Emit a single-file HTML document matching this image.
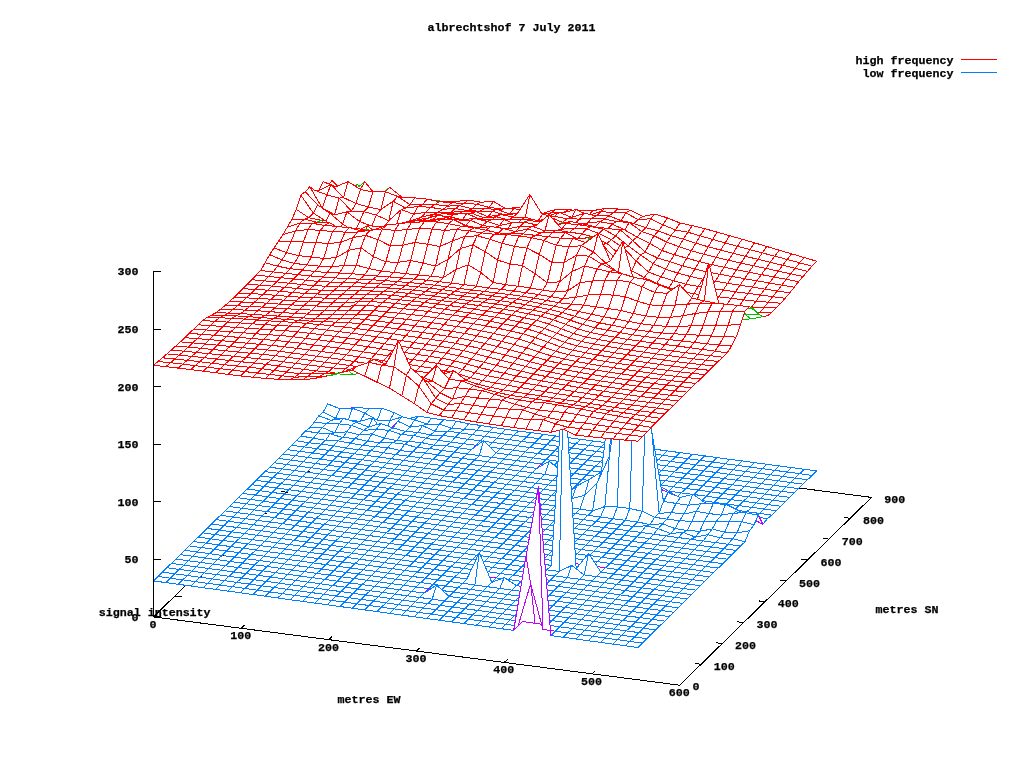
<!DOCTYPE html>
<html><head><meta charset="utf-8"><title>albrechtshof 7 July 2011</title>
<style>
html,body{margin:0;padding:0;background:#fff;}
body{width:1024px;height:768px;overflow:hidden;position:relative;font-family:"Liberation Mono",monospace;}
svg{position:absolute;left:0;top:0;}
.tx{pointer-events:none;}
.r{fill:#fff;stroke:#ff0000;}
.g{fill:#fff;stroke:#00c000;}
.b{fill:#fff;stroke:#0080ff;}
.m{fill:#fff;stroke:#c000ff;}
path{stroke-width:1;stroke-linejoin:bevel;}
.ax{stroke:#000;stroke-width:1;fill:none;}
text{font-family:"Liberation Mono",monospace;font-weight:bold;font-size:11.67px;fill:#000;stroke:#000;stroke-width:0.25px;}
</style></head><body>
<svg width="1024" height="768" viewBox="0 0 1024 768" shape-rendering="crispEdges" text-rendering="geometricPrecision">
<rect width="1024" height="768" fill="#fff"/>
<path class="ax" d="M153.5,616.9 L345.3,429.1"/>
<path class="ax" d="M871.5,497.4 L345.3,429.1"/>
<path class="ax" d="M174.8,596 L181.8,596.9"/>
<path class="ax" d="M196.1,575.2 L203.1,576.1"/>
<path class="ax" d="M217.4,554.3 L224.4,555.2"/>
<path class="ax" d="M238.7,533.4 L245.7,534.3"/>
<path class="ax" d="M260.1,512.6 L267.1,513.5"/>
<path class="ax" d="M281.4,491.7 L288.4,492.6"/>
<path class="ax" d="M302.7,470.8 L309.7,471.7"/>
<path class="ax" d="M324,450 L331,450.9"/>
<path class="ax" d="M345.3,429.1 L352.3,430"/>
<g>
<path class="m" d="M327.6,403.8 340.1,408.9 344.5,409.1 332.1,408.3z"/>
<path class="r" d="M327.6,185.6 340.1,192.3 344.5,193.4 332.1,180.6z"/>
<path class="m" d="M340.1,408.9 352.5,408.2 356.9,407.1 344.5,409.1z"/>
<path class="r" d="M340.1,192.3 352.5,191.6 356.9,184.5 344.5,193.4z"/>
<path class="b" d="M352.5,408.2 364.9,413 369.4,408.9 356.9,407.1z"/>
<path class="g" d="M352.5,191.6 364.9,181.7 369.4,192.3 356.9,184.5z"/>
<path class="b" d="M364.9,413 377.3,420.3 381.8,408.1 369.4,408.9z"/>
<path class="g" d="M364.9,181.7 377.3,197.2 381.8,195.1 369.4,192.3z"/>
<path class="b" d="M377.3,420.3 389.7,420.6 394.2,412.7 381.8,408.1z"/>
<path class="g" d="M377.3,197.2 389.7,187.4 394.2,201.3 381.8,195.1z"/>
<path class="b" d="M389.7,420.6 402.2,416.9 406.6,419 394.2,412.7z"/>
<path class="g" d="M389.7,187.4 402.2,197.4 406.6,200.7 394.2,201.3z"/>
<path class="b" d="M402.2,416.9 414.6,419.7 419,416.1 406.6,419z"/>
<path class="g" d="M402.2,197.4 414.6,197.9 419,200.6 406.6,200.7z"/>
<path class="b" d="M414.6,419.7 427,424 431.5,418.3 419,416.1z"/>
<path class="g" d="M414.6,197.9 427,199.1 431.5,200.8 419,200.6z"/>
<path class="b" d="M427,424 439.4,424 443.9,419.8 431.5,418.3z"/>
<path class="g" d="M427,199.1 439.4,201.6 443.9,201.1 431.5,200.8z"/>
<path class="b" d="M439.4,424 451.8,428.2 456.3,421.1 443.9,419.8z"/>
<path class="r" d="M439.4,201.6 451.8,202.9 456.3,201.4 443.9,201.1z"/>
<path class="b" d="M451.8,428.2 464.3,429.3 468.7,423.8 456.3,421.1z"/>
<path class="r" d="M451.8,202.9 464.3,203.2 468.7,200 456.3,201.4z"/>
<path class="b" d="M464.3,429.3 476.7,430.1 481.1,425.5 468.7,423.8z"/>
<path class="r" d="M464.3,203.2 476.7,204.2 481.1,202.2 468.7,200z"/>
<path class="b" d="M476.7,430.1 489.1,431.9 493.6,427.5 481.1,425.5z"/>
<path class="r" d="M476.7,204.2 489.1,207.2 493.6,201.5 481.1,202.2z"/>
<path class="b" d="M489.1,431.9 501.5,433.7 506,429.3 493.6,427.5z"/>
<path class="r" d="M489.1,207.2 501.5,209.1 506,208.7 493.6,201.5z"/>
<path class="b" d="M501.5,433.7 513.9,435.3 518.4,431 506,429.3z"/>
<path class="r" d="M501.5,209.1 513.9,208.3 518.4,207.3 506,208.7z"/>
<path class="b" d="M513.9,435.3 526.4,437 530.8,432.6 518.4,431z"/>
<path class="r" d="M513.9,208.3 526.4,212.1 530.8,212.1 518.4,207.3z"/>
<path class="b" d="M526.4,437 538.8,438.7 543.2,434.3 530.8,432.6z"/>
<path class="r" d="M526.4,212.1 538.8,214.4 543.2,213.2 530.8,212.1z"/>
<path class="b" d="M538.8,438.7 551.2,440.3 555.7,436 543.2,434.3z"/>
<path class="r" d="M538.8,214.4 551.2,212.9 555.7,209.4 543.2,213.2z"/>
<path class="b" d="M551.2,440.3 563.6,442 568.1,437.6 555.7,436z"/>
<path class="r" d="M551.2,212.9 563.6,212.7 568.1,209.6 555.7,209.4z"/>
<path class="b" d="M563.6,442 576,443.7 580.5,439.3 568.1,437.6z"/>
<path class="r" d="M563.6,212.7 576,209.6 580.5,210.8 568.1,209.6z"/>
<path class="b" d="M576,443.7 588.5,445.3 592.9,441 580.5,439.3z"/>
<path class="r" d="M576,209.6 588.5,215.3 592.9,210.7 580.5,210.8z"/>
<path class="b" d="M588.5,445.3 600.9,447 605.3,442.6 592.9,441z"/>
<path class="r" d="M588.5,215.3 600.9,211.5 605.3,208.3 592.9,210.7z"/>
<path class="b" d="M600.9,447 613.3,448.7 617.8,444.3 605.3,442.6z"/>
<path class="r" d="M600.9,211.5 613.3,212.7 617.8,209 605.3,208.3z"/>
<path class="b" d="M613.3,448.7 625.7,450.3 630.2,445.9 617.8,444.3z"/>
<path class="r" d="M613.3,212.7 625.7,212.9 630.2,210.1 617.8,209z"/>
<path class="b" d="M625.7,450.3 638.1,452 642.6,447.6 630.2,445.9z"/>
<path class="r" d="M625.7,212.9 638.1,219.5 642.6,216.4 630.2,210.1z"/>
<path class="b" d="M638.1,452 650.6,453.7 655,449.3 642.6,447.6z"/>
<path class="r" d="M638.1,219.5 650.6,218.8 655,214 642.6,216.4z"/>
<path class="b" d="M650.6,453.7 663,455.3 667.4,450.9 655,449.3z"/>
<path class="r" d="M650.6,218.8 663,224.8 667.4,217.9 655,214z"/>
<path class="b" d="M663,455.3 675.4,457 679.9,452.6 667.4,450.9z"/>
<path class="r" d="M663,224.8 675.4,230 679.9,223 667.4,217.9z"/>
<path class="b" d="M675.4,457 687.8,458.7 692.3,454.3 679.9,452.6z"/>
<path class="r" d="M675.4,230 687.8,232.2 692.3,225.6 679.9,223z"/>
<path class="b" d="M687.8,458.7 700.2,460.3 704.7,455.9 692.3,454.3z"/>
<path class="r" d="M687.8,232.2 700.2,235.9 704.7,228.7 692.3,225.6z"/>
<path class="b" d="M700.2,460.3 712.7,462 717.1,457.6 704.7,455.9z"/>
<path class="r" d="M700.2,235.9 712.7,239.4 717.1,232.1 704.7,228.7z"/>
<path class="b" d="M712.7,462 725.1,463.7 729.5,459.3 717.1,457.6z"/>
<path class="r" d="M712.7,239.4 725.1,242.9 729.5,235.6 717.1,232.1z"/>
<path class="b" d="M725.1,463.7 737.5,465.4 742,460.9 729.5,459.3z"/>
<path class="r" d="M725.1,242.9 737.5,246.3 742,239.2 729.5,235.6z"/>
<path class="b" d="M737.5,465.4 749.9,467 754.4,462.6 742,460.9z"/>
<path class="r" d="M737.5,246.3 749.9,249.6 754.4,242.8 742,239.2z"/>
<path class="b" d="M749.9,467 762.3,468.7 766.8,464.3 754.4,462.6z"/>
<path class="r" d="M749.9,249.6 762.3,252.9 766.8,246.5 754.4,242.8z"/>
<path class="b" d="M762.3,468.7 774.8,470.4 779.2,465.9 766.8,464.3z"/>
<path class="r" d="M762.3,252.9 774.8,256.2 779.2,250.2 766.8,246.5z"/>
<path class="b" d="M774.8,470.4 787.2,472 791.6,467.6 779.2,465.9z"/>
<path class="r" d="M774.8,256.2 787.2,259.5 791.6,253.8 779.2,250.2z"/>
<path class="b" d="M787.2,472 799.6,473.7 804.1,469.3 791.6,467.6z"/>
<path class="r" d="M787.2,259.5 799.6,262.8 804.1,257.5 791.6,253.8z"/>
<path class="b" d="M799.6,473.7 812,475.4 816.5,470.9 804.1,469.3z"/>
<path class="r" d="M799.6,262.8 812,266.2 816.5,261.2 804.1,257.5z"/>
<path class="b" d="M323.2,412.1 335.6,418.3 340.1,408.9 327.6,403.8z"/>
<path class="g" d="M323.2,181.6 335.6,186.9 340.1,192.3 327.6,185.6z"/>
<path class="b" d="M335.6,418.3 348,420.5 352.5,408.2 340.1,408.9z"/>
<path class="g" d="M335.6,186.9 348,181.6 352.5,191.6 340.1,192.3z"/>
<path class="b" d="M348,420.5 360.4,421.2 364.9,413 352.5,408.2z"/>
<path class="g" d="M348,181.6 360.4,189.4 364.9,181.7 352.5,191.6z"/>
<path class="b" d="M360.4,421.2 372.9,417.7 377.3,420.3 364.9,413z"/>
<path class="r" d="M360.4,189.4 372.9,191.9 377.3,197.2 364.9,181.7z"/>
<path class="b" d="M372.9,417.7 385.3,435.8 389.7,420.6 377.3,420.3z"/>
<path class="g" d="M372.9,191.9 385.3,191.6 389.7,187.4 377.3,197.2z"/>
<path class="b" d="M385.3,435.8 397.7,421.1 402.2,416.9 389.7,420.6z"/>
<path class="r" d="M385.3,191.6 397.7,196.5 402.2,197.4 389.7,187.4z"/>
<path class="b" d="M397.7,421.1 410.1,427.1 414.6,419.7 402.2,416.9z"/>
<path class="r" d="M397.7,196.5 410.1,204.6 414.6,197.9 402.2,197.4z"/>
<path class="b" d="M410.1,427.1 422.5,425.6 427,424 414.6,419.7z"/>
<path class="r" d="M410.1,204.6 422.5,204.9 427,199.1 414.6,197.9z"/>
<path class="b" d="M422.5,425.6 434.9,431.2 439.4,424 427,424z"/>
<path class="r" d="M422.5,204.9 434.9,204.5 439.4,201.6 427,199.1z"/>
<path class="b" d="M434.9,431.2 447.4,431.2 451.8,428.2 439.4,424z"/>
<path class="r" d="M434.9,204.5 447.4,206.1 451.8,202.9 439.4,201.6z"/>
<path class="b" d="M447.4,431.2 459.8,432.8 464.3,429.3 451.8,428.2z"/>
<path class="r" d="M447.4,206.1 459.8,205.6 464.3,203.2 451.8,202.9z"/>
<path class="b" d="M459.8,432.8 472.2,434.7 476.7,430.1 464.3,429.3z"/>
<path class="r" d="M459.8,205.6 472.2,208.9 476.7,204.2 464.3,203.2z"/>
<path class="b" d="M472.2,434.7 484.6,436.3 489.1,431.9 476.7,430.1z"/>
<path class="r" d="M472.2,208.9 484.6,208.7 489.1,207.2 476.7,204.2z"/>
<path class="b" d="M484.6,436.3 497,438.1 501.5,433.7 489.1,431.9z"/>
<path class="r" d="M484.6,208.7 497,209.3 501.5,209.1 489.1,207.2z"/>
<path class="b" d="M497,438.1 509.5,439.7 513.9,435.3 501.5,433.7z"/>
<path class="r" d="M497,209.3 509.5,214.1 513.9,208.3 501.5,209.1z"/>
<path class="b" d="M509.5,439.7 521.9,441.4 526.4,437 513.9,435.3z"/>
<path class="r" d="M509.5,214.1 521.9,212.5 526.4,212.1 513.9,208.3z"/>
<path class="b" d="M521.9,441.4 534.3,443.1 538.8,438.7 526.4,437z"/>
<path class="r" d="M521.9,212.5 534.3,216.8 538.8,214.4 526.4,212.1z"/>
<path class="b" d="M534.3,443.1 546.7,444.7 551.2,440.3 538.8,438.7z"/>
<path class="r" d="M534.3,216.8 546.7,216.5 551.2,212.9 538.8,214.4z"/>
<path class="b" d="M546.7,444.7 559.1,446.4 563.6,442 551.2,440.3z"/>
<path class="r" d="M546.7,216.5 559.1,212.3 563.6,212.7 551.2,212.9z"/>
<path class="b" d="M559.1,446.4 571.6,448.1 576,443.7 563.6,442z"/>
<path class="r" d="M559.1,212.3 571.6,217.4 576,209.6 563.6,212.7z"/>
<path class="b" d="M571.6,448.1 584,449.7 588.5,445.3 576,443.7z"/>
<path class="r" d="M571.6,217.4 584,213.2 588.5,215.3 576,209.6z"/>
<path class="b" d="M584,449.7 596.4,451.4 600.9,447 588.5,445.3z"/>
<path class="r" d="M584,213.2 596.4,215.9 600.9,211.5 588.5,215.3z"/>
<path class="b" d="M596.4,451.4 608.8,453.1 613.3,448.7 600.9,447z"/>
<path class="r" d="M596.4,215.9 608.8,215.9 613.3,212.7 600.9,211.5z"/>
<path class="b" d="M608.8,453.1 621.2,454.7 625.7,450.3 613.3,448.7z"/>
<path class="r" d="M608.8,215.9 621.2,220.5 625.7,212.9 613.3,212.7z"/>
<path class="b" d="M621.2,454.7 633.7,456.4 638.1,452 625.7,450.3z"/>
<path class="r" d="M621.2,220.5 633.7,223.5 638.1,219.5 625.7,212.9z"/>
<path class="b" d="M633.7,456.4 646.1,458.1 650.6,453.7 638.1,452z"/>
<path class="r" d="M633.7,223.5 646.1,227.8 650.6,218.8 638.1,219.5z"/>
<path class="b" d="M646.1,458.1 658.5,459.8 663,455.3 650.6,453.7z"/>
<path class="r" d="M646.1,227.8 658.5,231 663,224.8 650.6,218.8z"/>
<path class="b" d="M658.5,459.8 670.9,461.4 675.4,457 663,455.3z"/>
<path class="r" d="M658.5,231 670.9,235.7 675.4,230 663,224.8z"/>
<path class="b" d="M670.9,461.4 683.4,463.1 687.8,458.7 675.4,457z"/>
<path class="r" d="M670.9,235.7 683.4,239.1 687.8,232.2 675.4,230z"/>
<path class="b" d="M683.4,463.1 695.8,464.8 700.2,460.3 687.8,458.7z"/>
<path class="r" d="M683.4,239.1 695.8,243.2 700.2,235.9 687.8,232.2z"/>
<path class="b" d="M695.8,464.8 708.2,466.4 712.7,462 700.2,460.3z"/>
<path class="r" d="M695.8,243.2 708.2,246.8 712.7,239.4 700.2,235.9z"/>
<path class="b" d="M708.2,466.4 720.6,468.1 725.1,463.7 712.7,462z"/>
<path class="r" d="M708.2,246.8 720.6,250.1 725.1,242.9 712.7,239.4z"/>
<path class="b" d="M720.6,468.1 733,469.8 737.5,465.4 725.1,463.7z"/>
<path class="r" d="M720.6,250.1 733,253.3 737.5,246.3 725.1,242.9z"/>
<path class="b" d="M733,469.8 745.4,471.4 749.9,467 737.5,465.4z"/>
<path class="r" d="M733,253.3 745.4,256.3 749.9,249.6 737.5,246.3z"/>
<path class="b" d="M745.4,471.4 757.9,473.1 762.3,468.7 749.9,467z"/>
<path class="r" d="M745.4,256.3 757.9,259.3 762.3,252.9 749.9,249.6z"/>
<path class="b" d="M757.9,473.1 770.3,474.8 774.8,470.4 762.3,468.7z"/>
<path class="r" d="M757.9,259.3 770.3,262.3 774.8,256.2 762.3,252.9z"/>
<path class="b" d="M770.3,474.8 782.7,476.4 787.2,472 774.8,470.4z"/>
<path class="r" d="M770.3,262.3 782.7,265.3 787.2,259.5 774.8,256.2z"/>
<path class="b" d="M782.7,476.4 795.1,478.1 799.6,473.7 787.2,472z"/>
<path class="r" d="M782.7,265.3 795.1,268.3 799.6,262.8 787.2,259.5z"/>
<path class="b" d="M795.1,478.1 807.5,479.8 812,475.4 799.6,473.7z"/>
<path class="r" d="M795.1,268.3 807.5,271.3 812,266.2 799.6,262.8z"/>
<path class="b" d="M318.7,415.9 331.1,420.3 335.6,418.3 323.2,412.1z"/>
<path class="r" d="M318.7,190.7 331.1,184.6 335.6,186.9 323.2,181.6z"/>
<path class="b" d="M331.1,420.3 343.5,418.4 348,420.5 335.6,418.3z"/>
<path class="r" d="M331.1,184.6 343.5,197.6 348,181.6 335.6,186.9z"/>
<path class="b" d="M343.5,418.4 356,422.1 360.4,421.2 348,420.5z"/>
<path class="r" d="M343.5,197.6 356,203.5 360.4,189.4 348,181.6z"/>
<path class="b" d="M356,422.1 368.4,427.1 372.9,417.7 360.4,421.2z"/>
<path class="r" d="M356,203.5 368.4,207 372.9,191.9 360.4,189.4z"/>
<path class="b" d="M368.4,427.1 380.8,423.4 385.3,435.8 372.9,417.7z"/>
<path class="r" d="M368.4,207 380.8,209.5 385.3,191.6 372.9,191.9z"/>
<path class="m" d="M380.8,423.4 393.2,428.1 397.7,421.1 385.3,435.8z"/>
<path class="r" d="M380.8,209.5 393.2,201.3 397.7,196.5 385.3,191.6z"/>
<path class="b" d="M393.2,428.1 405.6,431.4 410.1,427.1 397.7,421.1z"/>
<path class="r" d="M393.2,201.3 405.6,208.1 410.1,204.6 397.7,196.5z"/>
<path class="b" d="M405.6,431.4 418.1,432.4 422.5,425.6 410.1,427.1z"/>
<path class="r" d="M405.6,208.1 418.1,206.4 422.5,204.9 410.1,204.6z"/>
<path class="b" d="M418.1,432.4 430.5,435 434.9,431.2 422.5,425.6z"/>
<path class="r" d="M418.1,206.4 430.5,207.4 434.9,204.5 422.5,204.9z"/>
<path class="b" d="M430.5,435 442.9,435.4 447.4,431.2 434.9,431.2z"/>
<path class="r" d="M430.5,207.4 442.9,209.3 447.4,206.1 434.9,204.5z"/>
<path class="b" d="M442.9,435.4 455.3,437.2 459.8,432.8 447.4,431.2z"/>
<path class="r" d="M442.9,209.3 455.3,208.5 459.8,205.6 447.4,206.1z"/>
<path class="b" d="M455.3,437.2 467.7,439.3 472.2,434.7 459.8,432.8z"/>
<path class="r" d="M455.3,208.5 467.7,210.7 472.2,208.9 459.8,205.6z"/>
<path class="b" d="M467.7,439.3 480.2,440.8 484.6,436.3 472.2,434.7z"/>
<path class="r" d="M467.7,210.7 480.2,211.2 484.6,208.7 472.2,208.9z"/>
<path class="b" d="M480.2,440.8 492.6,442.5 497,438.1 484.6,436.3z"/>
<path class="r" d="M480.2,211.2 492.6,211.2 497,209.3 484.6,208.7z"/>
<path class="b" d="M492.6,442.5 505,444.1 509.5,439.7 497,438.1z"/>
<path class="r" d="M492.6,211.2 505,215.1 509.5,214.1 497,209.3z"/>
<path class="b" d="M505,444.1 517.4,445.8 521.9,441.4 509.5,439.7z"/>
<path class="r" d="M505,215.1 517.4,213.4 521.9,212.5 509.5,214.1z"/>
<path class="b" d="M517.4,445.8 529.8,447.5 534.3,443.1 521.9,441.4z"/>
<path class="g" d="M517.4,213.4 529.8,194.6 534.3,216.8 521.9,212.5z"/>
<path class="b" d="M529.8,447.5 542.3,449.1 546.7,444.7 534.3,443.1z"/>
<path class="g" d="M529.8,194.6 542.3,214.5 546.7,216.5 534.3,216.8z"/>
<path class="b" d="M542.3,449.1 554.7,450.8 559.1,446.4 546.7,444.7z"/>
<path class="r" d="M542.3,214.5 554.7,216.4 559.1,212.3 546.7,216.5z"/>
<path class="b" d="M554.7,450.8 567.1,452.5 571.6,448.1 559.1,446.4z"/>
<path class="r" d="M554.7,216.4 567.1,218.7 571.6,217.4 559.1,212.3z"/>
<path class="b" d="M567.1,452.5 579.5,454.1 584,449.7 571.6,448.1z"/>
<path class="r" d="M567.1,218.7 579.5,219.1 584,213.2 571.6,217.4z"/>
<path class="b" d="M579.5,454.1 591.9,455.8 596.4,451.4 584,449.7z"/>
<path class="r" d="M579.5,219.1 591.9,218.2 596.4,215.9 584,213.2z"/>
<path class="b" d="M591.9,455.8 604.4,457.5 608.8,453.1 596.4,451.4z"/>
<path class="r" d="M591.9,218.2 604.4,219 608.8,215.9 596.4,215.9z"/>
<path class="b" d="M604.4,457.5 616.8,459.1 621.2,454.7 608.8,453.1z"/>
<path class="r" d="M604.4,219 616.8,221.5 621.2,220.5 608.8,215.9z"/>
<path class="b" d="M616.8,459.1 629.2,460.8 633.7,456.4 621.2,454.7z"/>
<path class="r" d="M616.8,221.5 629.2,222.5 633.7,223.5 621.2,220.5z"/>
<path class="b" d="M629.2,460.8 641.6,462.5 646.1,458.1 633.7,456.4z"/>
<path class="r" d="M629.2,222.5 641.6,231.5 646.1,227.8 633.7,223.5z"/>
<path class="b" d="M641.6,462.5 654,464.2 658.5,459.8 646.1,458.1z"/>
<path class="r" d="M641.6,231.5 654,235.8 658.5,231 646.1,227.8z"/>
<path class="b" d="M654,464.2 666.5,465.8 670.9,461.4 658.5,459.8z"/>
<path class="r" d="M654,235.8 666.5,242 670.9,235.7 658.5,231z"/>
<path class="b" d="M666.5,465.8 678.9,467.5 683.4,463.1 670.9,461.4z"/>
<path class="r" d="M666.5,242 678.9,246.6 683.4,239.1 670.9,235.7z"/>
<path class="b" d="M678.9,467.5 691.3,469.2 695.8,464.8 683.4,463.1z"/>
<path class="r" d="M678.9,246.6 691.3,250.7 695.8,243.2 683.4,239.1z"/>
<path class="b" d="M691.3,469.2 703.7,470.8 708.2,466.4 695.8,464.8z"/>
<path class="r" d="M691.3,250.7 703.7,254.2 708.2,246.8 695.8,243.2z"/>
<path class="b" d="M703.7,470.8 716.1,472.5 720.6,468.1 708.2,466.4z"/>
<path class="r" d="M703.7,254.2 716.1,257.4 720.6,250.1 708.2,246.8z"/>
<path class="b" d="M716.1,472.5 728.6,474.2 733,469.8 720.6,468.1z"/>
<path class="r" d="M716.1,257.4 728.6,260.3 733,253.3 720.6,250.1z"/>
<path class="b" d="M728.6,474.2 741,475.8 745.4,471.4 733,469.8z"/>
<path class="r" d="M728.6,260.3 741,263.1 745.4,256.3 733,253.3z"/>
<path class="b" d="M741,475.8 753.4,477.5 757.9,473.1 745.4,471.4z"/>
<path class="r" d="M741,263.1 753.4,265.7 757.9,259.3 745.4,256.3z"/>
<path class="b" d="M753.4,477.5 765.8,479.2 770.3,474.8 757.9,473.1z"/>
<path class="r" d="M753.4,265.7 765.8,268.4 770.3,262.3 757.9,259.3z"/>
<path class="b" d="M765.8,479.2 778.2,480.8 782.7,476.4 770.3,474.8z"/>
<path class="r" d="M765.8,268.4 778.2,271.1 782.7,265.3 770.3,262.3z"/>
<path class="b" d="M778.2,480.8 790.7,482.5 795.1,478.1 782.7,476.4z"/>
<path class="r" d="M778.2,271.1 790.7,273.8 795.1,268.3 782.7,265.3z"/>
<path class="b" d="M790.7,482.5 803.1,484.2 807.5,479.8 795.1,478.1z"/>
<path class="r" d="M790.7,273.8 803.1,276.4 807.5,271.3 795.1,268.3z"/>
<path class="b" d="M314.2,422.3 326.7,423.5 331.1,420.3 318.7,415.9z"/>
<path class="r" d="M314.2,190 326.7,194.8 331.1,184.6 318.7,190.7z"/>
<path class="b" d="M326.7,423.5 339.1,423.9 343.5,418.4 331.1,420.3z"/>
<path class="r" d="M326.7,194.8 339.1,198.1 343.5,197.6 331.1,184.6z"/>
<path class="b" d="M339.1,423.9 351.5,425.3 356,422.1 343.5,418.4z"/>
<path class="r" d="M339.1,198.1 351.5,211 356,203.5 343.5,197.6z"/>
<path class="b" d="M351.5,425.3 363.9,430.2 368.4,427.1 356,422.1z"/>
<path class="r" d="M351.5,211 363.9,211.6 368.4,207 356,203.5z"/>
<path class="b" d="M363.9,430.2 376.3,429.6 380.8,423.4 368.4,427.1z"/>
<path class="r" d="M363.9,211.6 376.3,215.1 380.8,209.5 368.4,207z"/>
<path class="b" d="M376.3,429.6 388.8,430.2 393.2,428.1 380.8,423.4z"/>
<path class="r" d="M376.3,215.1 388.8,220.7 393.2,201.3 380.8,209.5z"/>
<path class="b" d="M388.8,430.2 401.2,434.6 405.6,431.4 393.2,428.1z"/>
<path class="r" d="M388.8,220.7 401.2,209.6 405.6,208.1 393.2,201.3z"/>
<path class="b" d="M401.2,434.6 413.6,435.5 418.1,432.4 405.6,431.4z"/>
<path class="r" d="M401.2,209.6 413.6,214.2 418.1,206.4 405.6,208.1z"/>
<path class="b" d="M413.6,435.5 426,438.3 430.5,435 418.1,432.4z"/>
<path class="r" d="M413.6,214.2 426,212.2 430.5,207.4 418.1,206.4z"/>
<path class="b" d="M426,438.3 438.4,440.3 442.9,435.4 430.5,435z"/>
<path class="r" d="M426,212.2 438.4,212.1 442.9,209.3 430.5,207.4z"/>
<path class="b" d="M438.4,440.3 450.9,442.2 455.3,437.2 442.9,435.4z"/>
<path class="r" d="M438.4,212.1 450.9,212.3 455.3,208.5 442.9,209.3z"/>
<path class="b" d="M450.9,442.2 463.3,443.7 467.7,439.3 455.3,437.2z"/>
<path class="r" d="M450.9,212.3 463.3,211.2 467.7,210.7 455.3,208.5z"/>
<path class="b" d="M463.3,443.7 475.7,445.2 480.2,440.8 467.7,439.3z"/>
<path class="r" d="M463.3,211.2 475.7,211.6 480.2,211.2 467.7,210.7z"/>
<path class="b" d="M475.7,445.2 488.1,446.8 492.6,442.5 480.2,440.8z"/>
<path class="r" d="M475.7,211.6 488.1,216.8 492.6,211.2 480.2,211.2z"/>
<path class="b" d="M488.1,446.8 500.5,448.5 505,444.1 492.6,442.5z"/>
<path class="r" d="M488.1,216.8 500.5,214.5 505,215.1 492.6,211.2z"/>
<path class="b" d="M500.5,448.5 513,450.2 517.4,445.8 505,444.1z"/>
<path class="r" d="M500.5,214.5 513,217 517.4,213.4 505,215.1z"/>
<path class="b" d="M513,450.2 525.4,451.9 529.8,447.5 517.4,445.8z"/>
<path class="r" d="M513,217 525.4,217 529.8,194.6 517.4,213.4z"/>
<path class="b" d="M525.4,451.9 537.8,453.5 542.3,449.1 529.8,447.5z"/>
<path class="r" d="M525.4,217 537.8,221.2 542.3,214.5 529.8,194.6z"/>
<path class="b" d="M537.8,453.5 550.2,455.2 554.7,450.8 542.3,449.1z"/>
<path class="r" d="M537.8,221.2 550.2,217.2 554.7,216.4 542.3,214.5z"/>
<path class="b" d="M550.2,455.2 562.6,456.9 567.1,452.5 554.7,450.8z"/>
<path class="r" d="M550.2,217.2 562.6,222.4 567.1,218.7 554.7,216.4z"/>
<path class="b" d="M562.6,456.9 575.1,458.5 579.5,454.1 567.1,452.5z"/>
<path class="r" d="M562.6,222.4 575.1,223.1 579.5,219.1 567.1,218.7z"/>
<path class="b" d="M575.1,458.5 587.5,460.2 591.9,455.8 579.5,454.1z"/>
<path class="r" d="M575.1,223.1 587.5,223.1 591.9,218.2 579.5,219.1z"/>
<path class="b" d="M587.5,460.2 599.9,461.9 604.4,457.5 591.9,455.8z"/>
<path class="r" d="M587.5,223.1 599.9,221.7 604.4,219 591.9,218.2z"/>
<path class="b" d="M599.9,461.9 612.3,463.5 616.8,459.1 604.4,457.5z"/>
<path class="r" d="M599.9,221.7 612.3,224.1 616.8,221.5 604.4,219z"/>
<path class="b" d="M612.3,463.5 624.7,465.2 629.2,460.8 616.8,459.1z"/>
<path class="r" d="M612.3,224.1 624.7,229.9 629.2,222.5 616.8,221.5z"/>
<path class="b" d="M624.7,465.2 637.2,466.9 641.6,462.5 629.2,460.8z"/>
<path class="r" d="M624.7,229.9 637.2,237.1 641.6,231.5 629.2,222.5z"/>
<path class="b" d="M637.2,466.9 649.6,468.6 654,464.2 641.6,462.5z"/>
<path class="r" d="M637.2,237.1 649.6,243.4 654,235.8 641.6,231.5z"/>
<path class="b" d="M649.6,468.6 662,470.2 666.5,465.8 654,464.2z"/>
<path class="r" d="M649.6,243.4 662,250.5 666.5,242 654,235.8z"/>
<path class="b" d="M662,470.2 674.4,471.9 678.9,467.5 666.5,465.8z"/>
<path class="r" d="M662,250.5 674.4,254.7 678.9,246.6 666.5,242z"/>
<path class="b" d="M674.4,471.9 686.8,473.6 691.3,469.2 678.9,467.5z"/>
<path class="r" d="M674.4,254.7 686.8,258.2 691.3,250.7 678.9,246.6z"/>
<path class="b" d="M686.8,473.6 699.3,475.2 703.7,470.8 691.3,469.2z"/>
<path class="r" d="M686.8,258.2 699.3,261.6 703.7,254.2 691.3,250.7z"/>
<path class="b" d="M699.3,475.2 711.7,476.9 716.1,472.5 703.7,470.8z"/>
<path class="r" d="M699.3,261.6 711.7,264.6 716.1,257.4 703.7,254.2z"/>
<path class="b" d="M711.7,476.9 724.1,478.6 728.6,474.2 716.1,472.5z"/>
<path class="r" d="M711.7,264.6 724.1,267.3 728.6,260.3 716.1,257.4z"/>
<path class="b" d="M724.1,478.6 736.5,480.2 741,475.8 728.6,474.2z"/>
<path class="r" d="M724.1,267.3 736.5,269.8 741,263.1 728.6,260.3z"/>
<path class="b" d="M736.5,480.2 748.9,481.9 753.4,477.5 741,475.8z"/>
<path class="r" d="M736.5,269.8 748.9,272.2 753.4,265.7 741,263.1z"/>
<path class="b" d="M748.9,481.9 761.4,483.6 765.8,479.2 753.4,477.5z"/>
<path class="r" d="M748.9,272.2 761.4,274.6 765.8,268.4 753.4,265.7z"/>
<path class="b" d="M761.4,483.6 773.8,485.3 778.2,480.8 765.8,479.2z"/>
<path class="r" d="M761.4,274.6 773.8,277 778.2,271.1 765.8,268.4z"/>
<path class="b" d="M773.8,485.3 786.2,486.9 790.7,482.5 778.2,480.8z"/>
<path class="r" d="M773.8,277 786.2,279.3 790.7,273.8 778.2,271.1z"/>
<path class="b" d="M786.2,486.9 798.6,488.6 803.1,484.2 790.7,482.5z"/>
<path class="r" d="M786.2,279.3 798.6,281.7 803.1,276.4 790.7,273.8z"/>
<path class="b" d="M309.8,427.7 322.2,427.5 326.7,423.5 314.2,422.3z"/>
<path class="r" d="M309.8,186.7 322.2,208.1 326.7,194.8 314.2,190z"/>
<path class="b" d="M322.2,427.5 334.6,432.9 339.1,423.9 326.7,423.5z"/>
<path class="r" d="M322.2,208.1 334.6,214.7 339.1,198.1 326.7,194.8z"/>
<path class="b" d="M334.6,432.9 347,431.8 351.5,425.3 339.1,423.9z"/>
<path class="r" d="M334.6,214.7 347,211.9 351.5,211 339.1,198.1z"/>
<path class="b" d="M347,431.8 359.5,434.8 363.9,430.2 351.5,425.3z"/>
<path class="r" d="M347,211.9 359.5,221.6 363.9,211.6 351.5,211z"/>
<path class="b" d="M359.5,434.8 371.9,433.9 376.3,429.6 363.9,430.2z"/>
<path class="r" d="M359.5,221.6 371.9,226 376.3,215.1 363.9,211.6z"/>
<path class="b" d="M371.9,433.9 384.3,438 388.8,430.2 376.3,429.6z"/>
<path class="r" d="M371.9,226 384.3,226.9 388.8,220.7 376.3,215.1z"/>
<path class="b" d="M384.3,438 396.7,440.6 401.2,434.6 388.8,430.2z"/>
<path class="r" d="M384.3,226.9 396.7,224.5 401.2,209.6 388.8,220.7z"/>
<path class="b" d="M396.7,440.6 409.1,441.5 413.6,435.5 401.2,434.6z"/>
<path class="r" d="M396.7,224.5 409.1,221.2 413.6,214.2 401.2,209.6z"/>
<path class="b" d="M409.1,441.5 421.6,442.6 426,438.3 413.6,435.5z"/>
<path class="r" d="M409.1,221.2 421.6,217 426,212.2 413.6,214.2z"/>
<path class="b" d="M421.6,442.6 434,445.2 438.4,440.3 426,438.3z"/>
<path class="r" d="M421.6,217 434,214.2 438.4,212.1 426,212.2z"/>
<path class="b" d="M434,445.2 446.4,445.7 450.9,442.2 438.4,440.3z"/>
<path class="r" d="M434,214.2 446.4,213.9 450.9,212.3 438.4,212.1z"/>
<path class="b" d="M446.4,445.7 458.8,447.8 463.3,443.7 450.9,442.2z"/>
<path class="r" d="M446.4,213.9 458.8,213.8 463.3,211.2 450.9,212.3z"/>
<path class="b" d="M458.8,447.8 471.2,449.6 475.7,445.2 463.3,443.7z"/>
<path class="r" d="M458.8,213.8 471.2,213.1 475.7,211.6 463.3,211.2z"/>
<path class="m" d="M471.2,449.6 483.7,440.4 488.1,446.8 475.7,445.2z"/>
<path class="r" d="M471.2,213.1 483.7,217.7 488.1,216.8 475.7,211.6z"/>
<path class="b" d="M483.7,440.4 496.1,452.9 500.5,448.5 488.1,446.8z"/>
<path class="r" d="M483.7,217.7 496.1,216.9 500.5,214.5 488.1,216.8z"/>
<path class="b" d="M496.1,452.9 508.5,454.6 513,450.2 500.5,448.5z"/>
<path class="r" d="M496.1,216.9 508.5,219.8 513,217 500.5,214.5z"/>
<path class="b" d="M508.5,454.6 520.9,456.2 525.4,451.9 513,450.2z"/>
<path class="r" d="M508.5,219.8 520.9,219.8 525.4,217 513,217z"/>
<path class="b" d="M520.9,456.2 533.3,457.9 537.8,453.5 525.4,451.9z"/>
<path class="r" d="M520.9,219.8 533.3,219.6 537.8,221.2 525.4,217z"/>
<path class="b" d="M533.3,457.9 545.8,459.6 550.2,455.2 537.8,453.5z"/>
<path class="r" d="M533.3,219.6 545.8,223.5 550.2,217.2 537.8,221.2z"/>
<path class="b" d="M545.8,459.6 558.2,461.3 562.6,456.9 550.2,455.2z"/>
<path class="r" d="M545.8,223.5 558.2,224.3 562.6,222.4 550.2,217.2z"/>
<path class="b" d="M558.2,461.3 570.6,462.9 575.1,458.5 562.6,456.9z"/>
<path class="g" d="M558.2,224.3 570.6,221.5 575.1,223.1 562.6,222.4z"/>
<path class="b" d="M570.6,462.9 583,464.6 587.5,460.2 575.1,458.5z"/>
<path class="r" d="M570.6,221.5 583,223.9 587.5,223.1 575.1,223.1z"/>
<path class="b" d="M583,464.6 595.4,466.3 599.9,461.9 587.5,460.2z"/>
<path class="r" d="M583,223.9 595.4,226.9 599.9,221.7 587.5,223.1z"/>
<path class="b" d="M595.4,466.3 607.9,467.9 612.3,463.5 599.9,461.9z"/>
<path class="r" d="M595.4,226.9 607.9,228.5 612.3,224.1 599.9,221.7z"/>
<path class="b" d="M607.9,467.9 620.3,469.6 624.7,465.2 612.3,463.5z"/>
<path class="r" d="M607.9,228.5 620.3,229.9 624.7,229.9 612.3,224.1z"/>
<path class="b" d="M620.3,469.6 632.7,471.3 637.2,466.9 624.7,465.2z"/>
<path class="r" d="M620.3,229.9 632.7,240.5 637.2,237.1 624.7,229.9z"/>
<path class="b" d="M632.7,471.3 645.1,473 649.6,468.6 637.2,466.9z"/>
<path class="r" d="M632.7,240.5 645.1,252.1 649.6,243.4 637.2,237.1z"/>
<path class="b" d="M645.1,473 657.5,474.6 662,470.2 649.6,468.6z"/>
<path class="r" d="M645.1,252.1 657.5,257.9 662,250.5 649.6,243.4z"/>
<path class="b" d="M657.5,474.6 670,476.3 674.4,471.9 662,470.2z"/>
<path class="r" d="M657.5,257.9 670,261.7 674.4,254.7 662,250.5z"/>
<path class="b" d="M670,476.3 682.4,478 686.8,473.6 674.4,471.9z"/>
<path class="r" d="M670,261.7 682.4,265.7 686.8,258.2 674.4,254.7z"/>
<path class="b" d="M682.4,478 694.8,479.6 699.3,475.2 686.8,473.6z"/>
<path class="r" d="M682.4,265.7 694.8,269.1 699.3,261.6 686.8,258.2z"/>
<path class="b" d="M694.8,479.6 707.2,481.3 711.7,476.9 699.3,475.2z"/>
<path class="r" d="M694.8,269.1 707.2,271.9 711.7,264.6 699.3,261.6z"/>
<path class="b" d="M707.2,481.3 719.6,483 724.1,478.6 711.7,476.9z"/>
<path class="r" d="M707.2,271.9 719.6,274.3 724.1,267.3 711.7,264.6z"/>
<path class="b" d="M719.6,483 732.1,484.7 736.5,480.2 724.1,478.6z"/>
<path class="r" d="M719.6,274.3 732.1,276.5 736.5,269.8 724.1,267.3z"/>
<path class="b" d="M732.1,484.7 744.5,486.3 748.9,481.9 736.5,480.2z"/>
<path class="r" d="M732.1,276.5 744.5,278.7 748.9,272.2 736.5,269.8z"/>
<path class="b" d="M744.5,486.3 756.9,488 761.4,483.6 748.9,481.9z"/>
<path class="r" d="M744.5,278.7 756.9,280.8 761.4,274.6 748.9,272.2z"/>
<path class="b" d="M756.9,488 769.3,489.7 773.8,485.3 761.4,483.6z"/>
<path class="r" d="M756.9,280.8 769.3,283 773.8,277 761.4,274.6z"/>
<path class="b" d="M769.3,489.7 781.7,491.3 786.2,486.9 773.8,485.3z"/>
<path class="r" d="M769.3,283 781.7,285.1 786.2,279.3 773.8,277z"/>
<path class="b" d="M781.7,491.3 794.2,493 798.6,488.6 786.2,486.9z"/>
<path class="r" d="M781.7,285.1 794.2,287.2 798.6,281.7 786.2,279.3z"/>
<path class="b" d="M305.3,431.1 317.7,432.9 322.2,427.5 309.8,427.7z"/>
<path class="r" d="M305.3,191.8 317.7,204.9 322.2,208.1 309.8,186.7z"/>
<path class="b" d="M317.7,432.9 330.1,433.7 334.6,432.9 322.2,427.5z"/>
<path class="r" d="M317.7,204.9 330.1,213.5 334.6,214.7 322.2,208.1z"/>
<path class="b" d="M330.1,433.7 342.6,437.6 347,431.8 334.6,432.9z"/>
<path class="r" d="M330.1,213.5 342.6,224 347,211.9 334.6,214.7z"/>
<path class="b" d="M342.6,437.6 355,438.4 359.5,434.8 347,431.8z"/>
<path class="r" d="M342.6,224 355,232.1 359.5,221.6 347,211.9z"/>
<path class="b" d="M355,438.4 367.4,441.4 371.9,433.9 359.5,434.8z"/>
<path class="r" d="M355,232.1 367.4,225.6 371.9,226 359.5,221.6z"/>
<path class="b" d="M367.4,441.4 379.8,442.6 384.3,438 371.9,433.9z"/>
<path class="r" d="M367.4,225.6 379.8,236.1 384.3,226.9 371.9,226z"/>
<path class="b" d="M379.8,442.6 392.2,442.7 396.7,440.6 384.3,438z"/>
<path class="r" d="M379.8,236.1 392.2,230.9 396.7,224.5 384.3,226.9z"/>
<path class="b" d="M392.2,442.7 404.7,444.2 409.1,441.5 396.7,440.6z"/>
<path class="r" d="M392.2,230.9 404.7,222.5 409.1,221.2 396.7,224.5z"/>
<path class="b" d="M404.7,444.2 417.1,447.5 421.6,442.6 409.1,441.5z"/>
<path class="r" d="M404.7,222.5 417.1,220 421.6,217 409.1,221.2z"/>
<path class="b" d="M417.1,447.5 429.5,448.5 434,445.2 421.6,442.6z"/>
<path class="r" d="M417.1,220 429.5,217.7 434,214.2 421.6,217z"/>
<path class="b" d="M429.5,448.5 441.9,450.5 446.4,445.7 434,445.2z"/>
<path class="r" d="M429.5,217.7 441.9,213.8 446.4,213.9 434,214.2z"/>
<path class="b" d="M441.9,450.5 454.3,452.2 458.8,447.8 446.4,445.7z"/>
<path class="r" d="M441.9,213.8 454.3,214.3 458.8,213.8 446.4,213.9z"/>
<path class="b" d="M454.3,452.2 466.8,454 471.2,449.6 458.8,447.8z"/>
<path class="r" d="M454.3,214.3 466.8,213.4 471.2,213.1 458.8,213.8z"/>
<path class="b" d="M466.8,454 479.2,455.6 483.7,440.4 471.2,449.6z"/>
<path class="r" d="M466.8,213.4 479.2,219.1 483.7,217.7 471.2,213.1z"/>
<path class="b" d="M479.2,455.6 491.6,457.3 496.1,452.9 483.7,440.4z"/>
<path class="r" d="M479.2,219.1 491.6,219.7 496.1,216.9 483.7,217.7z"/>
<path class="b" d="M491.6,457.3 504,459 508.5,454.6 496.1,452.9z"/>
<path class="r" d="M491.6,219.7 504,219.5 508.5,219.8 496.1,216.9z"/>
<path class="b" d="M504,459 516.5,460.6 520.9,456.2 508.5,454.6z"/>
<path class="r" d="M504,219.5 516.5,224.5 520.9,219.8 508.5,219.8z"/>
<path class="b" d="M516.5,460.6 528.9,462.3 533.3,457.9 520.9,456.2z"/>
<path class="r" d="M516.5,224.5 528.9,220.3 533.3,219.6 520.9,219.8z"/>
<path class="b" d="M528.9,462.3 541.3,464 545.8,459.6 533.3,457.9z"/>
<path class="r" d="M528.9,220.3 541.3,222.3 545.8,223.5 533.3,219.6z"/>
<path class="b" d="M541.3,464 553.7,465.7 558.2,461.3 545.8,459.6z"/>
<path class="r" d="M541.3,222.3 553.7,224.8 558.2,224.3 545.8,223.5z"/>
<path class="b" d="M553.7,465.7 566.1,467.3 570.6,462.9 558.2,461.3z"/>
<path class="r" d="M553.7,224.8 566.1,223.5 570.6,221.5 558.2,224.3z"/>
<path class="b" d="M566.1,467.3 578.5,469 583,464.6 570.6,462.9z"/>
<path class="r" d="M566.1,223.5 578.5,224.7 583,223.9 570.6,221.5z"/>
<path class="b" d="M578.5,469 591,470.7 595.4,466.3 583,464.6z"/>
<path class="r" d="M578.5,224.7 591,226.7 595.4,226.9 583,223.9z"/>
<path class="b" d="M591,470.7 603.4,472.3 607.9,467.9 595.4,466.3z"/>
<path class="r" d="M591,226.7 603.4,229.1 607.9,228.5 595.4,226.9z"/>
<path class="b" d="M603.4,472.3 615.8,474 620.3,469.6 607.9,467.9z"/>
<path class="r" d="M603.4,229.1 615.8,236 620.3,229.9 607.9,228.5z"/>
<path class="b" d="M615.8,474 628.2,475.7 632.7,471.3 620.3,469.6z"/>
<path class="r" d="M615.8,236 628.2,245.8 632.7,240.5 620.3,229.9z"/>
<path class="b" d="M628.2,475.7 640.6,477.4 645.1,473 632.7,471.3z"/>
<path class="r" d="M628.2,245.8 640.6,255 645.1,252.1 632.7,240.5z"/>
<path class="b" d="M640.6,477.4 653.1,479 657.5,474.6 645.1,473z"/>
<path class="r" d="M640.6,255 653.1,263.6 657.5,257.9 645.1,252.1z"/>
<path class="b" d="M653.1,479 665.5,480.7 670,476.3 657.5,474.6z"/>
<path class="r" d="M653.1,263.6 665.5,269.2 670,261.7 657.5,257.9z"/>
<path class="b" d="M665.5,480.7 677.9,482.4 682.4,478 670,476.3z"/>
<path class="r" d="M665.5,269.2 677.9,273.1 682.4,265.7 670,261.7z"/>
<path class="b" d="M677.9,482.4 690.3,484 694.8,479.6 682.4,478z"/>
<path class="r" d="M677.9,273.1 690.3,276.5 694.8,269.1 682.4,265.7z"/>
<path class="b" d="M690.3,484 702.8,485.7 707.2,481.3 694.8,479.6z"/>
<path class="r" d="M690.3,276.5 702.8,279.2 707.2,271.9 694.8,269.1z"/>
<path class="b" d="M702.8,485.7 715.2,487.4 719.6,483 707.2,481.3z"/>
<path class="r" d="M702.8,279.2 715.2,281.3 719.6,274.3 707.2,271.9z"/>
<path class="b" d="M715.2,487.4 727.6,489.1 732.1,484.7 719.6,483z"/>
<path class="r" d="M715.2,281.3 727.6,283.3 732.1,276.5 719.6,274.3z"/>
<path class="b" d="M727.6,489.1 740,490.7 744.5,486.3 732.1,484.7z"/>
<path class="r" d="M727.6,283.3 740,285.2 744.5,278.7 732.1,276.5z"/>
<path class="b" d="M740,490.7 752.4,492.4 756.9,488 744.5,486.3z"/>
<path class="r" d="M740,285.2 752.4,287.1 756.9,280.8 744.5,278.7z"/>
<path class="b" d="M752.4,492.4 764.8,494.1 769.3,489.7 756.9,488z"/>
<path class="r" d="M752.4,287.1 764.8,289.1 769.3,283 756.9,280.8z"/>
<path class="b" d="M764.8,494.1 777.3,495.8 781.7,491.3 769.3,489.7z"/>
<path class="r" d="M764.8,289.1 777.3,291 781.7,285.1 769.3,283z"/>
<path class="b" d="M777.3,495.8 789.7,497.4 794.2,493 781.7,491.3z"/>
<path class="r" d="M777.3,291 789.7,292.9 794.2,287.2 781.7,285.1z"/>
<path class="b" d="M300.8,436 313.3,438.2 317.7,432.9 305.3,431.1z"/>
<path class="r" d="M300.8,195.1 313.3,213.1 317.7,204.9 305.3,191.8z"/>
<path class="b" d="M313.3,438.2 325.7,440.3 330.1,433.7 317.7,432.9z"/>
<path class="r" d="M313.3,213.1 325.7,221 330.1,213.5 317.7,204.9z"/>
<path class="b" d="M325.7,440.3 338.1,440.8 342.6,437.6 330.1,433.7z"/>
<path class="r" d="M325.7,221 338.1,231.6 342.6,224 330.1,213.5z"/>
<path class="b" d="M338.1,440.8 350.5,443.2 355,438.4 342.6,437.6z"/>
<path class="r" d="M338.1,231.6 350.5,227.7 355,232.1 342.6,224z"/>
<path class="b" d="M350.5,443.2 362.9,445.4 367.4,441.4 355,438.4z"/>
<path class="r" d="M350.5,227.7 362.9,237.3 367.4,225.6 355,232.1z"/>
<path class="b" d="M362.9,445.4 375.4,446.7 379.8,442.6 367.4,441.4z"/>
<path class="r" d="M362.9,237.3 375.4,237 379.8,236.1 367.4,225.6z"/>
<path class="b" d="M375.4,446.7 387.8,447.6 392.2,442.7 379.8,442.6z"/>
<path class="g" d="M375.4,237 387.8,232.7 392.2,230.9 379.8,236.1z"/>
<path class="b" d="M387.8,447.6 400.2,450.6 404.7,444.2 392.2,442.7z"/>
<path class="g" d="M387.8,232.7 400.2,224.4 404.7,222.5 392.2,230.9z"/>
<path class="b" d="M400.2,450.6 412.6,451.8 417.1,447.5 404.7,444.2z"/>
<path class="r" d="M400.2,224.4 412.6,224.5 417.1,220 404.7,222.5z"/>
<path class="b" d="M412.6,451.8 425,453 429.5,448.5 417.1,447.5z"/>
<path class="r" d="M412.6,224.5 425,219.2 429.5,217.7 417.1,220z"/>
<path class="b" d="M425,453 437.5,454.9 441.9,450.5 429.5,448.5z"/>
<path class="r" d="M425,219.2 437.5,215.4 441.9,213.8 429.5,217.7z"/>
<path class="b" d="M437.5,454.9 449.9,456.7 454.3,452.2 441.9,450.5z"/>
<path class="r" d="M437.5,215.4 449.9,216.9 454.3,214.3 441.9,213.8z"/>
<path class="b" d="M449.9,456.7 462.3,458.4 466.8,454 454.3,452.2z"/>
<path class="r" d="M449.9,216.9 462.3,219.9 466.8,213.4 454.3,214.3z"/>
<path class="b" d="M462.3,458.4 474.7,460 479.2,455.6 466.8,454z"/>
<path class="r" d="M462.3,219.9 474.7,218.3 479.2,219.1 466.8,213.4z"/>
<path class="b" d="M474.7,460 487.1,461.7 491.6,457.3 479.2,455.6z"/>
<path class="r" d="M474.7,218.3 487.1,221.4 491.6,219.7 479.2,219.1z"/>
<path class="b" d="M487.1,461.7 499.6,463.4 504,459 491.6,457.3z"/>
<path class="r" d="M487.1,221.4 499.6,225.6 504,219.5 491.6,219.7z"/>
<path class="b" d="M499.6,463.4 512,465 516.5,460.6 504,459z"/>
<path class="r" d="M499.6,225.6 512,222.8 516.5,224.5 504,219.5z"/>
<path class="b" d="M512,465 524.4,466.7 528.9,462.3 516.5,460.6z"/>
<path class="g" d="M512,222.8 524.4,222.3 528.9,220.3 516.5,224.5z"/>
<path class="b" d="M524.4,466.7 536.8,468.4 541.3,464 528.9,462.3z"/>
<path class="r" d="M524.4,222.3 536.8,224.9 541.3,222.3 528.9,220.3z"/>
<path class="m" d="M536.8,468.4 549.2,461.1 553.7,465.7 541.3,464z"/>
<path class="g" d="M536.8,224.9 549.2,214.6 553.7,224.8 541.3,222.3z"/>
<path class="b" d="M549.2,461.1 561.7,471.7 566.1,467.3 553.7,465.7z"/>
<path class="r" d="M549.2,214.6 561.7,229.1 566.1,223.5 553.7,224.8z"/>
<path class="b" d="M561.7,471.7 574.1,473.4 578.5,469 566.1,467.3z"/>
<path class="r" d="M561.7,229.1 574.1,228.6 578.5,224.7 566.1,223.5z"/>
<path class="b" d="M574.1,473.4 586.5,475.1 591,470.7 578.5,469z"/>
<path class="r" d="M574.1,228.6 586.5,228.8 591,226.7 578.5,224.7z"/>
<path class="b" d="M586.5,475.1 598.9,476.7 603.4,472.3 591,470.7z"/>
<path class="r" d="M586.5,228.8 598.9,233.5 603.4,229.1 591,226.7z"/>
<path class="b" d="M598.9,476.7 611.3,478.4 615.8,474 603.4,472.3z"/>
<path class="r" d="M598.9,233.5 611.3,239.7 615.8,236 603.4,229.1z"/>
<path class="b" d="M611.3,478.4 623.8,480.1 628.2,475.7 615.8,474z"/>
<path class="r" d="M611.3,239.7 623.8,248.3 628.2,245.8 615.8,236z"/>
<path class="b" d="M623.8,480.1 636.2,481.8 640.6,477.4 628.2,475.7z"/>
<path class="r" d="M623.8,248.3 636.2,261 640.6,255 628.2,245.8z"/>
<path class="b" d="M636.2,481.8 648.6,483.4 653.1,479 640.6,477.4z"/>
<path class="r" d="M636.2,261 648.6,272.1 653.1,263.6 640.6,255z"/>
<path class="b" d="M648.6,483.4 661,485.1 665.5,480.7 653.1,479z"/>
<path class="r" d="M648.6,272.1 661,276.9 665.5,269.2 653.1,263.6z"/>
<path class="b" d="M661,485.1 673.4,486.8 677.9,482.4 665.5,480.7z"/>
<path class="r" d="M661,276.9 673.4,280.7 677.9,273.1 665.5,269.2z"/>
<path class="b" d="M673.4,486.8 685.9,488.5 690.3,484 677.9,482.4z"/>
<path class="r" d="M673.4,280.7 685.9,284.2 690.3,276.5 677.9,273.1z"/>
<path class="b" d="M685.9,488.5 698.3,490.1 702.8,485.7 690.3,484z"/>
<path class="r" d="M685.9,284.2 698.3,286.5 702.8,279.2 690.3,276.5z"/>
<path class="b" d="M698.3,490.1 710.7,491.8 715.2,487.4 702.8,485.7z"/>
<path class="r" d="M698.3,286.5 710.7,288.3 715.2,281.3 702.8,279.2z"/>
<path class="b" d="M710.7,491.8 723.1,493.5 727.6,489.1 715.2,487.4z"/>
<path class="r" d="M710.7,288.3 723.1,290.1 727.6,283.3 715.2,281.3z"/>
<path class="b" d="M723.1,493.5 735.5,495.1 740,490.7 727.6,489.1z"/>
<path class="r" d="M723.1,290.1 735.5,291.8 740,285.2 727.6,283.3z"/>
<path class="b" d="M735.5,495.1 748,496.8 752.4,492.4 740,490.7z"/>
<path class="r" d="M735.5,291.8 748,293.4 752.4,287.1 740,285.2z"/>
<path class="b" d="M748,496.8 760.4,498.5 764.8,494.1 752.4,492.4z"/>
<path class="r" d="M748,293.4 760.4,295 764.8,289.1 752.4,287.1z"/>
<path class="b" d="M760.4,498.5 772.8,500.2 777.3,495.8 764.8,494.1z"/>
<path class="r" d="M760.4,295 772.8,296.7 777.3,291 764.8,289.1z"/>
<path class="b" d="M772.8,500.2 785.2,501.8 789.7,497.4 777.3,495.8z"/>
<path class="r" d="M772.8,296.7 785.2,298.3 789.7,292.9 777.3,291z"/>
<path class="b" d="M296.4,440.8 308.8,442.7 313.3,438.2 300.8,436z"/>
<path class="r" d="M296.4,209.4 308.8,217.8 313.3,213.1 300.8,195.1z"/>
<path class="b" d="M308.8,442.7 321.2,444.1 325.7,440.3 313.3,438.2z"/>
<path class="r" d="M308.8,217.8 321.2,220.2 325.7,221 313.3,213.1z"/>
<path class="b" d="M321.2,444.1 333.6,445.8 338.1,440.8 325.7,440.3z"/>
<path class="r" d="M321.2,220.2 333.6,234.7 338.1,231.6 325.7,221z"/>
<path class="b" d="M333.6,445.8 346.1,448 350.5,443.2 338.1,440.8z"/>
<path class="r" d="M333.6,234.7 346.1,236.7 350.5,227.7 338.1,231.6z"/>
<path class="b" d="M346.1,448 358.5,449.7 362.9,445.4 350.5,443.2z"/>
<path class="r" d="M346.1,236.7 358.5,238.9 362.9,237.3 350.5,227.7z"/>
<path class="b" d="M358.5,449.7 370.9,450.6 375.4,446.7 362.9,445.4z"/>
<path class="g" d="M358.5,238.9 370.9,234.7 375.4,237 362.9,237.3z"/>
<path class="b" d="M370.9,450.6 383.3,452.7 387.8,447.6 375.4,446.7z"/>
<path class="g" d="M370.9,234.7 383.3,232.9 387.8,232.7 375.4,237z"/>
<path class="b" d="M383.3,452.7 395.7,454.6 400.2,450.6 387.8,447.6z"/>
<path class="g" d="M383.3,232.9 395.7,226.6 400.2,224.4 387.8,232.7z"/>
<path class="b" d="M395.7,454.6 408.2,456.2 412.6,451.8 400.2,450.6z"/>
<path class="r" d="M395.7,226.6 408.2,224.1 412.6,224.5 400.2,224.4z"/>
<path class="b" d="M408.2,456.2 420.6,457.7 425,453 412.6,451.8z"/>
<path class="g" d="M408.2,224.1 420.6,220.9 425,219.2 412.6,224.5z"/>
<path class="b" d="M420.6,457.7 433,459.3 437.5,454.9 425,453z"/>
<path class="r" d="M420.6,220.9 433,219.7 437.5,215.4 425,219.2z"/>
<path class="b" d="M433,459.3 445.4,461.1 449.9,456.7 437.5,454.9z"/>
<path class="r" d="M433,219.7 445.4,217.8 449.9,216.9 437.5,215.4z"/>
<path class="b" d="M445.4,461.1 457.8,462.7 462.3,458.4 449.9,456.7z"/>
<path class="r" d="M445.4,217.8 457.8,220 462.3,219.9 449.9,216.9z"/>
<path class="b" d="M457.8,462.7 470.3,464.4 474.7,460 462.3,458.4z"/>
<path class="r" d="M457.8,220 470.3,220.2 474.7,218.3 462.3,219.9z"/>
<path class="b" d="M470.3,464.4 482.7,466.1 487.1,461.7 474.7,460z"/>
<path class="r" d="M470.3,220.2 482.7,225.5 487.1,221.4 474.7,218.3z"/>
<path class="b" d="M482.7,466.1 495.1,467.7 499.6,463.4 487.1,461.7z"/>
<path class="r" d="M482.7,225.5 495.1,227.4 499.6,225.6 487.1,221.4z"/>
<path class="b" d="M495.1,467.7 507.5,469.4 512,465 499.6,463.4z"/>
<path class="r" d="M495.1,227.4 507.5,228.7 512,222.8 499.6,225.6z"/>
<path class="b" d="M507.5,469.4 519.9,471.1 524.4,466.7 512,465z"/>
<path class="r" d="M507.5,228.7 519.9,226.6 524.4,222.3 512,222.8z"/>
<path class="b" d="M519.9,471.1 532.4,472.8 536.8,468.4 524.4,466.7z"/>
<path class="r" d="M519.9,226.6 532.4,226.2 536.8,224.9 524.4,222.3z"/>
<path class="b" d="M532.4,472.8 544.8,474.4 549.2,461.1 536.8,468.4z"/>
<path class="r" d="M532.4,226.2 544.8,231 549.2,214.6 536.8,224.9z"/>
<path class="b" d="M544.8,474.4 557.2,476.1 561.7,471.7 549.2,461.1z"/>
<path class="r" d="M544.8,231 557.2,230.2 561.7,229.1 549.2,214.6z"/>
<path class="b" d="M557.2,476.1 569.6,477.8 574.1,473.4 561.7,471.7z"/>
<path class="r" d="M557.2,230.2 569.6,232.2 574.1,228.6 561.7,229.1z"/>
<path class="b" d="M569.6,477.8 582,479.5 586.5,475.1 574.1,473.4z"/>
<path class="r" d="M569.6,232.2 582,233.9 586.5,228.8 574.1,228.6z"/>
<path class="b" d="M582,479.5 594.5,481.1 598.9,476.7 586.5,475.1z"/>
<path class="r" d="M582,233.9 594.5,237.4 598.9,233.5 586.5,228.8z"/>
<path class="b" d="M594.5,481.1 606.9,482.8 611.3,478.4 598.9,476.7z"/>
<path class="r" d="M594.5,237.4 606.9,243.3 611.3,239.7 598.9,233.5z"/>
<path class="b" d="M606.9,482.8 619.3,484.5 623.8,480.1 611.3,478.4z"/>
<path class="r" d="M606.9,243.3 619.3,254.3 623.8,248.3 611.3,239.7z"/>
<path class="b" d="M619.3,484.5 631.7,486.2 636.2,481.8 623.8,480.1z"/>
<path class="r" d="M619.3,254.3 631.7,270.7 636.2,261 623.8,248.3z"/>
<path class="b" d="M631.7,486.2 644.1,487.8 648.6,483.4 636.2,481.8z"/>
<path class="r" d="M631.7,270.7 644.1,277.5 648.6,272.1 636.2,261z"/>
<path class="b" d="M644.1,487.8 656.6,489.5 661,485.1 648.6,483.4z"/>
<path class="r" d="M644.1,277.5 656.6,283.3 661,276.9 648.6,272.1z"/>
<path class="b" d="M656.6,489.5 669,491.2 673.4,486.8 661,485.1z"/>
<path class="r" d="M656.6,283.3 669,287.7 673.4,280.7 661,276.9z"/>
<path class="b" d="M669,491.2 681.4,492.9 685.9,488.5 673.4,486.8z"/>
<path class="r" d="M669,287.7 681.4,291.5 685.9,284.2 673.4,280.7z"/>
<path class="b" d="M681.4,492.9 693.8,494.5 698.3,490.1 685.9,488.5z"/>
<path class="r" d="M681.4,291.5 693.8,293.7 698.3,286.5 685.9,284.2z"/>
<path class="b" d="M693.8,494.5 706.2,496.2 710.7,491.8 698.3,490.1z"/>
<path class="r" d="M693.8,293.7 706.2,295.2 710.7,288.3 698.3,286.5z"/>
<path class="b" d="M706.2,496.2 718.7,497.9 723.1,493.5 710.7,491.8z"/>
<path class="r" d="M706.2,295.2 718.7,296.8 723.1,290.1 710.7,288.3z"/>
<path class="b" d="M718.7,497.9 731.1,499.6 735.5,495.1 723.1,493.5z"/>
<path class="r" d="M718.7,296.8 731.1,298.3 735.5,291.8 723.1,290.1z"/>
<path class="b" d="M731.1,499.6 743.5,501.2 748,496.8 735.5,495.1z"/>
<path class="r" d="M731.1,298.3 743.5,299.8 748,293.4 735.5,291.8z"/>
<path class="b" d="M743.5,501.2 755.9,502.9 760.4,498.5 748,496.8z"/>
<path class="r" d="M743.5,299.8 755.9,301.2 760.4,295 748,293.4z"/>
<path class="b" d="M755.9,502.9 768.3,504.6 772.8,500.2 760.4,498.5z"/>
<path class="r" d="M755.9,301.2 768.3,302.2 772.8,296.7 760.4,295z"/>
<path class="b" d="M768.3,504.6 780.8,506.3 785.2,501.8 772.8,500.2z"/>
<path class="r" d="M768.3,302.2 780.8,303.2 785.2,298.3 772.8,296.7z"/>
<path class="b" d="M291.9,445.4 304.3,446.9 308.8,442.7 296.4,440.8z"/>
<path class="r" d="M291.9,219.1 304.3,219.1 308.8,217.8 296.4,209.4z"/>
<path class="b" d="M304.3,446.9 316.8,448.7 321.2,444.1 308.8,442.7z"/>
<path class="r" d="M304.3,219.1 316.8,222.3 321.2,220.2 308.8,217.8z"/>
<path class="b" d="M316.8,448.7 329.2,450.4 333.6,445.8 321.2,444.1z"/>
<path class="g" d="M316.8,222.3 329.2,222.6 333.6,234.7 321.2,220.2z"/>
<path class="b" d="M329.2,450.4 341.6,452 346.1,448 333.6,445.8z"/>
<path class="g" d="M329.2,222.6 341.6,229.6 346.1,236.7 333.6,234.7z"/>
<path class="b" d="M341.6,452 354,453.8 358.5,449.7 346.1,448z"/>
<path class="g" d="M341.6,229.6 354,228.4 358.5,238.9 346.1,236.7z"/>
<path class="b" d="M354,453.8 366.4,455.4 370.9,450.6 358.5,449.7z"/>
<path class="g" d="M354,228.4 366.4,229.6 370.9,234.7 358.5,238.9z"/>
<path class="b" d="M366.4,455.4 378.9,457 383.3,452.7 370.9,450.6z"/>
<path class="g" d="M366.4,229.6 378.9,231.8 383.3,232.9 370.9,234.7z"/>
<path class="b" d="M378.9,457 391.3,458.7 395.7,454.6 383.3,452.7z"/>
<path class="g" d="M378.9,231.8 391.3,225.5 395.7,226.6 383.3,232.9z"/>
<path class="b" d="M391.3,458.7 403.7,460.4 408.2,456.2 395.7,454.6z"/>
<path class="g" d="M391.3,225.5 403.7,223.3 408.2,224.1 395.7,226.6z"/>
<path class="b" d="M403.7,460.4 416.1,462.1 420.6,457.7 408.2,456.2z"/>
<path class="g" d="M403.7,223.3 416.1,220.3 420.6,220.9 408.2,224.1z"/>
<path class="b" d="M416.1,462.1 428.5,463.8 433,459.3 420.6,457.7z"/>
<path class="r" d="M416.1,220.3 428.5,221 433,219.7 420.6,220.9z"/>
<path class="b" d="M428.5,463.8 441,465.4 445.4,461.1 433,459.3z"/>
<path class="r" d="M428.5,221 441,219.3 445.4,217.8 433,219.7z"/>
<path class="b" d="M441,465.4 453.4,467.1 457.8,462.7 445.4,461.1z"/>
<path class="r" d="M441,219.3 453.4,219.5 457.8,220 445.4,217.8z"/>
<path class="b" d="M453.4,467.1 465.8,468.8 470.3,464.4 457.8,462.7z"/>
<path class="r" d="M453.4,219.5 465.8,225.6 470.3,220.2 457.8,220z"/>
<path class="b" d="M465.8,468.8 478.2,470.5 482.7,466.1 470.3,464.4z"/>
<path class="r" d="M465.8,225.6 478.2,228.1 482.7,225.5 470.3,220.2z"/>
<path class="b" d="M478.2,470.5 490.6,472.1 495.1,467.7 482.7,466.1z"/>
<path class="r" d="M478.2,228.1 490.6,226.5 495.1,227.4 482.7,225.5z"/>
<path class="b" d="M490.6,472.1 503.1,473.8 507.5,469.4 495.1,467.7z"/>
<path class="r" d="M490.6,226.5 503.1,228.4 507.5,228.7 495.1,227.4z"/>
<path class="b" d="M503.1,473.8 515.5,475.5 519.9,471.1 507.5,469.4z"/>
<path class="r" d="M503.1,228.4 515.5,231.7 519.9,226.6 507.5,228.7z"/>
<path class="b" d="M515.5,475.5 527.9,477.2 532.4,472.8 519.9,471.1z"/>
<path class="r" d="M515.5,231.7 527.9,228.8 532.4,226.2 519.9,226.6z"/>
<path class="b" d="M527.9,477.2 540.3,478.8 544.8,474.4 532.4,472.8z"/>
<path class="r" d="M527.9,228.8 540.3,233.1 544.8,231 532.4,226.2z"/>
<path class="b" d="M540.3,478.8 552.7,480.5 557.2,476.1 544.8,474.4z"/>
<path class="r" d="M540.3,233.1 552.7,232 557.2,230.2 544.8,231z"/>
<path class="b" d="M552.7,480.5 565.2,482.2 569.6,477.8 557.2,476.1z"/>
<path class="r" d="M552.7,232 565.2,232.6 569.6,232.2 557.2,230.2z"/>
<path class="b" d="M565.2,482.2 577.6,483.9 582,479.5 569.6,477.8z"/>
<path class="r" d="M565.2,232.6 577.6,239.1 582,233.9 569.6,232.2z"/>
<path class="b" d="M577.6,483.9 590,485.5 594.5,481.1 582,479.5z"/>
<path class="r" d="M577.6,239.1 590,237.4 594.5,237.4 582,233.9z"/>
<path class="b" d="M590,485.5 602.4,487.2 606.9,482.8 594.5,481.1z"/>
<path class="r" d="M590,237.4 602.4,244.6 606.9,243.3 594.5,237.4z"/>
<path class="b" d="M602.4,487.2 614.8,488.9 619.3,484.5 606.9,482.8z"/>
<path class="r" d="M602.4,244.6 614.8,258.4 619.3,254.3 606.9,243.3z"/>
<path class="b" d="M614.8,488.9 627.3,490.6 631.7,486.2 619.3,484.5z"/>
<path class="r" d="M614.8,258.4 627.3,271.6 631.7,270.7 619.3,254.3z"/>
<path class="b" d="M627.3,490.6 639.7,492.2 644.1,487.8 631.7,486.2z"/>
<path class="r" d="M627.3,271.6 639.7,281.3 644.1,277.5 631.7,270.7z"/>
<path class="b" d="M639.7,492.2 652.1,493.9 656.6,489.5 644.1,487.8z"/>
<path class="r" d="M639.7,281.3 652.1,287.8 656.6,283.3 644.1,277.5z"/>
<path class="b" d="M652.1,493.9 664.5,495.6 669,491.2 656.6,489.5z"/>
<path class="r" d="M652.1,287.8 664.5,293.7 669,287.7 656.6,283.3z"/>
<path class="b" d="M664.5,495.6 676.9,497.3 681.4,492.9 669,491.2z"/>
<path class="r" d="M664.5,293.7 676.9,298.4 681.4,291.5 669,287.7z"/>
<path class="b" d="M676.9,497.3 689.4,498.9 693.8,494.5 681.4,492.9z"/>
<path class="r" d="M676.9,298.4 689.4,301.1 693.8,293.7 681.4,291.5z"/>
<path class="b" d="M689.4,498.9 701.8,500.6 706.2,496.2 693.8,494.5z"/>
<path class="r" d="M689.4,301.1 701.8,302.5 706.2,295.2 693.8,293.7z"/>
<path class="b" d="M701.8,500.6 714.2,502.3 718.7,497.9 706.2,496.2z"/>
<path class="r" d="M701.8,302.5 714.2,303.8 718.7,296.8 706.2,295.2z"/>
<path class="b" d="M714.2,502.3 726.6,504 731.1,499.6 718.7,497.9z"/>
<path class="r" d="M714.2,303.8 726.6,305.1 731.1,298.3 718.7,296.8z"/>
<path class="b" d="M726.6,504 739,505.6 743.5,501.2 731.1,499.6z"/>
<path class="r" d="M726.6,305.1 739,306.2 743.5,299.8 731.1,298.3z"/>
<path class="b" d="M739,505.6 751.5,507.3 755.9,502.9 743.5,501.2z"/>
<path class="r" d="M739,306.2 751.5,307.2 755.9,301.2 743.5,299.8z"/>
<path class="b" d="M751.5,507.3 763.9,509 768.3,504.6 755.9,502.9z"/>
<path class="r" d="M751.5,307.2 763.9,307.7 768.3,302.2 755.9,301.2z"/>
<path class="b" d="M763.9,509 776.3,510.7 780.8,506.3 768.3,504.6z"/>
<path class="r" d="M763.9,307.7 776.3,308 780.8,303.2 768.3,302.2z"/>
<path class="b" d="M287.4,449.7 299.9,451.4 304.3,446.9 291.9,445.4z"/>
<path class="r" d="M287.4,227 299.9,223.2 304.3,219.1 291.9,219.1z"/>
<path class="b" d="M299.9,451.4 312.3,453 316.8,448.7 304.3,446.9z"/>
<path class="r" d="M299.9,223.2 312.3,223.3 316.8,222.3 304.3,219.1z"/>
<path class="b" d="M312.3,453 324.7,454.7 329.2,450.4 316.8,448.7z"/>
<path class="r" d="M312.3,223.3 324.7,225.4 329.2,222.6 316.8,222.3z"/>
<path class="b" d="M324.7,454.7 337.1,456.4 341.6,452 329.2,450.4z"/>
<path class="r" d="M324.7,225.4 337.1,226.5 341.6,229.6 329.2,222.6z"/>
<path class="b" d="M337.1,456.4 349.5,458.1 354,453.8 341.6,452z"/>
<path class="g" d="M337.1,226.5 349.5,227.7 354,228.4 341.6,229.6z"/>
<path class="b" d="M349.5,458.1 362,459.8 366.4,455.4 354,453.8z"/>
<path class="r" d="M349.5,227.7 362,231 366.4,229.6 354,228.4z"/>
<path class="b" d="M362,459.8 374.4,461.4 378.9,457 366.4,455.4z"/>
<path class="g" d="M362,231 374.4,229.9 378.9,231.8 366.4,229.6z"/>
<path class="b" d="M374.4,461.4 386.8,463.1 391.3,458.7 378.9,457z"/>
<path class="g" d="M374.4,229.9 386.8,224.9 391.3,225.5 378.9,231.8z"/>
<path class="b" d="M386.8,463.1 399.2,464.8 403.7,460.4 391.3,458.7z"/>
<path class="g" d="M386.8,224.9 399.2,223.7 403.7,223.3 391.3,225.5z"/>
<path class="b" d="M399.2,464.8 411.6,466.5 416.1,462.1 403.7,460.4z"/>
<path class="r" d="M399.2,223.7 411.6,222.2 416.1,220.3 403.7,223.3z"/>
<path class="b" d="M411.6,466.5 424.1,468.1 428.5,463.8 416.1,462.1z"/>
<path class="r" d="M411.6,222.2 424.1,221.9 428.5,221 416.1,220.3z"/>
<path class="b" d="M424.1,468.1 436.5,469.8 441,465.4 428.5,463.8z"/>
<path class="r" d="M424.1,221.9 436.5,221.9 441,219.3 428.5,221z"/>
<path class="b" d="M436.5,469.8 448.9,471.5 453.4,467.1 441,465.4z"/>
<path class="r" d="M436.5,221.9 448.9,223.7 453.4,219.5 441,219.3z"/>
<path class="b" d="M448.9,471.5 461.3,473.2 465.8,468.8 453.4,467.1z"/>
<path class="r" d="M448.9,223.7 461.3,226.2 465.8,225.6 453.4,219.5z"/>
<path class="b" d="M461.3,473.2 473.8,474.8 478.2,470.5 465.8,468.8z"/>
<path class="r" d="M461.3,226.2 473.8,227.7 478.2,228.1 465.8,225.6z"/>
<path class="b" d="M473.8,474.8 486.2,476.5 490.6,472.1 478.2,470.5z"/>
<path class="r" d="M473.8,227.7 486.2,230.3 490.6,226.5 478.2,228.1z"/>
<path class="b" d="M486.2,476.5 498.6,478.2 503.1,473.8 490.6,472.1z"/>
<path class="r" d="M486.2,230.3 498.6,233 503.1,228.4 490.6,226.5z"/>
<path class="b" d="M498.6,478.2 511,479.9 515.5,475.5 503.1,473.8z"/>
<path class="r" d="M498.6,233 511,233.2 515.5,231.7 503.1,228.4z"/>
<path class="b" d="M511,479.9 523.4,481.6 527.9,477.2 515.5,475.5z"/>
<path class="r" d="M511,233.2 523.4,233.9 527.9,228.8 515.5,231.7z"/>
<path class="b" d="M523.4,481.6 535.8,483.2 540.3,478.8 527.9,477.2z"/>
<path class="r" d="M523.4,233.9 535.8,235.4 540.3,233.1 527.9,228.8z"/>
<path class="b" d="M535.8,483.2 548.3,484.9 552.7,480.5 540.3,478.8z"/>
<path class="r" d="M535.8,235.4 548.3,236.6 552.7,232 540.3,233.1z"/>
<path class="b" d="M548.3,484.9 560.7,486.6 565.2,482.2 552.7,480.5z"/>
<path class="r" d="M548.3,236.6 560.7,238.3 565.2,232.6 552.7,232z"/>
<path class="b" d="M560.7,486.6 573.1,488.3 577.6,483.9 565.2,482.2z"/>
<path class="r" d="M560.7,238.3 573.1,238.2 577.6,239.1 565.2,232.6z"/>
<path class="b" d="M573.1,488.3 585.5,489.9 590,485.5 577.6,483.9z"/>
<path class="r" d="M573.1,238.2 585.5,242.7 590,237.4 577.6,239.1z"/>
<path class="b" d="M585.5,489.9 598,491.6 602.4,487.2 590,485.5z"/>
<path class="g" d="M585.5,242.7 598,233.5 602.4,244.6 590,237.4z"/>
<path class="b" d="M598,491.6 610.4,493.3 614.8,488.9 602.4,487.2z"/>
<path class="r" d="M598,233.5 610.4,260.8 614.8,258.4 602.4,244.6z"/>
<path class="b" d="M610.4,493.3 622.8,495 627.3,490.6 614.8,488.9z"/>
<path class="g" d="M610.4,260.8 622.8,241.4 627.3,271.6 614.8,258.4z"/>
<path class="b" d="M622.8,495 635.2,496.6 639.7,492.2 627.3,490.6z"/>
<path class="g" d="M622.8,241.4 635.2,285.3 639.7,281.3 627.3,271.6z"/>
<path class="b" d="M635.2,496.6 647.6,498.3 652.1,493.9 639.7,492.2z"/>
<path class="r" d="M635.2,285.3 647.6,291.7 652.1,287.8 639.7,281.3z"/>
<path class="m" d="M647.6,498.3 660,486.2 664.5,495.6 652.1,493.9z"/>
<path class="r" d="M647.6,291.7 660,298.1 664.5,293.7 652.1,287.8z"/>
<path class="m" d="M660,486.2 672.5,493.6 676.9,497.3 664.5,495.6z"/>
<path class="r" d="M660,298.1 672.5,302.4 676.9,298.4 664.5,293.7z"/>
<path class="b" d="M672.5,493.6 684.9,501 689.4,498.9 676.9,497.3z"/>
<path class="r" d="M672.5,302.4 684.9,306.6 689.4,301.1 676.9,298.4z"/>
<path class="b" d="M684.9,501 697.3,505 701.8,500.6 689.4,498.9z"/>
<path class="r" d="M684.9,306.6 697.3,308.5 701.8,302.5 689.4,301.1z"/>
<path class="b" d="M697.3,505 709.7,506.7 714.2,502.3 701.8,500.6z"/>
<path class="r" d="M697.3,308.5 709.7,309.9 714.2,303.8 701.8,302.5z"/>
<path class="b" d="M709.7,506.7 722.2,508.4 726.6,504 714.2,502.3z"/>
<path class="r" d="M709.7,309.9 722.2,311.2 726.6,305.1 714.2,303.8z"/>
<path class="b" d="M722.2,508.4 734.6,510.1 739,505.6 726.6,504z"/>
<path class="r" d="M722.2,311.2 734.6,312.3 739,306.2 726.6,305.1z"/>
<path class="b" d="M734.6,510.1 747,511.7 751.5,507.3 739,505.6z"/>
<path class="r" d="M734.6,312.3 747,313 751.5,307.2 739,306.2z"/>
<path class="b" d="M747,511.7 759.4,513.4 763.9,509 751.5,507.3z"/>
<path class="r" d="M747,313 759.4,312.9 763.9,307.7 751.5,307.2z"/>
<path class="b" d="M759.4,513.4 771.8,515.1 776.3,510.7 763.9,509z"/>
<path class="r" d="M759.4,312.9 771.8,312.5 776.3,308 763.9,307.7z"/>
<path class="b" d="M283,454.1 295.4,455.7 299.9,451.4 287.4,449.7z"/>
<path class="r" d="M283,234.5 295.4,231.1 299.9,223.2 287.4,227z"/>
<path class="b" d="M295.4,455.7 307.8,457.4 312.3,453 299.9,451.4z"/>
<path class="r" d="M295.4,231.1 307.8,229.6 312.3,223.3 299.9,223.2z"/>
<path class="b" d="M307.8,457.4 320.2,459.1 324.7,454.7 312.3,453z"/>
<path class="r" d="M307.8,229.6 320.2,230.3 324.7,225.4 312.3,223.3z"/>
<path class="b" d="M320.2,459.1 332.7,460.8 337.1,456.4 324.7,454.7z"/>
<path class="r" d="M320.2,230.3 332.7,231.6 337.1,226.5 324.7,225.4z"/>
<path class="b" d="M332.7,460.8 345.1,462.5 349.5,458.1 337.1,456.4z"/>
<path class="r" d="M332.7,231.6 345.1,232.1 349.5,227.7 337.1,226.5z"/>
<path class="b" d="M345.1,462.5 357.5,464.1 362,459.8 349.5,458.1z"/>
<path class="r" d="M345.1,232.1 357.5,232 362,231 349.5,227.7z"/>
<path class="b" d="M357.5,464.1 369.9,465.8 374.4,461.4 362,459.8z"/>
<path class="r" d="M357.5,232 369.9,230.4 374.4,229.9 362,231z"/>
<path class="b" d="M369.9,465.8 382.3,467.5 386.8,463.1 374.4,461.4z"/>
<path class="r" d="M369.9,230.4 382.3,228.9 386.8,224.9 374.4,229.9z"/>
<path class="b" d="M382.3,467.5 394.8,469.2 399.2,464.8 386.8,463.1z"/>
<path class="r" d="M382.3,228.9 394.8,230.5 399.2,223.7 386.8,224.9z"/>
<path class="b" d="M394.8,469.2 407.2,470.8 411.6,466.5 399.2,464.8z"/>
<path class="r" d="M394.8,230.5 407.2,229.6 411.6,222.2 399.2,223.7z"/>
<path class="b" d="M407.2,470.8 419.6,472.5 424.1,468.1 411.6,466.5z"/>
<path class="r" d="M407.2,229.6 419.6,228 424.1,221.9 411.6,222.2z"/>
<path class="b" d="M419.6,472.5 432,474.2 436.5,469.8 424.1,468.1z"/>
<path class="r" d="M419.6,228 432,229.1 436.5,221.9 424.1,221.9z"/>
<path class="b" d="M432,474.2 444.4,475.9 448.9,471.5 436.5,469.8z"/>
<path class="r" d="M432,229.1 444.4,230.3 448.9,223.7 436.5,221.9z"/>
<path class="b" d="M444.4,475.9 456.9,477.6 461.3,473.2 448.9,471.5z"/>
<path class="r" d="M444.4,230.3 456.9,229.6 461.3,226.2 448.9,223.7z"/>
<path class="b" d="M456.9,477.6 469.3,479.2 473.8,474.8 461.3,473.2z"/>
<path class="r" d="M456.9,229.6 469.3,230.9 473.8,227.7 461.3,226.2z"/>
<path class="b" d="M469.3,479.2 481.7,480.9 486.2,476.5 473.8,474.8z"/>
<path class="r" d="M469.3,230.9 481.7,232.9 486.2,230.3 473.8,227.7z"/>
<path class="b" d="M481.7,480.9 494.1,482.6 498.6,478.2 486.2,476.5z"/>
<path class="r" d="M481.7,232.9 494.1,234.3 498.6,233 486.2,230.3z"/>
<path class="b" d="M494.1,482.6 506.5,484.3 511,479.9 498.6,478.2z"/>
<path class="r" d="M494.1,234.3 506.5,234.4 511,233.2 498.6,233z"/>
<path class="b" d="M506.5,484.3 519,485.9 523.4,481.6 511,479.9z"/>
<path class="r" d="M506.5,234.4 519,236 523.4,233.9 511,233.2z"/>
<path class="b" d="M519,485.9 531.4,487.6 535.8,483.2 523.4,481.6z"/>
<path class="r" d="M519,236 531.4,237.6 535.8,235.4 523.4,233.9z"/>
<path class="b" d="M531.4,487.6 543.8,489.3 548.3,484.9 535.8,483.2z"/>
<path class="r" d="M531.4,237.6 543.8,240.5 548.3,236.6 535.8,235.4z"/>
<path class="b" d="M543.8,489.3 556.2,491 560.7,486.6 548.3,484.9z"/>
<path class="r" d="M543.8,240.5 556.2,245.2 560.7,238.3 548.3,236.6z"/>
<path class="b" d="M556.2,491 568.6,492.7 573.1,488.3 560.7,486.6z"/>
<path class="r" d="M556.2,245.2 568.6,246.8 573.1,238.2 560.7,238.3z"/>
<path class="b" d="M568.6,492.7 581.1,487.4 585.5,489.9 573.1,488.3z"/>
<path class="r" d="M568.6,246.8 581.1,245.7 585.5,242.7 573.1,238.2z"/>
<path class="m" d="M581.1,487.4 593.5,484.4 598,491.6 585.5,489.9z"/>
<path class="r" d="M581.1,245.7 593.5,252 598,233.5 585.5,242.7z"/>
<path class="m" d="M593.5,484.4 605.9,481.4 610.4,493.3 598,491.6z"/>
<path class="r" d="M593.5,252 605.9,263.2 610.4,260.8 598,233.5z"/>
<path class="m" d="M605.9,481.4 618.3,478.4 622.8,495 610.4,493.3z"/>
<path class="r" d="M605.9,263.2 618.3,272.8 622.8,241.4 610.4,260.8z"/>
<path class="m" d="M618.3,478.4 630.7,483.4 635.2,496.6 622.8,495z"/>
<path class="r" d="M618.3,272.8 630.7,281.9 635.2,285.3 622.8,241.4z"/>
<path class="m" d="M630.7,483.4 643.2,485.1 647.6,498.3 635.2,496.6z"/>
<path class="g" d="M630.7,281.9 643.2,289.7 647.6,291.7 635.2,285.3z"/>
<path class="m" d="M643.2,485.1 655.6,486.7 660,486.2 647.6,498.3z"/>
<path class="g" d="M643.2,289.7 655.6,294.3 660,298.1 647.6,291.7z"/>
<path class="b" d="M655.6,486.7 668,492.6 672.5,493.6 660,486.2z"/>
<path class="g" d="M655.6,294.3 668,297.5 672.5,302.4 660,298.1z"/>
<path class="m" d="M668,492.6 680.4,497.5 684.9,501 672.5,493.6z"/>
<path class="g" d="M668,297.5 680.4,305.2 684.9,306.6 672.5,302.4z"/>
<path class="m" d="M680.4,497.5 692.8,494.2 697.3,505 684.9,501z"/>
<path class="r" d="M680.4,305.2 692.8,310.2 697.3,308.5 684.9,306.6z"/>
<path class="m" d="M692.8,494.2 705.3,502.9 709.7,506.7 697.3,505z"/>
<path class="r" d="M692.8,310.2 705.3,313.2 709.7,309.9 697.3,308.5z"/>
<path class="b" d="M705.3,502.9 717.7,512.6 722.2,508.4 709.7,506.7z"/>
<path class="r" d="M705.3,313.2 717.7,315.8 722.2,311.2 709.7,309.9z"/>
<path class="b" d="M717.7,512.6 730.1,513.7 734.6,510.1 722.2,508.4z"/>
<path class="r" d="M717.7,315.8 730.1,317.8 734.6,312.3 722.2,311.2z"/>
<path class="b" d="M730.1,513.7 742.5,515.2 747,511.7 734.6,510.1z"/>
<path class="r" d="M730.1,317.8 742.5,318.5 747,313 734.6,312.3z"/>
<path class="b" d="M742.5,515.2 754.9,516.9 759.4,513.4 747,511.7z"/>
<path class="r" d="M742.5,318.5 754.9,317.6 759.4,312.9 747,313z"/>
<path class="b" d="M754.9,516.9 767.4,518.6 771.8,515.1 759.4,513.4z"/>
<path class="r" d="M754.9,317.6 767.4,315.8 771.8,312.5 759.4,312.9z"/>
<path class="b" d="M278.5,458.4 290.9,460.1 295.4,455.7 283,454.1z"/>
<path class="r" d="M278.5,241.4 290.9,241.7 295.4,231.1 283,234.5z"/>
<path class="b" d="M290.9,460.1 303.4,461.8 307.8,457.4 295.4,455.7z"/>
<path class="r" d="M290.9,241.7 303.4,242 307.8,229.6 295.4,231.1z"/>
<path class="b" d="M303.4,461.8 315.8,463.5 320.2,459.1 307.8,457.4z"/>
<path class="r" d="M303.4,242 315.8,242.5 320.2,230.3 307.8,229.6z"/>
<path class="b" d="M315.8,463.5 328.2,465.2 332.7,460.8 320.2,459.1z"/>
<path class="r" d="M315.8,242.5 328.2,243.5 332.7,231.6 320.2,230.3z"/>
<path class="b" d="M328.2,465.2 340.6,466.8 345.1,462.5 332.7,460.8z"/>
<path class="r" d="M328.2,243.5 340.6,242.4 345.1,232.1 332.7,231.6z"/>
<path class="b" d="M340.6,466.8 353,468.5 357.5,464.1 345.1,462.5z"/>
<path class="r" d="M340.6,242.4 353,237.6 357.5,232 345.1,232.1z"/>
<path class="b" d="M353,468.5 365.5,470.2 369.9,465.8 357.5,464.1z"/>
<path class="r" d="M353,237.6 365.5,235.3 369.9,230.4 357.5,232z"/>
<path class="b" d="M365.5,470.2 377.9,471.9 382.3,467.5 369.9,465.8z"/>
<path class="r" d="M365.5,235.3 377.9,239.6 382.3,228.9 369.9,230.4z"/>
<path class="b" d="M377.9,471.9 390.3,473.5 394.8,469.2 382.3,467.5z"/>
<path class="r" d="M377.9,239.6 390.3,245.9 394.8,230.5 382.3,228.9z"/>
<path class="b" d="M390.3,473.5 402.7,475.2 407.2,470.8 394.8,469.2z"/>
<path class="r" d="M390.3,245.9 402.7,245.3 407.2,229.6 394.8,230.5z"/>
<path class="b" d="M402.7,475.2 415.1,476.9 419.6,472.5 407.2,470.8z"/>
<path class="r" d="M402.7,245.3 415.1,242.4 419.6,228 407.2,229.6z"/>
<path class="b" d="M415.1,476.9 427.6,478.6 432,474.2 419.6,472.5z"/>
<path class="r" d="M415.1,242.4 427.6,244.3 432,229.1 419.6,228z"/>
<path class="b" d="M427.6,478.6 440,480.3 444.4,475.9 432,474.2z"/>
<path class="r" d="M427.6,244.3 440,246.5 444.4,230.3 432,229.1z"/>
<path class="b" d="M440,480.3 452.4,481.9 456.9,477.6 444.4,475.9z"/>
<path class="r" d="M440,246.5 452.4,241 456.9,229.6 444.4,230.3z"/>
<path class="b" d="M452.4,481.9 464.8,483.6 469.3,479.2 456.9,477.6z"/>
<path class="r" d="M452.4,241 464.8,236.3 469.3,230.9 456.9,229.6z"/>
<path class="b" d="M464.8,483.6 477.2,485.3 481.7,480.9 469.3,479.2z"/>
<path class="r" d="M464.8,236.3 477.2,235.9 481.7,232.9 469.3,230.9z"/>
<path class="b" d="M477.2,485.3 489.7,487 494.1,482.6 481.7,480.9z"/>
<path class="r" d="M477.2,235.9 489.7,239.1 494.1,234.3 481.7,232.9z"/>
<path class="b" d="M489.7,487 502.1,488.7 506.5,484.3 494.1,482.6z"/>
<path class="r" d="M489.7,239.1 502.1,243.4 506.5,234.4 494.1,234.3z"/>
<path class="b" d="M502.1,488.7 514.5,490.3 519,485.9 506.5,484.3z"/>
<path class="r" d="M502.1,243.4 514.5,246.4 519,236 506.5,234.4z"/>
<path class="b" d="M514.5,490.3 526.9,492 531.4,487.6 519,485.9z"/>
<path class="r" d="M514.5,246.4 526.9,248.1 531.4,237.6 519,236z"/>
<path class="b" d="M526.9,492 539.3,493.7 543.8,489.3 531.4,487.6z"/>
<path class="r" d="M526.9,248.1 539.3,254.4 543.8,240.5 531.4,237.6z"/>
<path class="b" d="M539.3,493.7 551.8,495.4 556.2,491 543.8,489.3z"/>
<path class="r" d="M539.3,254.4 551.8,262.4 556.2,245.2 543.8,240.5z"/>
<path class="b" d="M551.8,495.4 564.2,497.1 568.6,492.7 556.2,491z"/>
<path class="r" d="M551.8,262.4 564.2,262.5 568.6,246.8 556.2,245.2z"/>
<path class="m" d="M564.2,497.1 576.6,486 581.1,487.4 568.6,492.7z"/>
<path class="r" d="M564.2,262.5 576.6,255.1 581.1,245.7 568.6,246.8z"/>
<path class="m" d="M576.6,486 589,479.5 593.5,484.4 581.1,487.4z"/>
<path class="r" d="M576.6,255.1 589,256.2 593.5,252 581.1,245.7z"/>
<path class="m" d="M589,479.5 601.4,471.9 605.9,481.4 593.5,484.4z"/>
<path class="r" d="M589,256.2 601.4,263.9 605.9,263.2 593.5,252z"/>
<path class="m" d="M601.4,471.9 613.9,365.3 618.3,478.4 605.9,481.4z"/>
<path class="r" d="M601.4,263.9 613.9,269.9 618.3,272.8 605.9,263.2z"/>
<path class="m" d="M613.9,365.3 626.3,366.9 630.7,483.4 618.3,478.4z"/>
<path class="g" d="M613.9,269.9 626.3,275.6 630.7,281.9 618.3,272.8z"/>
<path class="m" d="M626.3,366.9 638.7,368.5 643.2,485.1 630.7,483.4z"/>
<path class="g" d="M626.3,275.6 638.7,282.7 643.2,289.7 630.7,281.9z"/>
<path class="m" d="M638.7,368.5 651.1,427.7 655.6,486.7 643.2,485.1z"/>
<path class="g" d="M638.7,282.7 651.1,284.9 655.6,294.3 643.2,289.7z"/>
<path class="m" d="M651.1,427.7 663.5,501.4 668,492.6 655.6,486.7z"/>
<path class="g" d="M651.1,284.9 663.5,288.2 668,297.5 655.6,294.3z"/>
<path class="b" d="M663.5,501.4 676,503.4 680.4,497.5 668,492.6z"/>
<path class="g" d="M663.5,288.2 676,297.5 680.4,305.2 668,297.5z"/>
<path class="b" d="M676,503.4 688.4,505.2 692.8,494.2 680.4,497.5z"/>
<path class="g" d="M676,297.5 688.4,305.4 692.8,310.2 680.4,305.2z"/>
<path class="b" d="M688.4,505.2 700.8,503.8 705.3,502.9 692.8,494.2z"/>
<path class="g" d="M688.4,305.4 700.8,311.1 705.3,313.2 692.8,310.2z"/>
<path class="m" d="M700.8,503.8 713.2,503.9 717.7,512.6 705.3,502.9z"/>
<path class="r" d="M700.8,311.1 713.2,315.9 717.7,315.8 705.3,313.2z"/>
<path class="m" d="M713.2,503.9 725.6,504.1 730.1,513.7 717.7,512.6z"/>
<path class="r" d="M713.2,315.9 725.6,318.7 730.1,317.8 717.7,315.8z"/>
<path class="m" d="M725.6,504.1 738.1,510.3 742.5,515.2 730.1,513.7z"/>
<path class="r" d="M725.6,318.7 738.1,319.6 742.5,318.5 730.1,317.8z"/>
<path class="m" d="M738.1,510.3 750.5,518 754.9,516.9 742.5,515.2z"/>
<path class="r" d="M738.1,319.6 750.5,318.9 754.9,317.6 742.5,318.5z"/>
<path class="b" d="M750.5,518 762.9,524.3 767.4,518.6 754.9,516.9z"/>
<path class="r" d="M750.5,318.9 762.9,316.7 767.4,315.8 754.9,317.6z"/>
<path class="b" d="M274.1,462.8 286.5,464.5 290.9,460.1 278.5,458.4z"/>
<path class="r" d="M274.1,248 286.5,252.6 290.9,241.7 278.5,241.4z"/>
<path class="b" d="M286.5,464.5 298.9,466.2 303.4,461.8 290.9,460.1z"/>
<path class="r" d="M286.5,252.6 298.9,255.6 303.4,242 290.9,241.7z"/>
<path class="b" d="M298.9,466.2 311.3,467.8 315.8,463.5 303.4,461.8z"/>
<path class="r" d="M298.9,255.6 311.3,257.1 315.8,242.5 303.4,242z"/>
<path class="b" d="M311.3,467.8 323.7,469.5 328.2,465.2 315.8,463.5z"/>
<path class="r" d="M311.3,257.1 323.7,258.4 328.2,243.5 315.8,242.5z"/>
<path class="b" d="M323.7,469.5 336.2,471.2 340.6,466.8 328.2,465.2z"/>
<path class="r" d="M323.7,258.4 336.2,257.7 340.6,242.4 328.2,243.5z"/>
<path class="b" d="M336.2,471.2 348.6,472.9 353,468.5 340.6,466.8z"/>
<path class="r" d="M336.2,257.7 348.6,250.3 353,237.6 340.6,242.4z"/>
<path class="b" d="M348.6,472.9 361,474.6 365.5,470.2 353,468.5z"/>
<path class="r" d="M348.6,250.3 361,247.8 365.5,235.3 353,237.6z"/>
<path class="b" d="M361,474.6 373.4,476.2 377.9,471.9 365.5,470.2z"/>
<path class="r" d="M361,247.8 373.4,256.6 377.9,239.6 365.5,235.3z"/>
<path class="b" d="M373.4,476.2 385.8,477.9 390.3,473.5 377.9,471.9z"/>
<path class="r" d="M373.4,256.6 385.8,261.9 390.3,245.9 377.9,239.6z"/>
<path class="b" d="M385.8,477.9 398.3,479.6 402.7,475.2 390.3,473.5z"/>
<path class="r" d="M385.8,261.9 398.3,262.2 402.7,245.3 390.3,245.9z"/>
<path class="b" d="M398.3,479.6 410.7,481.3 415.1,476.9 402.7,475.2z"/>
<path class="r" d="M398.3,262.2 410.7,260.5 415.1,242.4 402.7,245.3z"/>
<path class="b" d="M410.7,481.3 423.1,483 427.6,478.6 415.1,476.9z"/>
<path class="r" d="M410.7,260.5 423.1,263.1 427.6,244.3 415.1,242.4z"/>
<path class="b" d="M423.1,483 435.5,484.6 440,480.3 427.6,478.6z"/>
<path class="r" d="M423.1,263.1 435.5,266.2 440,246.5 427.6,244.3z"/>
<path class="b" d="M435.5,484.6 447.9,486.3 452.4,481.9 440,480.3z"/>
<path class="r" d="M435.5,266.2 447.9,259.4 452.4,241 440,246.5z"/>
<path class="b" d="M447.9,486.3 460.4,488 464.8,483.6 452.4,481.9z"/>
<path class="r" d="M447.9,259.4 460.4,248.5 464.8,236.3 452.4,241z"/>
<path class="b" d="M460.4,488 472.8,489.7 477.2,485.3 464.8,483.6z"/>
<path class="r" d="M460.4,248.5 472.8,245 477.2,235.9 464.8,236.3z"/>
<path class="b" d="M472.8,489.7 485.2,491.4 489.7,487 477.2,485.3z"/>
<path class="r" d="M472.8,245 485.2,251.6 489.7,239.1 477.2,235.9z"/>
<path class="b" d="M485.2,491.4 497.6,493.1 502.1,488.7 489.7,487z"/>
<path class="r" d="M485.2,251.6 497.6,260.1 502.1,243.4 489.7,239.1z"/>
<path class="b" d="M497.6,493.1 510,494.7 514.5,490.3 502.1,488.7z"/>
<path class="r" d="M497.6,260.1 510,264 514.5,246.4 502.1,243.4z"/>
<path class="b" d="M510,494.7 522.5,496.4 526.9,492 514.5,490.3z"/>
<path class="r" d="M510,264 522.5,265.6 526.9,248.1 514.5,246.4z"/>
<path class="b" d="M522.5,496.4 534.9,498.1 539.3,493.7 526.9,492z"/>
<path class="r" d="M522.5,265.6 534.9,273.6 539.3,254.4 526.9,248.1z"/>
<path class="b" d="M534.9,498.1 547.3,499.8 551.8,495.4 539.3,493.7z"/>
<path class="r" d="M534.9,273.6 547.3,282.8 551.8,262.4 539.3,254.4z"/>
<path class="b" d="M547.3,499.8 559.7,501.5 564.2,497.1 551.8,495.4z"/>
<path class="r" d="M547.3,282.8 559.7,281.8 564.2,262.5 551.8,262.4z"/>
<path class="b" d="M559.7,501.5 572.1,498.4 576.6,486 564.2,497.1z"/>
<path class="r" d="M559.7,281.8 572.1,271.5 576.6,255.1 564.2,262.5z"/>
<path class="b" d="M572.1,498.4 584.6,495.4 589,479.5 576.6,486z"/>
<path class="r" d="M572.1,271.5 584.6,265.9 589,256.2 576.6,255.1z"/>
<path class="b" d="M584.6,495.4 597,483.2 601.4,471.9 589,479.5z"/>
<path class="r" d="M584.6,265.9 597,268.9 601.4,263.9 589,256.2z"/>
<path class="b" d="M597,483.2 609.4,456 613.9,365.3 601.4,471.9z"/>
<path class="r" d="M597,268.9 609.4,271.7 613.9,269.9 601.4,263.9z"/>
<path class="b" d="M609.4,456 621.8,371.3 626.3,366.9 613.9,365.3z"/>
<path class="r" d="M609.4,271.7 621.8,273.5 626.3,275.6 613.9,269.9z"/>
<path class="b" d="M621.8,371.3 634.2,372.9 638.7,368.5 626.3,366.9z"/>
<path class="g" d="M621.8,273.5 634.2,277.5 638.7,282.7 626.3,275.6z"/>
<path class="m" d="M634.2,372.9 646.7,374.5 651.1,427.7 638.7,368.5z"/>
<path class="g" d="M634.2,277.5 646.7,279.7 651.1,284.9 638.7,282.7z"/>
<path class="b" d="M646.7,374.5 659.1,513.3 663.5,501.4 651.1,427.7z"/>
<path class="g" d="M646.7,279.7 659.1,284.9 663.5,288.2 651.1,284.9z"/>
<path class="b" d="M659.1,513.3 671.5,512.6 676,503.4 663.5,501.4z"/>
<path class="g" d="M659.1,284.9 671.5,289.8 676,297.5 663.5,288.2z"/>
<path class="b" d="M671.5,512.6 683.9,514 688.4,505.2 676,503.4z"/>
<path class="g" d="M671.5,289.8 683.9,296.2 688.4,305.4 676,297.5z"/>
<path class="b" d="M683.9,514 696.3,511.4 700.8,503.8 688.4,505.2z"/>
<path class="g" d="M683.9,296.2 696.3,303.1 700.8,311.1 688.4,305.4z"/>
<path class="b" d="M696.3,511.4 708.8,513.5 713.2,503.9 700.8,503.8z"/>
<path class="g" d="M696.3,303.1 708.8,262.8 713.2,315.9 700.8,311.1z"/>
<path class="b" d="M708.8,513.5 721.2,515.2 725.6,504.1 713.2,503.9z"/>
<path class="g" d="M708.8,262.8 721.2,312.7 725.6,318.7 713.2,315.9z"/>
<path class="b" d="M721.2,515.2 733.6,513.1 738.1,510.3 725.6,504.1z"/>
<path class="g" d="M721.2,312.7 733.6,314.2 738.1,319.6 725.6,318.7z"/>
<path class="b" d="M733.6,513.1 746,512.8 750.5,518 738.1,510.3z"/>
<path class="g" d="M733.6,314.2 746,314.9 750.5,318.9 738.1,319.6z"/>
<path class="m" d="M746,512.8 758.4,515.2 762.9,524.3 750.5,518z"/>
<path class="g" d="M746,314.9 758.4,314.1 762.9,316.7 750.5,318.9z"/>
<path class="b" d="M269.6,467.2 282,468.9 286.5,464.5 274.1,462.8z"/>
<path class="r" d="M269.6,254.6 282,260 286.5,252.6 274.1,248z"/>
<path class="b" d="M282,468.9 294.4,470.5 298.9,466.2 286.5,464.5z"/>
<path class="r" d="M282,260 294.4,263.4 298.9,255.6 286.5,252.6z"/>
<path class="b" d="M294.4,470.5 306.9,472.2 311.3,467.8 298.9,466.2z"/>
<path class="r" d="M294.4,263.4 306.9,264.9 311.3,257.1 298.9,255.6z"/>
<path class="b" d="M306.9,472.2 319.3,473.9 323.7,469.5 311.3,467.8z"/>
<path class="r" d="M306.9,264.9 319.3,266.1 323.7,258.4 311.3,257.1z"/>
<path class="b" d="M319.3,473.9 331.7,475.6 336.2,471.2 323.7,469.5z"/>
<path class="r" d="M319.3,266.1 331.7,266.7 336.2,257.7 323.7,258.4z"/>
<path class="b" d="M331.7,475.6 344.1,477.3 348.6,472.9 336.2,471.2z"/>
<path class="r" d="M331.7,266.7 344.1,265.5 348.6,250.3 336.2,257.7z"/>
<path class="b" d="M344.1,477.3 356.5,478.9 361,474.6 348.6,472.9z"/>
<path class="r" d="M344.1,265.5 356.5,265.2 361,247.8 348.6,250.3z"/>
<path class="b" d="M356.5,478.9 369,480.6 373.4,476.2 361,474.6z"/>
<path class="r" d="M356.5,265.2 369,268.6 373.4,256.6 361,247.8z"/>
<path class="b" d="M369,480.6 381.4,482.3 385.8,477.9 373.4,476.2z"/>
<path class="r" d="M369,268.6 381.4,271.2 385.8,261.9 373.4,256.6z"/>
<path class="b" d="M381.4,482.3 393.8,484 398.3,479.6 385.8,477.9z"/>
<path class="r" d="M381.4,271.2 393.8,272.4 398.3,262.2 385.8,261.9z"/>
<path class="b" d="M393.8,484 406.2,485.7 410.7,481.3 398.3,479.6z"/>
<path class="r" d="M393.8,272.4 406.2,273.7 410.7,260.5 398.3,262.2z"/>
<path class="b" d="M406.2,485.7 418.6,487.4 423.1,483 410.7,481.3z"/>
<path class="r" d="M406.2,273.7 418.6,275 423.1,263.1 410.7,260.5z"/>
<path class="b" d="M418.6,487.4 431.1,489 435.5,484.6 423.1,483z"/>
<path class="r" d="M418.6,275 431.1,276.2 435.5,266.2 423.1,263.1z"/>
<path class="b" d="M431.1,489 443.5,490.7 447.9,486.3 435.5,484.6z"/>
<path class="r" d="M431.1,276.2 443.5,277.5 447.9,259.4 435.5,266.2z"/>
<path class="b" d="M443.5,490.7 455.9,492.4 460.4,488 447.9,486.3z"/>
<path class="r" d="M443.5,277.5 455.9,269.4 460.4,248.5 447.9,259.4z"/>
<path class="b" d="M455.9,492.4 468.3,494.1 472.8,489.7 460.4,488z"/>
<path class="r" d="M455.9,269.4 468.3,264.8 472.8,245 460.4,248.5z"/>
<path class="b" d="M468.3,494.1 480.7,495.8 485.2,491.4 472.8,489.7z"/>
<path class="r" d="M468.3,264.8 480.7,272.5 485.2,251.6 472.8,245z"/>
<path class="b" d="M480.7,495.8 493.1,497.4 497.6,493.1 485.2,491.4z"/>
<path class="r" d="M480.7,272.5 493.1,282.4 497.6,260.1 485.2,251.6z"/>
<path class="b" d="M493.1,497.4 505.6,499.1 510,494.7 497.6,493.1z"/>
<path class="r" d="M493.1,282.4 505.6,284.7 510,264 497.6,260.1z"/>
<path class="b" d="M505.6,499.1 518,500.8 522.5,496.4 510,494.7z"/>
<path class="r" d="M505.6,284.7 518,286.2 522.5,265.6 510,264z"/>
<path class="b" d="M518,500.8 530.4,502.5 534.9,498.1 522.5,496.4z"/>
<path class="r" d="M518,286.2 530.4,288 534.9,273.6 522.5,265.6z"/>
<path class="b" d="M530.4,502.5 542.8,504.2 547.3,499.8 534.9,498.1z"/>
<path class="r" d="M530.4,288 542.8,290.2 547.3,282.8 534.9,273.6z"/>
<path class="b" d="M542.8,504.2 555.2,505.8 559.7,501.5 547.3,499.8z"/>
<path class="r" d="M542.8,290.2 555.2,291.8 559.7,281.8 547.3,282.8z"/>
<path class="b" d="M555.2,505.8 567.7,507.5 572.1,498.4 559.7,501.5z"/>
<path class="r" d="M555.2,291.8 567.7,290.9 572.1,271.5 559.7,281.8z"/>
<path class="b" d="M567.7,507.5 580.1,509.2 584.6,495.4 572.1,498.4z"/>
<path class="r" d="M567.7,290.9 580.1,282.6 584.6,265.9 572.1,271.5z"/>
<path class="b" d="M580.1,509.2 592.5,510.9 597,483.2 584.6,495.4z"/>
<path class="r" d="M580.1,282.6 592.5,281 597,268.9 584.6,265.9z"/>
<path class="b" d="M592.5,510.9 604.9,506.5 609.4,456 597,483.2z"/>
<path class="r" d="M592.5,281 604.9,280.5 609.4,271.7 597,268.9z"/>
<path class="b" d="M604.9,506.5 617.4,506.9 621.8,371.3 609.4,456z"/>
<path class="r" d="M604.9,280.5 617.4,280.1 621.8,273.5 609.4,271.7z"/>
<path class="b" d="M617.4,506.9 629.8,508.5 634.2,372.9 621.8,371.3z"/>
<path class="r" d="M617.4,280.1 629.8,282.2 634.2,277.5 621.8,273.5z"/>
<path class="b" d="M629.8,508.5 642.2,511.3 646.7,374.5 634.2,372.9z"/>
<path class="r" d="M629.8,282.2 642.2,286.8 646.7,279.7 634.2,277.5z"/>
<path class="b" d="M642.2,511.3 654.6,517.3 659.1,513.3 646.7,374.5z"/>
<path class="r" d="M642.2,286.8 654.6,292.4 659.1,284.9 646.7,279.7z"/>
<path class="b" d="M654.6,517.3 667,519.1 671.5,512.6 659.1,513.3z"/>
<path class="r" d="M654.6,292.4 667,293.3 671.5,289.8 659.1,284.9z"/>
<path class="b" d="M667,519.1 679.5,520.7 683.9,514 671.5,512.6z"/>
<path class="g" d="M667,293.3 679.5,284.6 683.9,296.2 671.5,289.8z"/>
<path class="b" d="M679.5,520.7 691.9,521.4 696.3,511.4 683.9,514z"/>
<path class="g" d="M679.5,284.6 691.9,298.1 696.3,303.1 683.9,296.2z"/>
<path class="b" d="M691.9,521.4 704.3,521.1 708.8,513.5 696.3,511.4z"/>
<path class="r" d="M691.9,298.1 704.3,300.9 708.8,262.8 696.3,303.1z"/>
<path class="b" d="M704.3,521.1 716.7,521 721.2,515.2 708.8,513.5z"/>
<path class="r" d="M704.3,300.9 716.7,303.3 721.2,312.7 708.8,262.8z"/>
<path class="b" d="M716.7,521 729.1,521.9 733.6,513.1 721.2,515.2z"/>
<path class="g" d="M716.7,303.3 729.1,305.4 733.6,314.2 721.2,312.7z"/>
<path class="b" d="M729.1,521.9 741.6,521.6 746,512.8 733.6,513.1z"/>
<path class="g" d="M729.1,305.4 741.6,307.5 746,314.9 733.6,314.2z"/>
<path class="b" d="M741.6,521.6 754,524.8 758.4,515.2 746,512.8z"/>
<path class="g" d="M741.6,307.5 754,309.3 758.4,314.1 746,314.9z"/>
<path class="b" d="M265.1,471.6 277.5,473.2 282,468.9 269.6,467.2z"/>
<path class="r" d="M265.1,262.7 277.5,266.2 282,260 269.6,254.6z"/>
<path class="b" d="M277.5,473.2 290,474.9 294.4,470.5 282,468.9z"/>
<path class="r" d="M277.5,266.2 290,268.7 294.4,263.4 282,260z"/>
<path class="b" d="M290,474.9 302.4,476.6 306.9,472.2 294.4,470.5z"/>
<path class="r" d="M290,268.7 302.4,270.1 306.9,264.9 294.4,263.4z"/>
<path class="b" d="M302.4,476.6 314.8,478.3 319.3,473.9 306.9,472.2z"/>
<path class="r" d="M302.4,270.1 314.8,271.4 319.3,266.1 306.9,264.9z"/>
<path class="b" d="M314.8,478.3 327.2,480 331.7,475.6 319.3,473.9z"/>
<path class="r" d="M314.8,271.4 327.2,272.6 331.7,266.7 319.3,266.1z"/>
<path class="b" d="M327.2,480 339.6,481.6 344.1,477.3 331.7,475.6z"/>
<path class="r" d="M327.2,272.6 339.6,273 344.1,265.5 331.7,266.7z"/>
<path class="b" d="M339.6,481.6 352.1,483.3 356.5,478.9 344.1,477.3z"/>
<path class="r" d="M339.6,273 352.1,273.7 356.5,265.2 344.1,265.5z"/>
<path class="b" d="M352.1,483.3 364.5,485 369,480.6 356.5,478.9z"/>
<path class="r" d="M352.1,273.7 364.5,275 369,268.6 356.5,265.2z"/>
<path class="b" d="M364.5,485 376.9,486.7 381.4,482.3 369,480.6z"/>
<path class="r" d="M364.5,275 376.9,276 381.4,271.2 369,268.6z"/>
<path class="b" d="M376.9,486.7 389.3,488.4 393.8,484 381.4,482.3z"/>
<path class="r" d="M376.9,276 389.3,276.9 393.8,272.4 381.4,271.2z"/>
<path class="b" d="M389.3,488.4 401.7,490.1 406.2,485.7 393.8,484z"/>
<path class="r" d="M389.3,276.9 401.7,278 406.2,273.7 393.8,272.4z"/>
<path class="b" d="M401.7,490.1 414.2,491.7 418.6,487.4 406.2,485.7z"/>
<path class="r" d="M401.7,278 414.2,279.1 418.6,275 406.2,273.7z"/>
<path class="b" d="M414.2,491.7 426.6,493.4 431.1,489 418.6,487.4z"/>
<path class="r" d="M414.2,279.1 426.6,280.2 431.1,276.2 418.6,275z"/>
<path class="b" d="M426.6,493.4 439,495.1 443.5,490.7 431.1,489z"/>
<path class="r" d="M426.6,280.2 439,281.7 443.5,277.5 431.1,276.2z"/>
<path class="b" d="M439,495.1 451.4,496.8 455.9,492.4 443.5,490.7z"/>
<path class="r" d="M439,281.7 451.4,283.2 455.9,269.4 443.5,277.5z"/>
<path class="b" d="M451.4,496.8 463.8,498.5 468.3,494.1 455.9,492.4z"/>
<path class="r" d="M451.4,283.2 463.8,284.6 468.3,264.8 455.9,269.4z"/>
<path class="b" d="M463.8,498.5 476.3,500.2 480.7,495.8 468.3,494.1z"/>
<path class="r" d="M463.8,284.6 476.3,286.2 480.7,272.5 468.3,264.8z"/>
<path class="b" d="M476.3,500.2 488.7,501.8 493.1,497.4 480.7,495.8z"/>
<path class="r" d="M476.3,286.2 488.7,287.9 493.1,282.4 480.7,272.5z"/>
<path class="b" d="M488.7,501.8 501.1,503.5 505.6,499.1 493.1,497.4z"/>
<path class="r" d="M488.7,287.9 501.1,289.4 505.6,284.7 493.1,282.4z"/>
<path class="b" d="M501.1,503.5 513.5,505.2 518,500.8 505.6,499.1z"/>
<path class="r" d="M501.1,289.4 513.5,291 518,286.2 505.6,284.7z"/>
<path class="b" d="M513.5,505.2 525.9,506.9 530.4,502.5 518,500.8z"/>
<path class="r" d="M513.5,291 525.9,292.7 530.4,288 518,286.2z"/>
<path class="b" d="M525.9,506.9 538.4,508.6 542.8,504.2 530.4,502.5z"/>
<path class="r" d="M525.9,292.7 538.4,294.5 542.8,290.2 530.4,288z"/>
<path class="b" d="M538.4,508.6 550.8,510.2 555.2,505.8 542.8,504.2z"/>
<path class="r" d="M538.4,294.5 550.8,296.7 555.2,291.8 542.8,290.2z"/>
<path class="b" d="M550.8,510.2 563.2,511.9 567.7,507.5 555.2,505.8z"/>
<path class="r" d="M550.8,296.7 563.2,298.6 567.7,290.9 555.2,291.8z"/>
<path class="b" d="M563.2,511.9 575.6,513.6 580.1,509.2 567.7,507.5z"/>
<path class="r" d="M563.2,298.6 575.6,297.3 580.1,282.6 567.7,290.9z"/>
<path class="b" d="M575.6,513.6 588,515.3 592.5,510.9 580.1,509.2z"/>
<path class="r" d="M575.6,297.3 588,295 592.5,281 580.1,282.6z"/>
<path class="b" d="M588,515.3 600.5,517 604.9,506.5 592.5,510.9z"/>
<path class="r" d="M588,295 600.5,294.6 604.9,280.5 592.5,281z"/>
<path class="b" d="M600.5,517 612.9,518.7 617.4,506.9 604.9,506.5z"/>
<path class="r" d="M600.5,294.6 612.9,295.1 617.4,280.1 604.9,280.5z"/>
<path class="b" d="M612.9,518.7 625.3,520.3 629.8,508.5 617.4,506.9z"/>
<path class="r" d="M612.9,295.1 625.3,296.7 629.8,282.2 617.4,280.1z"/>
<path class="b" d="M625.3,520.3 637.7,522 642.2,511.3 629.8,508.5z"/>
<path class="r" d="M625.3,296.7 637.7,301.3 642.2,286.8 629.8,282.2z"/>
<path class="b" d="M637.7,522 650.1,524.6 654.6,517.3 642.2,511.3z"/>
<path class="r" d="M637.7,301.3 650.1,304.9 654.6,292.4 642.2,286.8z"/>
<path class="b" d="M650.1,524.6 662.6,523.8 667,519.1 654.6,517.3z"/>
<path class="r" d="M650.1,304.9 662.6,305.5 667,293.3 654.6,292.4z"/>
<path class="b" d="M662.6,523.8 675,528.6 679.5,520.7 667,519.1z"/>
<path class="r" d="M662.6,305.5 675,305.1 679.5,284.6 667,293.3z"/>
<path class="b" d="M675,528.6 687.4,530.5 691.9,521.4 679.5,520.7z"/>
<path class="r" d="M675,305.1 687.4,304.2 691.9,298.1 679.5,284.6z"/>
<path class="b" d="M687.4,530.5 699.8,531.3 704.3,521.1 691.9,521.4z"/>
<path class="r" d="M687.4,304.2 699.8,303.1 704.3,300.9 691.9,298.1z"/>
<path class="b" d="M699.8,531.3 712.2,528.9 716.7,521 704.3,521.1z"/>
<path class="r" d="M699.8,303.1 712.2,303.1 716.7,303.3 704.3,300.9z"/>
<path class="b" d="M712.2,528.9 724.7,532.2 729.1,521.9 716.7,521z"/>
<path class="g" d="M712.2,303.1 724.7,304.1 729.1,305.4 716.7,303.3z"/>
<path class="b" d="M724.7,532.2 737.1,532.8 741.6,521.6 729.1,521.9z"/>
<path class="g" d="M724.7,304.1 737.1,305.3 741.6,307.5 729.1,305.4z"/>
<path class="b" d="M737.1,532.8 749.5,530.7 754,524.8 741.6,521.6z"/>
<path class="g" d="M737.1,305.3 749.5,306.8 754,309.3 741.6,307.5z"/>
<path class="b" d="M260.7,475.9 273.1,477.6 277.5,473.2 265.1,471.6z"/>
<path class="r" d="M260.7,270.5 273.1,271.9 277.5,266.2 265.1,262.7z"/>
<path class="b" d="M273.1,477.6 285.5,479.3 290,474.9 277.5,473.2z"/>
<path class="r" d="M273.1,271.9 285.5,273.3 290,268.7 277.5,266.2z"/>
<path class="b" d="M285.5,479.3 297.9,481 302.4,476.6 290,474.9z"/>
<path class="r" d="M285.5,273.3 297.9,274.7 302.4,270.1 290,268.7z"/>
<path class="b" d="M297.9,481 310.3,482.7 314.8,478.3 302.4,476.6z"/>
<path class="r" d="M297.9,274.7 310.3,275.9 314.8,271.4 302.4,270.1z"/>
<path class="b" d="M310.3,482.7 322.8,484.3 327.2,480 314.8,478.3z"/>
<path class="r" d="M310.3,275.9 322.8,277 327.2,272.6 314.8,271.4z"/>
<path class="b" d="M322.8,484.3 335.2,486 339.6,481.6 327.2,480z"/>
<path class="r" d="M322.8,277 335.2,277.9 339.6,273 327.2,272.6z"/>
<path class="b" d="M335.2,486 347.6,487.7 352.1,483.3 339.6,481.6z"/>
<path class="r" d="M335.2,277.9 347.6,278.6 352.1,273.7 339.6,273z"/>
<path class="b" d="M347.6,487.7 360,489.4 364.5,485 352.1,483.3z"/>
<path class="r" d="M347.6,278.6 360,279.2 364.5,275 352.1,273.7z"/>
<path class="b" d="M360,489.4 372.4,491.1 376.9,486.7 364.5,485z"/>
<path class="r" d="M360,279.2 372.4,279.8 376.9,276 364.5,275z"/>
<path class="b" d="M372.4,491.1 384.9,492.8 389.3,488.4 376.9,486.7z"/>
<path class="r" d="M372.4,279.8 384.9,280.6 389.3,276.9 376.9,276z"/>
<path class="b" d="M384.9,492.8 397.3,494.4 401.7,490.1 389.3,488.4z"/>
<path class="r" d="M384.9,280.6 397.3,281.6 401.7,278 389.3,276.9z"/>
<path class="b" d="M397.3,494.4 409.7,496.1 414.2,491.7 401.7,490.1z"/>
<path class="r" d="M397.3,281.6 409.7,282.6 414.2,279.1 401.7,278z"/>
<path class="b" d="M409.7,496.1 422.1,497.8 426.6,493.4 414.2,491.7z"/>
<path class="r" d="M409.7,282.6 422.1,283.7 426.6,280.2 414.2,279.1z"/>
<path class="b" d="M422.1,497.8 434.5,499.5 439,495.1 426.6,493.4z"/>
<path class="r" d="M422.1,283.7 434.5,285.2 439,281.7 426.6,280.2z"/>
<path class="b" d="M434.5,499.5 447,501.2 451.4,496.8 439,495.1z"/>
<path class="r" d="M434.5,285.2 447,286.8 451.4,283.2 439,281.7z"/>
<path class="b" d="M447,501.2 459.4,502.9 463.8,498.5 451.4,496.8z"/>
<path class="r" d="M447,286.8 459.4,288.5 463.8,284.6 451.4,283.2z"/>
<path class="b" d="M459.4,502.9 471.8,504.5 476.3,500.2 463.8,498.5z"/>
<path class="r" d="M459.4,288.5 471.8,290 476.3,286.2 463.8,284.6z"/>
<path class="b" d="M471.8,504.5 484.2,506.2 488.7,501.8 476.3,500.2z"/>
<path class="r" d="M471.8,290 484.2,291.4 488.7,287.9 476.3,286.2z"/>
<path class="b" d="M484.2,506.2 496.6,507.9 501.1,503.5 488.7,501.8z"/>
<path class="r" d="M484.2,291.4 496.6,292.9 501.1,289.4 488.7,287.9z"/>
<path class="b" d="M496.6,507.9 509.1,509.6 513.5,505.2 501.1,503.5z"/>
<path class="r" d="M496.6,292.9 509.1,294.5 513.5,291 501.1,289.4z"/>
<path class="b" d="M509.1,509.6 521.5,511.3 525.9,506.9 513.5,505.2z"/>
<path class="r" d="M509.1,294.5 521.5,296.2 525.9,292.7 513.5,291z"/>
<path class="b" d="M521.5,511.3 533.9,513 538.4,508.6 525.9,506.9z"/>
<path class="r" d="M521.5,296.2 533.9,298.1 538.4,294.5 525.9,292.7z"/>
<path class="b" d="M533.9,513 546.3,514.6 550.8,510.2 538.4,508.6z"/>
<path class="r" d="M533.9,298.1 546.3,300.4 550.8,296.7 538.4,294.5z"/>
<path class="b" d="M546.3,514.6 558.7,516.3 563.2,511.9 550.8,510.2z"/>
<path class="r" d="M546.3,300.4 558.7,302.7 563.2,298.6 550.8,296.7z"/>
<path class="b" d="M558.7,516.3 571.2,518 575.6,513.6 563.2,511.9z"/>
<path class="r" d="M558.7,302.7 571.2,304.1 575.6,297.3 563.2,298.6z"/>
<path class="b" d="M571.2,518 583.6,519.7 588,515.3 575.6,513.6z"/>
<path class="r" d="M571.2,304.1 583.6,305.1 588,295 575.6,297.3z"/>
<path class="b" d="M583.6,519.7 596,521.4 600.5,517 588,515.3z"/>
<path class="r" d="M583.6,305.1 596,306.9 600.5,294.6 588,295z"/>
<path class="b" d="M596,521.4 608.4,523.1 612.9,518.7 600.5,517z"/>
<path class="r" d="M596,306.9 608.4,308.7 612.9,295.1 600.5,294.6z"/>
<path class="b" d="M608.4,523.1 620.8,524.7 625.3,520.3 612.9,518.7z"/>
<path class="r" d="M608.4,308.7 620.8,310.4 625.3,296.7 612.9,295.1z"/>
<path class="b" d="M620.8,524.7 633.3,526.4 637.7,522 625.3,520.3z"/>
<path class="r" d="M620.8,310.4 633.3,313.5 637.7,301.3 625.3,296.7z"/>
<path class="b" d="M633.3,526.4 645.7,525.9 650.1,524.6 637.7,522z"/>
<path class="r" d="M633.3,313.5 645.7,315.9 650.1,304.9 637.7,301.3z"/>
<path class="b" d="M645.7,525.9 658.1,528.7 662.6,523.8 650.1,524.6z"/>
<path class="r" d="M645.7,315.9 658.1,317.3 662.6,305.5 650.1,304.9z"/>
<path class="b" d="M658.1,528.7 670.5,533.5 675,528.6 662.6,523.8z"/>
<path class="r" d="M658.1,317.3 670.5,317.4 675,305.1 662.6,305.5z"/>
<path class="b" d="M670.5,533.5 682.9,532.3 687.4,530.5 675,528.6z"/>
<path class="r" d="M670.5,317.4 682.9,315.7 687.4,304.2 675,305.1z"/>
<path class="b" d="M682.9,532.3 695.4,537.1 699.8,531.3 687.4,530.5z"/>
<path class="r" d="M682.9,315.7 695.4,313.5 699.8,303.1 687.4,304.2z"/>
<path class="b" d="M695.4,537.1 707.8,534.7 712.2,528.9 699.8,531.3z"/>
<path class="r" d="M695.4,313.5 707.8,312 712.2,303.1 699.8,303.1z"/>
<path class="b" d="M707.8,534.7 720.2,537.8 724.7,532.2 712.2,528.9z"/>
<path class="r" d="M707.8,312 720.2,311.5 724.7,304.1 712.2,303.1z"/>
<path class="b" d="M720.2,537.8 732.6,538.6 737.1,532.8 724.7,532.2z"/>
<path class="r" d="M720.2,311.5 732.6,311.2 737.1,305.3 724.7,304.1z"/>
<path class="b" d="M732.6,538.6 745,541.8 749.5,530.7 737.1,532.8z"/>
<path class="r" d="M732.6,311.2 745,311.1 749.5,306.8 737.1,305.3z"/>
<path class="b" d="M256.2,480.3 268.6,482 273.1,477.6 260.7,475.9z"/>
<path class="r" d="M256.2,275.1 268.6,276.4 273.1,271.9 260.7,270.5z"/>
<path class="b" d="M268.6,482 281,483.7 285.5,479.3 273.1,477.6z"/>
<path class="r" d="M268.6,276.4 281,277.7 285.5,273.3 273.1,271.9z"/>
<path class="b" d="M281,483.7 293.5,485.3 297.9,481 285.5,479.3z"/>
<path class="r" d="M281,277.7 293.5,279 297.9,274.7 285.5,273.3z"/>
<path class="b" d="M293.5,485.3 305.9,487 310.3,482.7 297.9,481z"/>
<path class="r" d="M293.5,279 305.9,280.2 310.3,275.9 297.9,274.7z"/>
<path class="b" d="M305.9,487 318.3,488.7 322.8,484.3 310.3,482.7z"/>
<path class="r" d="M305.9,280.2 318.3,281.4 322.8,277 310.3,275.9z"/>
<path class="b" d="M318.3,488.7 330.7,490.4 335.2,486 322.8,484.3z"/>
<path class="r" d="M318.3,281.4 330.7,282.1 335.2,277.9 322.8,277z"/>
<path class="b" d="M330.7,490.4 343.1,492.1 347.6,487.7 335.2,486z"/>
<path class="r" d="M330.7,282.1 343.1,282.5 347.6,278.6 335.2,277.9z"/>
<path class="b" d="M343.1,492.1 355.6,493.8 360,489.4 347.6,487.7z"/>
<path class="r" d="M343.1,282.5 355.6,282.8 360,279.2 347.6,278.6z"/>
<path class="b" d="M355.6,493.8 368,495.5 372.4,491.1 360,489.4z"/>
<path class="r" d="M355.6,282.8 368,283.3 372.4,279.8 360,279.2z"/>
<path class="b" d="M368,495.5 380.4,497.1 384.9,492.8 372.4,491.1z"/>
<path class="r" d="M368,283.3 380.4,283.9 384.9,280.6 372.4,279.8z"/>
<path class="b" d="M380.4,497.1 392.8,498.8 397.3,494.4 384.9,492.8z"/>
<path class="r" d="M380.4,283.9 392.8,284.7 397.3,281.6 384.9,280.6z"/>
<path class="b" d="M392.8,498.8 405.2,500.5 409.7,496.1 397.3,494.4z"/>
<path class="r" d="M392.8,284.7 405.2,285.7 409.7,282.6 397.3,281.6z"/>
<path class="b" d="M405.2,500.5 417.7,502.2 422.1,497.8 409.7,496.1z"/>
<path class="r" d="M405.2,285.7 417.7,286.8 422.1,283.7 409.7,282.6z"/>
<path class="b" d="M417.7,502.2 430.1,503.9 434.5,499.5 422.1,497.8z"/>
<path class="r" d="M417.7,286.8 430.1,288.2 434.5,285.2 422.1,283.7z"/>
<path class="b" d="M430.1,503.9 442.5,505.6 447,501.2 434.5,499.5z"/>
<path class="r" d="M430.1,288.2 442.5,289.7 447,286.8 434.5,285.2z"/>
<path class="b" d="M442.5,505.6 454.9,507.2 459.4,502.9 447,501.2z"/>
<path class="r" d="M442.5,289.7 454.9,291.4 459.4,288.5 447,286.8z"/>
<path class="b" d="M454.9,507.2 467.3,508.9 471.8,504.5 459.4,502.9z"/>
<path class="r" d="M454.9,291.4 467.3,292.9 471.8,290 459.4,288.5z"/>
<path class="b" d="M467.3,508.9 479.8,510.6 484.2,506.2 471.8,504.5z"/>
<path class="r" d="M467.3,292.9 479.8,294.3 484.2,291.4 471.8,290z"/>
<path class="b" d="M479.8,510.6 492.2,512.3 496.6,507.9 484.2,506.2z"/>
<path class="r" d="M479.8,294.3 492.2,295.9 496.6,292.9 484.2,291.4z"/>
<path class="b" d="M492.2,512.3 504.6,514 509.1,509.6 496.6,507.9z"/>
<path class="r" d="M492.2,295.9 504.6,297.5 509.1,294.5 496.6,292.9z"/>
<path class="b" d="M504.6,514 517,515.7 521.5,511.3 509.1,509.6z"/>
<path class="r" d="M504.6,297.5 517,299.2 521.5,296.2 509.1,294.5z"/>
<path class="b" d="M517,515.7 529.4,517.4 533.9,513 521.5,511.3z"/>
<path class="r" d="M517,299.2 529.4,301.3 533.9,298.1 521.5,296.2z"/>
<path class="b" d="M529.4,517.4 541.9,519 546.3,514.6 533.9,513z"/>
<path class="r" d="M529.4,301.3 541.9,303.7 546.3,300.4 533.9,298.1z"/>
<path class="b" d="M541.9,519 554.3,520.7 558.7,516.3 546.3,514.6z"/>
<path class="r" d="M541.9,303.7 554.3,306.3 558.7,302.7 546.3,300.4z"/>
<path class="b" d="M554.3,520.7 566.7,522.4 571.2,518 558.7,516.3z"/>
<path class="r" d="M554.3,306.3 566.7,308.8 571.2,304.1 558.7,302.7z"/>
<path class="b" d="M566.7,522.4 579.1,524.1 583.6,519.7 571.2,518z"/>
<path class="r" d="M566.7,308.8 579.1,311.5 583.6,305.1 571.2,304.1z"/>
<path class="b" d="M579.1,524.1 591.5,525.8 596,521.4 583.6,519.7z"/>
<path class="r" d="M579.1,311.5 591.5,314.3 596,306.9 583.6,305.1z"/>
<path class="b" d="M591.5,525.8 604,527.5 608.4,523.1 596,521.4z"/>
<path class="r" d="M591.5,314.3 604,316.8 608.4,308.7 596,306.9z"/>
<path class="b" d="M604,527.5 616.4,529.1 620.8,524.7 608.4,523.1z"/>
<path class="r" d="M604,316.8 616.4,319.1 620.8,310.4 608.4,308.7z"/>
<path class="b" d="M616.4,529.1 628.8,530.8 633.3,526.4 620.8,524.7z"/>
<path class="r" d="M616.4,319.1 628.8,321.5 633.3,313.5 620.8,310.4z"/>
<path class="b" d="M628.8,530.8 641.2,532.5 645.7,525.9 633.3,526.4z"/>
<path class="r" d="M628.8,321.5 641.2,323.7 645.7,315.9 633.3,313.5z"/>
<path class="b" d="M641.2,532.5 653.6,534.2 658.1,528.7 645.7,525.9z"/>
<path class="r" d="M641.2,323.7 653.6,325.4 658.1,317.3 645.7,315.9z"/>
<path class="b" d="M653.6,534.2 666.1,535.9 670.5,533.5 658.1,528.7z"/>
<path class="r" d="M653.6,325.4 666.1,326.3 670.5,317.4 658.1,317.3z"/>
<path class="b" d="M666.1,535.9 678.5,537.6 682.9,532.3 670.5,533.5z"/>
<path class="r" d="M666.1,326.3 678.5,326.3 682.9,315.7 670.5,317.4z"/>
<path class="b" d="M678.5,537.6 690.9,539.3 695.4,537.1 682.9,532.3z"/>
<path class="r" d="M678.5,326.3 690.9,325.9 695.4,313.5 682.9,315.7z"/>
<path class="b" d="M690.9,539.3 703.3,540.9 707.8,534.7 695.4,537.1z"/>
<path class="r" d="M690.9,325.9 703.3,325.6 707.8,312 695.4,313.5z"/>
<path class="b" d="M703.3,540.9 715.7,542.6 720.2,537.8 707.8,534.7z"/>
<path class="r" d="M703.3,325.6 715.7,325.4 720.2,311.5 707.8,312z"/>
<path class="b" d="M715.7,542.6 728.2,544.3 732.6,538.6 720.2,537.8z"/>
<path class="r" d="M715.7,325.4 728.2,325.1 732.6,311.2 720.2,311.5z"/>
<path class="b" d="M728.2,544.3 740.6,546 745,541.8 732.6,538.6z"/>
<path class="r" d="M728.2,325.1 740.6,324.7 745,311.1 732.6,311.2z"/>
<path class="b" d="M251.7,484.7 264.1,486.4 268.6,482 256.2,480.3z"/>
<path class="r" d="M251.7,279.7 264.1,280.8 268.6,276.4 256.2,275.1z"/>
<path class="b" d="M264.1,486.4 276.6,488 281,483.7 268.6,482z"/>
<path class="r" d="M264.1,280.8 276.6,281.9 281,277.7 268.6,276.4z"/>
<path class="b" d="M276.6,488 289,489.7 293.5,485.3 281,483.7z"/>
<path class="r" d="M276.6,281.9 289,283.2 293.5,279 281,277.7z"/>
<path class="b" d="M289,489.7 301.4,491.4 305.9,487 293.5,485.3z"/>
<path class="r" d="M289,283.2 301.4,284.5 305.9,280.2 293.5,279z"/>
<path class="b" d="M301.4,491.4 313.8,493.1 318.3,488.7 305.9,487z"/>
<path class="r" d="M301.4,284.5 313.8,285.6 318.3,281.4 305.9,280.2z"/>
<path class="b" d="M313.8,493.1 326.2,494.8 330.7,490.4 318.3,488.7z"/>
<path class="r" d="M313.8,285.6 326.2,286.2 330.7,282.1 318.3,281.4z"/>
<path class="b" d="M326.2,494.8 338.7,496.5 343.1,492.1 330.7,490.4z"/>
<path class="r" d="M326.2,286.2 338.7,286.4 343.1,282.5 330.7,282.1z"/>
<path class="b" d="M338.7,496.5 351.1,498.2 355.6,493.8 343.1,492.1z"/>
<path class="r" d="M338.7,286.4 351.1,286.6 355.6,282.8 343.1,282.5z"/>
<path class="b" d="M351.1,498.2 363.5,499.8 368,495.5 355.6,493.8z"/>
<path class="r" d="M351.1,286.6 363.5,287 368,283.3 355.6,282.8z"/>
<path class="b" d="M363.5,499.8 375.9,501.5 380.4,497.1 368,495.5z"/>
<path class="r" d="M363.5,287 375.9,287.4 380.4,283.9 368,283.3z"/>
<path class="b" d="M375.9,501.5 388.4,503.2 392.8,498.8 380.4,497.1z"/>
<path class="r" d="M375.9,287.4 388.4,288 392.8,284.7 380.4,283.9z"/>
<path class="b" d="M388.4,503.2 400.8,504.9 405.2,500.5 392.8,498.8z"/>
<path class="r" d="M388.4,288 400.8,288.9 405.2,285.7 392.8,284.7z"/>
<path class="b" d="M400.8,504.9 413.2,506.6 417.7,502.2 405.2,500.5z"/>
<path class="r" d="M400.8,288.9 413.2,290.1 417.7,286.8 405.2,285.7z"/>
<path class="b" d="M413.2,506.6 425.6,508.3 430.1,503.9 417.7,502.2z"/>
<path class="r" d="M413.2,290.1 425.6,291.4 430.1,288.2 417.7,286.8z"/>
<path class="b" d="M425.6,508.3 438,510 442.5,505.6 430.1,503.9z"/>
<path class="r" d="M425.6,291.4 438,292.9 442.5,289.7 430.1,288.2z"/>
<path class="b" d="M438,510 450.5,511.6 454.9,507.2 442.5,505.6z"/>
<path class="r" d="M438,292.9 450.5,294.4 454.9,291.4 442.5,289.7z"/>
<path class="b" d="M450.5,511.6 462.9,513.3 467.3,508.9 454.9,507.2z"/>
<path class="r" d="M450.5,294.4 462.9,296 467.3,292.9 454.9,291.4z"/>
<path class="b" d="M462.9,513.3 475.3,515 479.8,510.6 467.3,508.9z"/>
<path class="r" d="M462.9,296 475.3,297.5 479.8,294.3 467.3,292.9z"/>
<path class="b" d="M475.3,515 487.7,516.7 492.2,512.3 479.8,510.6z"/>
<path class="r" d="M475.3,297.5 487.7,299.1 492.2,295.9 479.8,294.3z"/>
<path class="b" d="M487.7,516.7 500.1,518.4 504.6,514 492.2,512.3z"/>
<path class="r" d="M487.7,299.1 500.1,300.7 504.6,297.5 492.2,295.9z"/>
<path class="b" d="M500.1,518.4 512.5,520.1 517,515.7 504.6,514z"/>
<path class="r" d="M500.1,300.7 512.5,302.5 517,299.2 504.6,297.5z"/>
<path class="b" d="M512.5,520.1 525,521.8 529.4,517.4 517,515.7z"/>
<path class="r" d="M512.5,302.5 525,304.6 529.4,301.3 517,299.2z"/>
<path class="b" d="M525,521.8 537.4,523.4 541.9,519 529.4,517.4z"/>
<path class="r" d="M525,304.6 537.4,307 541.9,303.7 529.4,301.3z"/>
<path class="b" d="M537.4,523.4 549.8,525.1 554.3,520.7 541.9,519z"/>
<path class="r" d="M537.4,307 549.8,309.5 554.3,306.3 541.9,303.7z"/>
<path class="b" d="M549.8,525.1 562.2,526.8 566.7,522.4 554.3,520.7z"/>
<path class="r" d="M549.8,309.5 562.2,312.6 566.7,308.8 554.3,306.3z"/>
<path class="b" d="M562.2,526.8 574.6,528.5 579.1,524.1 566.7,522.4z"/>
<path class="r" d="M562.2,312.6 574.6,316.2 579.1,311.5 566.7,308.8z"/>
<path class="b" d="M574.6,528.5 587.1,530.2 591.5,525.8 579.1,524.1z"/>
<path class="r" d="M574.6,316.2 587.1,319.8 591.5,314.3 579.1,311.5z"/>
<path class="b" d="M587.1,530.2 599.5,531.9 604,527.5 591.5,525.8z"/>
<path class="r" d="M587.1,319.8 599.5,322.8 604,316.8 591.5,314.3z"/>
<path class="b" d="M599.5,531.9 611.9,533.6 616.4,529.1 604,527.5z"/>
<path class="r" d="M599.5,322.8 611.9,325.3 616.4,319.1 604,316.8z"/>
<path class="b" d="M611.9,533.6 624.3,535.2 628.8,530.8 616.4,529.1z"/>
<path class="r" d="M611.9,325.3 624.3,327.7 628.8,321.5 616.4,319.1z"/>
<path class="b" d="M624.3,535.2 636.8,536.9 641.2,532.5 628.8,530.8z"/>
<path class="r" d="M624.3,327.7 636.8,329.8 641.2,323.7 628.8,321.5z"/>
<path class="b" d="M636.8,536.9 649.2,538.6 653.6,534.2 641.2,532.5z"/>
<path class="r" d="M636.8,329.8 649.2,331.6 653.6,325.4 641.2,323.7z"/>
<path class="b" d="M649.2,538.6 661.6,540.3 666.1,535.9 653.6,534.2z"/>
<path class="r" d="M649.2,331.6 661.6,332.9 666.1,326.3 653.6,325.4z"/>
<path class="b" d="M661.6,540.3 674,542 678.5,537.6 666.1,535.9z"/>
<path class="r" d="M661.6,332.9 674,333.8 678.5,326.3 666.1,326.3z"/>
<path class="b" d="M674,542 686.4,543.7 690.9,539.3 678.5,537.6z"/>
<path class="r" d="M674,333.8 686.4,334.5 690.9,325.9 678.5,326.3z"/>
<path class="b" d="M686.4,543.7 698.9,545.4 703.3,540.9 690.9,539.3z"/>
<path class="r" d="M686.4,334.5 698.9,335.2 703.3,325.6 690.9,325.9z"/>
<path class="b" d="M698.9,545.4 711.3,547 715.7,542.6 703.3,540.9z"/>
<path class="r" d="M698.9,335.2 711.3,336 715.7,325.4 703.3,325.6z"/>
<path class="b" d="M711.3,547 723.7,548.7 728.2,544.3 715.7,542.6z"/>
<path class="r" d="M711.3,336 723.7,336.6 728.2,325.1 715.7,325.4z"/>
<path class="b" d="M723.7,548.7 736.1,550.4 740.6,546 728.2,544.3z"/>
<path class="r" d="M723.7,336.6 736.1,337.1 740.6,324.7 728.2,325.1z"/>
<path class="b" d="M247.3,489 259.7,490.7 264.1,486.4 251.7,484.7z"/>
<path class="r" d="M247.3,284.2 259.7,285.1 264.1,280.8 251.7,279.7z"/>
<path class="b" d="M259.7,490.7 272.1,492.4 276.6,488 264.1,486.4z"/>
<path class="r" d="M259.7,285.1 272.1,286.1 276.6,281.9 264.1,280.8z"/>
<path class="b" d="M272.1,492.4 284.5,494.1 289,489.7 276.6,488z"/>
<path class="r" d="M272.1,286.1 284.5,287.3 289,283.2 276.6,281.9z"/>
<path class="b" d="M284.5,494.1 296.9,495.8 301.4,491.4 289,489.7z"/>
<path class="r" d="M284.5,287.3 296.9,288.5 301.4,284.5 289,283.2z"/>
<path class="b" d="M296.9,495.8 309.4,497.5 313.8,493.1 301.4,491.4z"/>
<path class="r" d="M296.9,288.5 309.4,289.6 313.8,285.6 301.4,284.5z"/>
<path class="b" d="M309.4,497.5 321.8,499.2 326.2,494.8 313.8,493.1z"/>
<path class="r" d="M309.4,289.6 321.8,290.2 326.2,286.2 313.8,285.6z"/>
<path class="b" d="M321.8,499.2 334.2,500.8 338.7,496.5 326.2,494.8z"/>
<path class="r" d="M321.8,290.2 334.2,290.3 338.7,286.4 326.2,286.2z"/>
<path class="b" d="M334.2,500.8 346.6,502.5 351.1,498.2 338.7,496.5z"/>
<path class="r" d="M334.2,290.3 346.6,290.5 351.1,286.6 338.7,286.4z"/>
<path class="b" d="M346.6,502.5 359,504.2 363.5,499.8 351.1,498.2z"/>
<path class="r" d="M346.6,290.5 359,290.8 363.5,287 351.1,286.6z"/>
<path class="b" d="M359,504.2 371.5,505.9 375.9,501.5 363.5,499.8z"/>
<path class="r" d="M359,290.8 371.5,291 375.9,287.4 363.5,287z"/>
<path class="b" d="M371.5,505.9 383.9,507.6 388.4,503.2 375.9,501.5z"/>
<path class="r" d="M371.5,291 383.9,291.4 388.4,288 375.9,287.4z"/>
<path class="b" d="M383.9,507.6 396.3,509.3 400.8,504.9 388.4,503.2z"/>
<path class="r" d="M383.9,291.4 396.3,292.2 400.8,288.9 388.4,288z"/>
<path class="b" d="M396.3,509.3 408.7,511 413.2,506.6 400.8,504.9z"/>
<path class="r" d="M396.3,292.2 408.7,293.4 413.2,290.1 400.8,288.9z"/>
<path class="b" d="M408.7,511 421.1,512.7 425.6,508.3 413.2,506.6z"/>
<path class="r" d="M408.7,293.4 421.1,294.6 425.6,291.4 413.2,290.1z"/>
<path class="b" d="M421.1,512.7 433.6,514.3 438,510 425.6,508.3z"/>
<path class="r" d="M421.1,294.6 433.6,296 438,292.9 425.6,291.4z"/>
<path class="b" d="M433.6,514.3 446,516 450.5,511.6 438,510z"/>
<path class="r" d="M433.6,296 446,297.6 450.5,294.4 438,292.9z"/>
<path class="b" d="M446,516 458.4,517.7 462.9,513.3 450.5,511.6z"/>
<path class="r" d="M446,297.6 458.4,299.2 462.9,296 450.5,294.4z"/>
<path class="b" d="M458.4,517.7 470.8,519.4 475.3,515 462.9,513.3z"/>
<path class="r" d="M458.4,299.2 470.8,300.7 475.3,297.5 462.9,296z"/>
<path class="b" d="M470.8,519.4 483.2,521.1 487.7,516.7 475.3,515z"/>
<path class="r" d="M470.8,300.7 483.2,302.3 487.7,299.1 475.3,297.5z"/>
<path class="b" d="M483.2,521.1 495.7,522.8 500.1,518.4 487.7,516.7z"/>
<path class="r" d="M483.2,302.3 495.7,304 500.1,300.7 487.7,299.1z"/>
<path class="b" d="M495.7,522.8 508.1,524.5 512.5,520.1 500.1,518.4z"/>
<path class="r" d="M495.7,304 508.1,305.8 512.5,302.5 500.1,300.7z"/>
<path class="b" d="M508.1,524.5 520.5,526.1 525,521.8 512.5,520.1z"/>
<path class="r" d="M508.1,305.8 520.5,307.9 525,304.6 512.5,302.5z"/>
<path class="b" d="M520.5,526.1 532.9,527.8 537.4,523.4 525,521.8z"/>
<path class="r" d="M520.5,307.9 532.9,310.2 537.4,307 525,304.6z"/>
<path class="b" d="M532.9,527.8 545.3,529.5 549.8,525.1 537.4,523.4z"/>
<path class="r" d="M532.9,310.2 545.3,312.7 549.8,309.5 537.4,307z"/>
<path class="b" d="M545.3,529.5 557.8,531.2 562.2,526.8 549.8,525.1z"/>
<path class="r" d="M545.3,312.7 557.8,316 562.2,312.6 549.8,309.5z"/>
<path class="b" d="M557.8,531.2 570.2,532.9 574.6,528.5 562.2,526.8z"/>
<path class="r" d="M557.8,316 570.2,320.2 574.6,316.2 562.2,312.6z"/>
<path class="b" d="M570.2,532.9 582.6,534.6 587.1,530.2 574.6,528.5z"/>
<path class="r" d="M570.2,320.2 582.6,324.4 587.1,319.8 574.6,316.2z"/>
<path class="b" d="M582.6,534.6 595,536.3 599.5,531.9 587.1,530.2z"/>
<path class="r" d="M582.6,324.4 595,327.7 599.5,322.8 587.1,319.8z"/>
<path class="b" d="M595,536.3 607.4,538 611.9,533.6 599.5,531.9z"/>
<path class="r" d="M595,327.7 607.4,330.2 611.9,325.3 599.5,322.8z"/>
<path class="b" d="M607.4,538 619.9,539.6 624.3,535.2 611.9,533.6z"/>
<path class="r" d="M607.4,330.2 619.9,332.6 624.3,327.7 611.9,325.3z"/>
<path class="b" d="M619.9,539.6 632.3,541.3 636.8,536.9 624.3,535.2z"/>
<path class="r" d="M619.9,332.6 632.3,334.7 636.8,329.8 624.3,327.7z"/>
<path class="b" d="M632.3,541.3 644.7,543 649.2,538.6 636.8,536.9z"/>
<path class="r" d="M632.3,334.7 644.7,336.5 649.2,331.6 636.8,329.8z"/>
<path class="b" d="M644.7,543 657.1,544.7 661.6,540.3 649.2,538.6z"/>
<path class="r" d="M644.7,336.5 657.1,338.1 661.6,332.9 649.2,331.6z"/>
<path class="b" d="M657.1,544.7 669.5,546.4 674,542 661.6,540.3z"/>
<path class="r" d="M657.1,338.1 669.5,339.6 674,333.8 661.6,332.9z"/>
<path class="b" d="M669.5,546.4 682,548.1 686.4,543.7 674,542z"/>
<path class="r" d="M669.5,339.6 682,341 686.4,334.5 674,333.8z"/>
<path class="b" d="M682,548.1 694.4,549.8 698.9,545.4 686.4,543.7z"/>
<path class="r" d="M682,341 694.4,342.4 698.9,335.2 686.4,334.5z"/>
<path class="b" d="M694.4,549.8 706.8,551.5 711.3,547 698.9,545.4z"/>
<path class="r" d="M694.4,342.4 706.8,343.8 711.3,336 698.9,335.2z"/>
<path class="b" d="M706.8,551.5 719.2,553.1 723.7,548.7 711.3,547z"/>
<path class="r" d="M706.8,343.8 719.2,345 723.7,336.6 711.3,336z"/>
<path class="b" d="M719.2,553.1 731.6,554.8 736.1,550.4 723.7,548.7z"/>
<path class="r" d="M719.2,345 731.6,346.1 736.1,337.1 723.7,336.6z"/>
<path class="b" d="M242.8,493.4 255.2,495.1 259.7,490.7 247.3,489z"/>
<path class="r" d="M242.8,288.7 255.2,289.4 259.7,285.1 247.3,284.2z"/>
<path class="b" d="M255.2,495.1 267.6,496.8 272.1,492.4 259.7,490.7z"/>
<path class="r" d="M255.2,289.4 267.6,290.2 272.1,286.1 259.7,285.1z"/>
<path class="b" d="M267.6,496.8 280.1,498.5 284.5,494.1 272.1,492.4z"/>
<path class="r" d="M267.6,290.2 280.1,291.3 284.5,287.3 272.1,286.1z"/>
<path class="b" d="M280.1,498.5 292.5,500.2 296.9,495.8 284.5,494.1z"/>
<path class="r" d="M280.1,291.3 292.5,292.4 296.9,288.5 284.5,287.3z"/>
<path class="b" d="M292.5,500.2 304.9,501.9 309.4,497.5 296.9,495.8z"/>
<path class="r" d="M292.5,292.4 304.9,293.4 309.4,289.6 296.9,288.5z"/>
<path class="b" d="M304.9,501.9 317.3,503.5 321.8,499.2 309.4,497.5z"/>
<path class="r" d="M304.9,293.4 317.3,294 321.8,290.2 309.4,289.6z"/>
<path class="b" d="M317.3,503.5 329.7,505.2 334.2,500.8 321.8,499.2z"/>
<path class="r" d="M317.3,294 329.7,294.2 334.2,290.3 321.8,290.2z"/>
<path class="b" d="M329.7,505.2 342.2,506.9 346.6,502.5 334.2,500.8z"/>
<path class="r" d="M329.7,294.2 342.2,294.4 346.6,290.5 334.2,290.3z"/>
<path class="b" d="M342.2,506.9 354.6,508.6 359,504.2 346.6,502.5z"/>
<path class="r" d="M342.2,294.4 354.6,294.5 359,290.8 346.6,290.5z"/>
<path class="b" d="M354.6,508.6 367,510.3 371.5,505.9 359,504.2z"/>
<path class="r" d="M354.6,294.5 367,294.4 371.5,291 359,290.8z"/>
<path class="b" d="M367,510.3 379.4,512 383.9,507.6 371.5,505.9z"/>
<path class="r" d="M367,294.4 379.4,294.6 383.9,291.4 371.5,291z"/>
<path class="b" d="M379.4,512 391.8,513.7 396.3,509.3 383.9,507.6z"/>
<path class="r" d="M379.4,294.6 391.8,295.3 396.3,292.2 383.9,291.4z"/>
<path class="b" d="M391.8,513.7 404.3,515.4 408.7,511 396.3,509.3z"/>
<path class="r" d="M391.8,295.3 404.3,296.5 408.7,293.4 396.3,292.2z"/>
<path class="b" d="M404.3,515.4 416.7,517 421.1,512.7 408.7,511z"/>
<path class="r" d="M404.3,296.5 416.7,297.7 421.1,294.6 408.7,293.4z"/>
<path class="b" d="M416.7,517 429.1,518.7 433.6,514.3 421.1,512.7z"/>
<path class="r" d="M416.7,297.7 429.1,299.1 433.6,296 421.1,294.6z"/>
<path class="b" d="M429.1,518.7 441.5,520.4 446,516 433.6,514.3z"/>
<path class="r" d="M429.1,299.1 441.5,300.7 446,297.6 433.6,296z"/>
<path class="b" d="M441.5,520.4 453.9,522.1 458.4,517.7 446,516z"/>
<path class="r" d="M441.5,300.7 453.9,302.3 458.4,299.2 446,297.6z"/>
<path class="b" d="M453.9,522.1 466.4,523.8 470.8,519.4 458.4,517.7z"/>
<path class="r" d="M453.9,302.3 466.4,303.9 470.8,300.7 458.4,299.2z"/>
<path class="b" d="M466.4,523.8 478.8,525.5 483.2,521.1 470.8,519.4z"/>
<path class="r" d="M466.4,303.9 478.8,305.6 483.2,302.3 470.8,300.7z"/>
<path class="b" d="M478.8,525.5 491.2,527.2 495.7,522.8 483.2,521.1z"/>
<path class="r" d="M478.8,305.6 491.2,307.3 495.7,304 483.2,302.3z"/>
<path class="b" d="M491.2,527.2 503.6,528.9 508.1,524.5 495.7,522.8z"/>
<path class="r" d="M491.2,307.3 503.6,309.2 508.1,305.8 495.7,304z"/>
<path class="b" d="M503.6,528.9 516,530.5 520.5,526.1 508.1,524.5z"/>
<path class="r" d="M503.6,309.2 516,311.4 520.5,307.9 508.1,305.8z"/>
<path class="b" d="M516,530.5 528.5,532.2 532.9,527.8 520.5,526.1z"/>
<path class="r" d="M516,311.4 528.5,313.8 532.9,310.2 520.5,307.9z"/>
<path class="b" d="M528.5,532.2 540.9,533.9 545.3,529.5 532.9,527.8z"/>
<path class="r" d="M528.5,313.8 540.9,316.3 545.3,312.7 532.9,310.2z"/>
<path class="b" d="M540.9,533.9 553.3,535.6 557.8,531.2 545.3,529.5z"/>
<path class="r" d="M540.9,316.3 553.3,319.8 557.8,316 545.3,312.7z"/>
<path class="b" d="M553.3,535.6 565.7,537.3 570.2,532.9 557.8,531.2z"/>
<path class="r" d="M553.3,319.8 565.7,324.4 570.2,320.2 557.8,316z"/>
<path class="b" d="M565.7,537.3 578.1,539 582.6,534.6 570.2,532.9z"/>
<path class="r" d="M565.7,324.4 578.1,329 582.6,324.4 570.2,320.2z"/>
<path class="b" d="M578.1,539 590.6,540.7 595,536.3 582.6,534.6z"/>
<path class="r" d="M578.1,329 590.6,332.5 595,327.7 582.6,324.4z"/>
<path class="b" d="M590.6,540.7 603,542.4 607.4,538 595,536.3z"/>
<path class="r" d="M590.6,332.5 603,335 607.4,330.2 595,327.7z"/>
<path class="b" d="M603,542.4 615.4,544 619.9,539.6 607.4,538z"/>
<path class="r" d="M603,335 615.4,337.3 619.9,332.6 607.4,330.2z"/>
<path class="b" d="M615.4,544 627.8,545.7 632.3,541.3 619.9,539.6z"/>
<path class="r" d="M615.4,337.3 627.8,339.4 632.3,334.7 619.9,332.6z"/>
<path class="b" d="M627.8,545.7 640.2,547.4 644.7,543 632.3,541.3z"/>
<path class="r" d="M627.8,339.4 640.2,341.2 644.7,336.5 632.3,334.7z"/>
<path class="b" d="M640.2,547.4 652.7,549.1 657.1,544.7 644.7,543z"/>
<path class="r" d="M640.2,341.2 652.7,342.9 657.1,338.1 644.7,336.5z"/>
<path class="b" d="M652.7,549.1 665.1,550.8 669.5,546.4 657.1,544.7z"/>
<path class="r" d="M652.7,342.9 665.1,344.5 669.5,339.6 657.1,338.1z"/>
<path class="b" d="M665.1,550.8 677.5,552.5 682,548.1 669.5,546.4z"/>
<path class="r" d="M665.1,344.5 677.5,346.1 682,341 669.5,339.6z"/>
<path class="b" d="M677.5,552.5 689.9,554.2 694.4,549.8 682,548.1z"/>
<path class="r" d="M677.5,346.1 689.9,347.7 694.4,342.4 682,341z"/>
<path class="b" d="M689.9,554.2 702.3,555.9 706.8,551.5 694.4,549.8z"/>
<path class="r" d="M689.9,347.7 702.3,349.4 706.8,343.8 694.4,342.4z"/>
<path class="b" d="M702.3,555.9 714.8,557.6 719.2,553.1 706.8,551.5z"/>
<path class="r" d="M702.3,349.4 714.8,351.1 719.2,345 706.8,343.8z"/>
<path class="b" d="M714.8,557.6 727.2,559.2 731.6,554.8 719.2,553.1z"/>
<path class="r" d="M714.8,351.1 727.2,352.8 731.6,346.1 719.2,345z"/>
<path class="b" d="M238.3,497.8 250.8,499.5 255.2,495.1 242.8,493.4z"/>
<path class="r" d="M238.3,293.1 250.8,293.6 255.2,289.4 242.8,288.7z"/>
<path class="b" d="M250.8,499.5 263.2,501.2 267.6,496.8 255.2,495.1z"/>
<path class="r" d="M250.8,293.6 263.2,294.3 267.6,290.2 255.2,289.4z"/>
<path class="b" d="M263.2,501.2 275.6,502.9 280.1,498.5 267.6,496.8z"/>
<path class="r" d="M263.2,294.3 275.6,295.3 280.1,291.3 267.6,290.2z"/>
<path class="b" d="M275.6,502.9 288,504.5 292.5,500.2 280.1,498.5z"/>
<path class="r" d="M275.6,295.3 288,296.3 292.5,292.4 280.1,291.3z"/>
<path class="b" d="M288,504.5 300.4,506.2 304.9,501.9 292.5,500.2z"/>
<path class="r" d="M288,296.3 300.4,297.2 304.9,293.4 292.5,292.4z"/>
<path class="b" d="M300.4,506.2 312.9,507.9 317.3,503.5 304.9,501.9z"/>
<path class="r" d="M300.4,297.2 312.9,297.7 317.3,294 304.9,293.4z"/>
<path class="b" d="M312.9,507.9 325.3,509.6 329.7,505.2 317.3,503.5z"/>
<path class="r" d="M312.9,297.7 325.3,298.1 329.7,294.2 317.3,294z"/>
<path class="b" d="M325.3,509.6 337.7,511.3 342.2,506.9 329.7,505.2z"/>
<path class="r" d="M325.3,298.1 337.7,298.3 342.2,294.4 329.7,294.2z"/>
<path class="b" d="M337.7,511.3 350.1,513 354.6,508.6 342.2,506.9z"/>
<path class="r" d="M337.7,298.3 350.1,298.3 354.6,294.5 342.2,294.4z"/>
<path class="b" d="M350.1,513 362.5,514.7 367,510.3 354.6,508.6z"/>
<path class="r" d="M350.1,298.3 362.5,298.1 367,294.4 354.6,294.5z"/>
<path class="b" d="M362.5,514.7 375,516.4 379.4,512 367,510.3z"/>
<path class="r" d="M362.5,298.1 375,298 379.4,294.6 367,294.4z"/>
<path class="b" d="M375,516.4 387.4,518.1 391.8,513.7 379.4,512z"/>
<path class="r" d="M375,298 387.4,298.7 391.8,295.3 379.4,294.6z"/>
<path class="b" d="M387.4,518.1 399.8,519.7 404.3,515.4 391.8,513.7z"/>
<path class="r" d="M387.4,298.7 399.8,299.8 404.3,296.5 391.8,295.3z"/>
<path class="b" d="M399.8,519.7 412.2,521.4 416.7,517 404.3,515.4z"/>
<path class="r" d="M399.8,299.8 412.2,301.1 416.7,297.7 404.3,296.5z"/>
<path class="b" d="M412.2,521.4 424.6,523.1 429.1,518.7 416.7,517z"/>
<path class="r" d="M412.2,301.1 424.6,302.4 429.1,299.1 416.7,297.7z"/>
<path class="b" d="M424.6,523.1 437.1,524.8 441.5,520.4 429.1,518.7z"/>
<path class="r" d="M424.6,302.4 437.1,304 441.5,300.7 429.1,299.1z"/>
<path class="b" d="M437.1,524.8 449.5,526.5 453.9,522.1 441.5,520.4z"/>
<path class="r" d="M437.1,304 449.5,305.6 453.9,302.3 441.5,300.7z"/>
<path class="b" d="M449.5,526.5 461.9,528.2 466.4,523.8 453.9,522.1z"/>
<path class="r" d="M449.5,305.6 461.9,307.3 466.4,303.9 453.9,302.3z"/>
<path class="b" d="M461.9,528.2 474.3,529.9 478.8,525.5 466.4,523.8z"/>
<path class="r" d="M461.9,307.3 474.3,309.1 478.8,305.6 466.4,303.9z"/>
<path class="b" d="M474.3,529.9 486.7,531.6 491.2,527.2 478.8,525.5z"/>
<path class="r" d="M474.3,309.1 486.7,311 491.2,307.3 478.8,305.6z"/>
<path class="b" d="M486.7,531.6 499.2,533.3 503.6,528.9 491.2,527.2z"/>
<path class="r" d="M486.7,311 499.2,313 503.6,309.2 491.2,307.3z"/>
<path class="b" d="M499.2,533.3 511.6,534.9 516,530.5 503.6,528.9z"/>
<path class="r" d="M499.2,313 511.6,315.2 516,311.4 503.6,309.2z"/>
<path class="b" d="M511.6,534.9 524,536.6 528.5,532.2 516,530.5z"/>
<path class="r" d="M511.6,315.2 524,317.7 528.5,313.8 516,311.4z"/>
<path class="b" d="M524,536.6 536.4,538.3 540.9,533.9 528.5,532.2z"/>
<path class="r" d="M524,317.7 536.4,320.3 540.9,316.3 528.5,313.8z"/>
<path class="b" d="M536.4,538.3 548.8,540 553.3,535.6 540.9,533.9z"/>
<path class="r" d="M536.4,320.3 548.8,324 553.3,319.8 540.9,316.3z"/>
<path class="b" d="M548.8,540 561.3,541.7 565.7,537.3 553.3,535.6z"/>
<path class="r" d="M548.8,324 561.3,328.8 565.7,324.4 553.3,319.8z"/>
<path class="b" d="M561.3,541.7 573.7,543.4 578.1,539 565.7,537.3z"/>
<path class="r" d="M561.3,328.8 573.7,333.5 578.1,329 565.7,324.4z"/>
<path class="b" d="M573.7,543.4 586.1,545.1 590.6,540.7 578.1,539z"/>
<path class="r" d="M573.7,333.5 586.1,337.1 590.6,332.5 578.1,329z"/>
<path class="b" d="M586.1,545.1 598.5,546.8 603,542.4 590.6,540.7z"/>
<path class="r" d="M586.1,337.1 598.5,339.5 603,335 590.6,332.5z"/>
<path class="b" d="M598.5,546.8 610.9,548.5 615.4,544 603,542.4z"/>
<path class="r" d="M598.5,339.5 610.9,341.8 615.4,337.3 603,335z"/>
<path class="b" d="M610.9,548.5 623.4,550.1 627.8,545.7 615.4,544z"/>
<path class="r" d="M610.9,341.8 623.4,343.9 627.8,339.4 615.4,337.3z"/>
<path class="b" d="M623.4,550.1 635.8,551.8 640.2,547.4 627.8,545.7z"/>
<path class="r" d="M623.4,343.9 635.8,345.8 640.2,341.2 627.8,339.4z"/>
<path class="b" d="M635.8,551.8 648.2,553.5 652.7,549.1 640.2,547.4z"/>
<path class="r" d="M635.8,345.8 648.2,347.6 652.7,342.9 640.2,341.2z"/>
<path class="b" d="M648.2,553.5 660.6,555.2 665.1,550.8 652.7,549.1z"/>
<path class="r" d="M648.2,347.6 660.6,349.3 665.1,344.5 652.7,342.9z"/>
<path class="b" d="M660.6,555.2 673,556.9 677.5,552.5 665.1,550.8z"/>
<path class="r" d="M660.6,349.3 673,351 677.5,346.1 665.1,344.5z"/>
<path class="b" d="M673,556.9 685.5,558.6 689.9,554.2 677.5,552.5z"/>
<path class="r" d="M673,351 685.5,352.7 689.9,347.7 677.5,346.1z"/>
<path class="b" d="M685.5,558.6 697.9,560.3 702.3,555.9 689.9,554.2z"/>
<path class="r" d="M685.5,352.7 697.9,354.3 702.3,349.4 689.9,347.7z"/>
<path class="b" d="M697.9,560.3 710.3,562 714.8,557.6 702.3,555.9z"/>
<path class="r" d="M697.9,354.3 710.3,355.7 714.8,351.1 702.3,349.4z"/>
<path class="b" d="M710.3,562 722.7,563.7 727.2,559.2 714.8,557.6z"/>
<path class="r" d="M710.3,355.7 722.7,357.2 727.2,352.8 714.8,351.1z"/>
<path class="b" d="M233.9,502.2 246.3,503.8 250.8,499.5 238.3,497.8z"/>
<path class="r" d="M233.9,297.5 246.3,297.9 250.8,293.6 238.3,293.1z"/>
<path class="b" d="M246.3,503.8 258.7,505.5 263.2,501.2 250.8,499.5z"/>
<path class="r" d="M246.3,297.9 258.7,298.4 263.2,294.3 250.8,293.6z"/>
<path class="b" d="M258.7,505.5 271.1,507.2 275.6,502.9 263.2,501.2z"/>
<path class="r" d="M258.7,298.4 271.1,299.2 275.6,295.3 263.2,294.3z"/>
<path class="b" d="M271.1,507.2 283.6,508.9 288,504.5 275.6,502.9z"/>
<path class="r" d="M271.1,299.2 283.6,300.1 288,296.3 275.6,295.3z"/>
<path class="b" d="M283.6,508.9 296,510.6 300.4,506.2 288,504.5z"/>
<path class="r" d="M283.6,300.1 296,301 300.4,297.2 288,296.3z"/>
<path class="b" d="M296,510.6 308.4,512.3 312.9,507.9 300.4,506.2z"/>
<path class="r" d="M296,301 308.4,301.6 312.9,297.7 300.4,297.2z"/>
<path class="b" d="M308.4,512.3 320.8,514 325.3,509.6 312.9,507.9z"/>
<path class="r" d="M308.4,301.6 320.8,302 325.3,298.1 312.9,297.7z"/>
<path class="b" d="M320.8,514 333.2,515.7 337.7,511.3 325.3,509.6z"/>
<path class="r" d="M320.8,302 333.2,302.3 337.7,298.3 325.3,298.1z"/>
<path class="b" d="M333.2,515.7 345.6,517.4 350.1,513 337.7,511.3z"/>
<path class="r" d="M333.2,302.3 345.6,302.3 350.1,298.3 337.7,298.3z"/>
<path class="b" d="M345.6,517.4 358.1,519.1 362.5,514.7 350.1,513z"/>
<path class="r" d="M345.6,302.3 358.1,301.9 362.5,298.1 350.1,298.3z"/>
<path class="b" d="M358.1,519.1 370.5,520.7 375,516.4 362.5,514.7z"/>
<path class="r" d="M358.1,301.9 370.5,301.7 375,298 362.5,298.1z"/>
<path class="b" d="M370.5,520.7 382.9,522.4 387.4,518.1 375,516.4z"/>
<path class="r" d="M370.5,301.7 382.9,302.3 387.4,298.7 375,298z"/>
<path class="b" d="M382.9,522.4 395.3,524.1 399.8,519.7 387.4,518.1z"/>
<path class="r" d="M382.9,302.3 395.3,303.4 399.8,299.8 387.4,298.7z"/>
<path class="b" d="M395.3,524.1 407.8,525.8 412.2,521.4 399.8,519.7z"/>
<path class="r" d="M395.3,303.4 407.8,304.7 412.2,301.1 399.8,299.8z"/>
<path class="b" d="M407.8,525.8 420.2,527.5 424.6,523.1 412.2,521.4z"/>
<path class="r" d="M407.8,304.7 420.2,306 424.6,302.4 412.2,301.1z"/>
<path class="b" d="M420.2,527.5 432.6,529.2 437.1,524.8 424.6,523.1z"/>
<path class="r" d="M420.2,306 432.6,307.6 437.1,304 424.6,302.4z"/>
<path class="b" d="M432.6,529.2 445,530.9 449.5,526.5 437.1,524.8z"/>
<path class="r" d="M432.6,307.6 445,309.3 449.5,305.6 437.1,304z"/>
<path class="b" d="M445,530.9 457.4,532.6 461.9,528.2 449.5,526.5z"/>
<path class="r" d="M445,309.3 457.4,311.1 461.9,307.3 449.5,305.6z"/>
<path class="b" d="M457.4,532.6 469.9,534.3 474.3,529.9 461.9,528.2z"/>
<path class="r" d="M457.4,311.1 469.9,313 474.3,309.1 461.9,307.3z"/>
<path class="b" d="M469.9,534.3 482.3,536 486.7,531.6 474.3,529.9z"/>
<path class="r" d="M469.9,313 482.3,315 486.7,311 474.3,309.1z"/>
<path class="b" d="M482.3,536 494.7,537.6 499.2,533.3 486.7,531.6z"/>
<path class="r" d="M482.3,315 494.7,317.1 499.2,313 486.7,311z"/>
<path class="b" d="M494.7,537.6 507.1,539.3 511.6,534.9 499.2,533.3z"/>
<path class="r" d="M494.7,317.1 507.1,319.4 511.6,315.2 499.2,313z"/>
<path class="b" d="M507.1,539.3 519.5,541 524,536.6 511.6,534.9z"/>
<path class="r" d="M507.1,319.4 519.5,321.9 524,317.7 511.6,315.2z"/>
<path class="b" d="M519.5,541 532,542.7 536.4,538.3 524,536.6z"/>
<path class="r" d="M519.5,321.9 532,324.7 536.4,320.3 524,317.7z"/>
<path class="b" d="M532,542.7 544.4,544.4 548.8,540 536.4,538.3z"/>
<path class="r" d="M532,324.7 544.4,328.4 548.8,324 536.4,320.3z"/>
<path class="b" d="M544.4,544.4 556.8,546.1 561.3,541.7 548.8,540z"/>
<path class="r" d="M544.4,328.4 556.8,333.2 561.3,328.8 548.8,324z"/>
<path class="b" d="M556.8,546.1 569.2,547.8 573.7,543.4 561.3,541.7z"/>
<path class="r" d="M556.8,333.2 569.2,338 573.7,333.5 561.3,328.8z"/>
<path class="b" d="M569.2,547.8 581.6,549.5 586.1,545.1 573.7,543.4z"/>
<path class="r" d="M569.2,338 581.6,341.5 586.1,337.1 573.7,333.5z"/>
<path class="b" d="M581.6,549.5 594.1,551.2 598.5,546.8 586.1,545.1z"/>
<path class="r" d="M581.6,341.5 594.1,344 598.5,339.5 586.1,337.1z"/>
<path class="b" d="M594.1,551.2 606.5,552.9 610.9,548.5 598.5,546.8z"/>
<path class="r" d="M594.1,344 606.5,346.2 610.9,341.8 598.5,339.5z"/>
<path class="b" d="M606.5,552.9 618.9,554.5 623.4,550.1 610.9,548.5z"/>
<path class="r" d="M606.5,346.2 618.9,348.3 623.4,343.9 610.9,341.8z"/>
<path class="b" d="M618.9,554.5 631.3,556.2 635.8,551.8 623.4,550.1z"/>
<path class="r" d="M618.9,348.3 631.3,350.3 635.8,345.8 623.4,343.9z"/>
<path class="b" d="M631.3,556.2 643.7,557.9 648.2,553.5 635.8,551.8z"/>
<path class="r" d="M631.3,350.3 643.7,352.1 648.2,347.6 635.8,345.8z"/>
<path class="b" d="M643.7,557.9 656.1,559.6 660.6,555.2 648.2,553.5z"/>
<path class="r" d="M643.7,352.1 656.1,353.9 660.6,349.3 648.2,347.6z"/>
<path class="b" d="M656.1,559.6 668.6,561.3 673,556.9 660.6,555.2z"/>
<path class="r" d="M656.1,353.9 668.6,355.6 673,351 660.6,349.3z"/>
<path class="b" d="M668.6,561.3 681,563 685.5,558.6 673,556.9z"/>
<path class="r" d="M668.6,355.6 681,357.3 685.5,352.7 673,351z"/>
<path class="b" d="M681,563 693.4,564.7 697.9,560.3 685.5,558.6z"/>
<path class="r" d="M681,357.3 693.4,358.8 697.9,354.3 685.5,352.7z"/>
<path class="b" d="M693.4,564.7 705.8,566.4 710.3,562 697.9,560.3z"/>
<path class="r" d="M693.4,358.8 705.8,360.2 710.3,355.7 697.9,354.3z"/>
<path class="b" d="M705.8,566.4 718.2,568.1 722.7,563.7 710.3,562z"/>
<path class="r" d="M705.8,360.2 718.2,361.5 722.7,357.2 710.3,355.7z"/>
<path class="b" d="M229.4,506.5 241.8,508.2 246.3,503.8 233.9,502.2z"/>
<path class="r" d="M229.4,301.7 241.8,302 246.3,297.9 233.9,297.5z"/>
<path class="b" d="M241.8,508.2 254.2,509.9 258.7,505.5 246.3,503.8z"/>
<path class="r" d="M241.8,302 254.2,302.4 258.7,298.4 246.3,297.9z"/>
<path class="b" d="M254.2,509.9 266.7,511.6 271.1,507.2 258.7,505.5z"/>
<path class="r" d="M254.2,302.4 266.7,303.2 271.1,299.2 258.7,298.4z"/>
<path class="b" d="M266.7,511.6 279.1,513.3 283.6,508.9 271.1,507.2z"/>
<path class="r" d="M266.7,303.2 279.1,304.1 283.6,300.1 271.1,299.2z"/>
<path class="b" d="M279.1,513.3 291.5,515 296,510.6 283.6,508.9z"/>
<path class="r" d="M279.1,304.1 291.5,304.9 296,301 283.6,300.1z"/>
<path class="b" d="M291.5,515 303.9,516.7 308.4,512.3 296,510.6z"/>
<path class="r" d="M291.5,304.9 303.9,305.5 308.4,301.6 296,301z"/>
<path class="b" d="M303.9,516.7 316.3,518.4 320.8,514 308.4,512.3z"/>
<path class="r" d="M303.9,305.5 316.3,306 320.8,302 308.4,301.6z"/>
<path class="b" d="M316.3,518.4 328.8,520.1 333.2,515.7 320.8,514z"/>
<path class="r" d="M316.3,306 328.8,306.4 333.2,302.3 320.8,302z"/>
<path class="b" d="M328.8,520.1 341.2,521.7 345.6,517.4 333.2,515.7z"/>
<path class="r" d="M328.8,306.4 341.2,306.4 345.6,302.3 333.2,302.3z"/>
<path class="b" d="M341.2,521.7 353.6,523.4 358.1,519.1 345.6,517.4z"/>
<path class="r" d="M341.2,306.4 353.6,305.9 358.1,301.9 345.6,302.3z"/>
<path class="b" d="M353.6,523.4 366,525.1 370.5,520.7 358.1,519.1z"/>
<path class="r" d="M353.6,305.9 366,305.7 370.5,301.7 358.1,301.9z"/>
<path class="b" d="M366,525.1 378.4,526.8 382.9,522.4 370.5,520.7z"/>
<path class="r" d="M366,305.7 378.4,306.2 382.9,302.3 370.5,301.7z"/>
<path class="b" d="M378.4,526.8 390.9,528.5 395.3,524.1 382.9,522.4z"/>
<path class="r" d="M378.4,306.2 390.9,307.4 395.3,303.4 382.9,302.3z"/>
<path class="b" d="M390.9,528.5 403.3,530.2 407.8,525.8 395.3,524.1z"/>
<path class="r" d="M390.9,307.4 403.3,308.7 407.8,304.7 395.3,303.4z"/>
<path class="b" d="M403.3,530.2 415.7,531.9 420.2,527.5 407.8,525.8z"/>
<path class="r" d="M403.3,308.7 415.7,310 420.2,306 407.8,304.7z"/>
<path class="b" d="M415.7,531.9 428.1,533.6 432.6,529.2 420.2,527.5z"/>
<path class="r" d="M415.7,310 428.1,311.5 432.6,307.6 420.2,306z"/>
<path class="b" d="M428.1,533.6 440.5,535.3 445,530.9 432.6,529.2z"/>
<path class="r" d="M428.1,311.5 440.5,313.3 445,309.3 432.6,307.6z"/>
<path class="b" d="M440.5,535.3 453,537 457.4,532.6 445,530.9z"/>
<path class="r" d="M440.5,313.3 453,315.1 457.4,311.1 445,309.3z"/>
<path class="b" d="M453,537 465.4,538.7 469.9,534.3 457.4,532.6z"/>
<path class="r" d="M453,315.1 465.4,317.1 469.9,313 457.4,311.1z"/>
<path class="b" d="M465.4,538.7 477.8,540.4 482.3,536 469.9,534.3z"/>
<path class="r" d="M465.4,317.1 477.8,319.2 482.3,315 469.9,313z"/>
<path class="b" d="M477.8,540.4 490.2,542 494.7,537.6 482.3,536z"/>
<path class="r" d="M477.8,319.2 490.2,321.3 494.7,317.1 482.3,315z"/>
<path class="b" d="M490.2,542 502.6,543.7 507.1,539.3 494.7,537.6z"/>
<path class="r" d="M490.2,321.3 502.6,323.7 507.1,319.4 494.7,317.1z"/>
<path class="b" d="M502.6,543.7 515.1,545.4 519.5,541 507.1,539.3z"/>
<path class="r" d="M502.6,323.7 515.1,326.3 519.5,321.9 507.1,319.4z"/>
<path class="b" d="M515.1,545.4 527.5,547.1 532,542.7 519.5,541z"/>
<path class="r" d="M515.1,326.3 527.5,329.1 532,324.7 519.5,321.9z"/>
<path class="b" d="M527.5,547.1 539.9,548.8 544.4,544.4 532,542.7z"/>
<path class="r" d="M527.5,329.1 539.9,332.8 544.4,328.4 532,324.7z"/>
<path class="b" d="M539.9,548.8 552.3,550.5 556.8,546.1 544.4,544.4z"/>
<path class="r" d="M539.9,332.8 552.3,337.6 556.8,333.2 544.4,328.4z"/>
<path class="b" d="M552.3,550.5 564.7,552.2 569.2,547.8 556.8,546.1z"/>
<path class="r" d="M552.3,337.6 564.7,342.4 569.2,338 556.8,333.2z"/>
<path class="b" d="M564.7,552.2 577.2,553.9 581.6,549.5 569.2,547.8z"/>
<path class="r" d="M564.7,342.4 577.2,345.9 581.6,341.5 569.2,338z"/>
<path class="b" d="M577.2,553.9 589.6,555.6 594.1,551.2 581.6,549.5z"/>
<path class="r" d="M577.2,345.9 589.6,348.3 594.1,344 581.6,341.5z"/>
<path class="b" d="M589.6,555.6 602,557.3 606.5,552.9 594.1,551.2z"/>
<path class="r" d="M589.6,348.3 602,350.6 606.5,346.2 594.1,344z"/>
<path class="b" d="M602,557.3 614.4,559 618.9,554.5 606.5,552.9z"/>
<path class="r" d="M602,350.6 614.4,352.7 618.9,348.3 606.5,346.2z"/>
<path class="b" d="M614.4,559 626.8,560.6 631.3,556.2 618.9,554.5z"/>
<path class="r" d="M614.4,352.7 626.8,354.6 631.3,350.3 618.9,348.3z"/>
<path class="b" d="M626.8,560.6 639.3,562.3 643.7,557.9 631.3,556.2z"/>
<path class="r" d="M626.8,354.6 639.3,356.5 643.7,352.1 631.3,350.3z"/>
<path class="b" d="M639.3,562.3 651.7,564 656.1,559.6 643.7,557.9z"/>
<path class="r" d="M639.3,356.5 651.7,358.3 656.1,353.9 643.7,352.1z"/>
<path class="b" d="M651.7,564 664.1,565.7 668.6,561.3 656.1,559.6z"/>
<path class="r" d="M651.7,358.3 664.1,360 668.6,355.6 656.1,353.9z"/>
<path class="b" d="M664.1,565.7 676.5,567.4 681,563 668.6,561.3z"/>
<path class="r" d="M664.1,360 676.5,361.7 681,357.3 668.6,355.6z"/>
<path class="b" d="M676.5,567.4 688.9,569.1 693.4,564.7 681,563z"/>
<path class="r" d="M676.5,361.7 688.9,363.2 693.4,358.8 681,357.3z"/>
<path class="b" d="M688.9,569.1 701.4,570.8 705.8,566.4 693.4,564.7z"/>
<path class="r" d="M688.9,363.2 701.4,364.6 705.8,360.2 693.4,358.8z"/>
<path class="b" d="M701.4,570.8 713.8,572.5 718.2,568.1 705.8,566.4z"/>
<path class="r" d="M701.4,364.6 713.8,365.9 718.2,361.5 705.8,360.2z"/>
<path class="b" d="M224.9,510.9 237.4,512.6 241.8,508.2 229.4,506.5z"/>
<path class="r" d="M224.9,305.6 237.4,305.9 241.8,302 229.4,301.7z"/>
<path class="b" d="M237.4,512.6 249.8,514.3 254.2,509.9 241.8,508.2z"/>
<path class="r" d="M237.4,305.9 249.8,306.3 254.2,302.4 241.8,302z"/>
<path class="b" d="M249.8,514.3 262.2,516 266.7,511.6 254.2,509.9z"/>
<path class="r" d="M249.8,306.3 262.2,307.1 266.7,303.2 254.2,302.4z"/>
<path class="b" d="M262.2,516 274.6,517.7 279.1,513.3 266.7,511.6z"/>
<path class="r" d="M262.2,307.1 274.6,308 279.1,304.1 266.7,303.2z"/>
<path class="b" d="M274.6,517.7 287,519.4 291.5,515 279.1,513.3z"/>
<path class="r" d="M274.6,308 287,308.8 291.5,304.9 279.1,304.1z"/>
<path class="b" d="M287,519.4 299.5,521.1 303.9,516.7 291.5,515z"/>
<path class="r" d="M287,308.8 299.5,309.5 303.9,305.5 291.5,304.9z"/>
<path class="b" d="M299.5,521.1 311.9,522.7 316.3,518.4 303.9,516.7z"/>
<path class="r" d="M299.5,309.5 311.9,310.1 316.3,306 303.9,305.5z"/>
<path class="b" d="M311.9,522.7 324.3,524.4 328.8,520.1 316.3,518.4z"/>
<path class="r" d="M311.9,310.1 324.3,310.6 328.8,306.4 316.3,306z"/>
<path class="b" d="M324.3,524.4 336.7,526.1 341.2,521.7 328.8,520.1z"/>
<path class="r" d="M324.3,310.6 336.7,310.6 341.2,306.4 328.8,306.4z"/>
<path class="b" d="M336.7,526.1 349.1,527.8 353.6,523.4 341.2,521.7z"/>
<path class="r" d="M336.7,310.6 349.1,310.2 353.6,305.9 341.2,306.4z"/>
<path class="b" d="M349.1,527.8 361.6,529.5 366,525.1 353.6,523.4z"/>
<path class="r" d="M349.1,310.2 361.6,310 366,305.7 353.6,305.9z"/>
<path class="b" d="M361.6,529.5 374,531.2 378.4,526.8 366,525.1z"/>
<path class="r" d="M361.6,310 374,310.6 378.4,306.2 366,305.7z"/>
<path class="b" d="M374,531.2 386.4,532.9 390.9,528.5 378.4,526.8z"/>
<path class="r" d="M374,310.6 386.4,311.9 390.9,307.4 378.4,306.2z"/>
<path class="b" d="M386.4,532.9 398.8,534.6 403.3,530.2 390.9,528.5z"/>
<path class="r" d="M386.4,311.9 398.8,313.2 403.3,308.7 390.9,307.4z"/>
<path class="b" d="M398.8,534.6 411.2,536.3 415.7,531.9 403.3,530.2z"/>
<path class="r" d="M398.8,313.2 411.2,314.6 415.7,310 403.3,308.7z"/>
<path class="b" d="M411.2,536.3 423.7,538 428.1,533.6 415.7,531.9z"/>
<path class="r" d="M411.2,314.6 423.7,316.1 428.1,311.5 415.7,310z"/>
<path class="b" d="M423.7,538 436.1,539.7 440.5,535.3 428.1,533.6z"/>
<path class="r" d="M423.7,316.1 436.1,317.8 440.5,313.3 428.1,311.5z"/>
<path class="b" d="M436.1,539.7 448.5,541.4 453,537 440.5,535.3z"/>
<path class="r" d="M436.1,317.8 448.5,319.7 453,315.1 440.5,313.3z"/>
<path class="b" d="M448.5,541.4 460.9,543.1 465.4,538.7 453,537z"/>
<path class="r" d="M448.5,319.7 460.9,321.7 465.4,317.1 453,315.1z"/>
<path class="b" d="M460.9,543.1 473.3,544.7 477.8,540.4 465.4,538.7z"/>
<path class="r" d="M460.9,321.7 473.3,323.7 477.8,319.2 465.4,317.1z"/>
<path class="b" d="M473.3,544.7 485.8,546.4 490.2,542 477.8,540.4z"/>
<path class="r" d="M473.3,323.7 485.8,325.9 490.2,321.3 477.8,319.2z"/>
<path class="b" d="M485.8,546.4 498.2,548.1 502.6,543.7 490.2,542z"/>
<path class="r" d="M485.8,325.9 498.2,328.3 502.6,323.7 490.2,321.3z"/>
<path class="b" d="M498.2,548.1 510.6,549.8 515.1,545.4 502.6,543.7z"/>
<path class="r" d="M498.2,328.3 510.6,331 515.1,326.3 502.6,323.7z"/>
<path class="b" d="M510.6,549.8 523,551.5 527.5,547.1 515.1,545.4z"/>
<path class="r" d="M510.6,331 523,333.8 527.5,329.1 515.1,326.3z"/>
<path class="b" d="M523,551.5 535.4,553.2 539.9,548.8 527.5,547.1z"/>
<path class="r" d="M523,333.8 535.4,337.6 539.9,332.8 527.5,329.1z"/>
<path class="b" d="M535.4,553.2 547.9,554.9 552.3,550.5 539.9,548.8z"/>
<path class="r" d="M535.4,337.6 547.9,342.2 552.3,337.6 539.9,332.8z"/>
<path class="b" d="M547.9,554.9 560.3,556.6 564.7,552.2 552.3,550.5z"/>
<path class="r" d="M547.9,342.2 560.3,346.8 564.7,342.4 552.3,337.6z"/>
<path class="b" d="M560.3,556.6 572.7,558.3 577.2,553.9 564.7,552.2z"/>
<path class="r" d="M560.3,346.8 572.7,350.2 577.2,345.9 564.7,342.4z"/>
<path class="b" d="M572.7,558.3 585.1,560 589.6,555.6 577.2,553.9z"/>
<path class="r" d="M572.7,350.2 585.1,352.7 589.6,348.3 577.2,345.9z"/>
<path class="b" d="M585.1,560 597.5,561.7 602,557.3 589.6,555.6z"/>
<path class="r" d="M585.1,352.7 597.5,355 602,350.6 589.6,348.3z"/>
<path class="b" d="M597.5,561.7 610,563.4 614.4,559 602,557.3z"/>
<path class="r" d="M597.5,355 610,357.1 614.4,352.7 602,350.6z"/>
<path class="b" d="M610,563.4 622.4,565.1 626.8,560.6 614.4,559z"/>
<path class="r" d="M610,357.1 622.4,359 626.8,354.6 614.4,352.7z"/>
<path class="b" d="M622.4,565.1 634.8,566.7 639.3,562.3 626.8,560.6z"/>
<path class="r" d="M622.4,359 634.8,360.8 639.3,356.5 626.8,354.6z"/>
<path class="b" d="M634.8,566.7 647.2,568.4 651.7,564 639.3,562.3z"/>
<path class="r" d="M634.8,360.8 647.2,362.6 651.7,358.3 639.3,356.5z"/>
<path class="b" d="M647.2,568.4 659.6,570.1 664.1,565.7 651.7,564z"/>
<path class="r" d="M647.2,362.6 659.6,364.4 664.1,360 651.7,358.3z"/>
<path class="b" d="M659.6,570.1 672.1,571.8 676.5,567.4 664.1,565.7z"/>
<path class="r" d="M659.6,364.4 672.1,366 676.5,361.7 664.1,360z"/>
<path class="b" d="M672.1,571.8 684.5,573.5 688.9,569.1 676.5,567.4z"/>
<path class="r" d="M672.1,366 684.5,367.6 688.9,363.2 676.5,361.7z"/>
<path class="b" d="M684.5,573.5 696.9,575.2 701.4,570.8 688.9,569.1z"/>
<path class="r" d="M684.5,367.6 696.9,369 701.4,364.6 688.9,363.2z"/>
<path class="b" d="M696.9,575.2 709.3,576.9 713.8,572.5 701.4,570.8z"/>
<path class="r" d="M696.9,369 709.3,370.3 713.8,365.9 701.4,364.6z"/>
<path class="b" d="M220.5,515.3 232.9,517 237.4,512.6 224.9,510.9z"/>
<path class="r" d="M220.5,309.2 232.9,309.5 237.4,305.9 224.9,305.6z"/>
<path class="b" d="M232.9,517 245.3,518.7 249.8,514.3 237.4,512.6z"/>
<path class="r" d="M232.9,309.5 245.3,310.1 249.8,306.3 237.4,305.9z"/>
<path class="b" d="M245.3,518.7 257.7,520.4 262.2,516 249.8,514.3z"/>
<path class="r" d="M245.3,310.1 257.7,310.8 262.2,307.1 249.8,306.3z"/>
<path class="b" d="M257.7,520.4 270.2,522 274.6,517.7 262.2,516z"/>
<path class="r" d="M257.7,310.8 270.2,311.7 274.6,308 262.2,307.1z"/>
<path class="b" d="M270.2,522 282.6,523.7 287,519.4 274.6,517.7z"/>
<path class="r" d="M270.2,311.7 282.6,312.6 287,308.8 274.6,308z"/>
<path class="b" d="M282.6,523.7 295,525.4 299.5,521.1 287,519.4z"/>
<path class="r" d="M282.6,312.6 295,313.4 299.5,309.5 287,308.8z"/>
<path class="b" d="M295,525.4 307.4,527.1 311.9,522.7 299.5,521.1z"/>
<path class="r" d="M295,313.4 307.4,314.1 311.9,310.1 299.5,309.5z"/>
<path class="b" d="M307.4,527.1 319.8,528.8 324.3,524.4 311.9,522.7z"/>
<path class="r" d="M307.4,314.1 319.8,314.7 324.3,310.6 311.9,310.1z"/>
<path class="b" d="M319.8,528.8 332.3,530.5 336.7,526.1 324.3,524.4z"/>
<path class="r" d="M319.8,314.7 332.3,314.8 336.7,310.6 324.3,310.6z"/>
<path class="b" d="M332.3,530.5 344.7,532.2 349.1,527.8 336.7,526.1z"/>
<path class="r" d="M332.3,314.8 344.7,314.4 349.1,310.2 336.7,310.6z"/>
<path class="b" d="M344.7,532.2 357.1,533.9 361.6,529.5 349.1,527.8z"/>
<path class="r" d="M344.7,314.4 357.1,314.3 361.6,310 349.1,310.2z"/>
<path class="b" d="M357.1,533.9 369.5,535.6 374,531.2 361.6,529.5z"/>
<path class="r" d="M357.1,314.3 369.5,315 374,310.6 361.6,310z"/>
<path class="b" d="M369.5,535.6 381.9,537.3 386.4,532.9 374,531.2z"/>
<path class="r" d="M369.5,315 381.9,316.4 386.4,311.9 374,310.6z"/>
<path class="b" d="M381.9,537.3 394.4,539 398.8,534.6 386.4,532.9z"/>
<path class="r" d="M381.9,316.4 394.4,317.9 398.8,313.2 386.4,311.9z"/>
<path class="b" d="M394.4,539 406.8,540.7 411.2,536.3 398.8,534.6z"/>
<path class="r" d="M394.4,317.9 406.8,319.4 411.2,314.6 398.8,313.2z"/>
<path class="b" d="M406.8,540.7 419.2,542.4 423.7,538 411.2,536.3z"/>
<path class="r" d="M406.8,319.4 419.2,320.9 423.7,316.1 411.2,314.6z"/>
<path class="b" d="M419.2,542.4 431.6,544.1 436.1,539.7 423.7,538z"/>
<path class="r" d="M419.2,320.9 431.6,322.7 436.1,317.8 423.7,316.1z"/>
<path class="b" d="M431.6,544.1 444,545.8 448.5,541.4 436.1,539.7z"/>
<path class="r" d="M431.6,322.7 444,324.5 448.5,319.7 436.1,317.8z"/>
<path class="b" d="M444,545.8 456.5,547.4 460.9,543.1 448.5,541.4z"/>
<path class="r" d="M444,324.5 456.5,326.5 460.9,321.7 448.5,319.7z"/>
<path class="b" d="M456.5,547.4 468.9,549.1 473.3,544.7 460.9,543.1z"/>
<path class="r" d="M456.5,326.5 468.9,328.5 473.3,323.7 460.9,321.7z"/>
<path class="b" d="M468.9,549.1 481.3,550.8 485.8,546.4 473.3,544.7z"/>
<path class="r" d="M468.9,328.5 481.3,330.8 485.8,325.9 473.3,323.7z"/>
<path class="b" d="M481.3,550.8 493.7,552.5 498.2,548.1 485.8,546.4z"/>
<path class="r" d="M481.3,330.8 493.7,333.4 498.2,328.3 485.8,325.9z"/>
<path class="b" d="M493.7,552.5 506.1,554.2 510.6,549.8 498.2,548.1z"/>
<path class="r" d="M493.7,333.4 506.1,336.2 510.6,331 498.2,328.3z"/>
<path class="b" d="M506.1,554.2 518.6,555.9 523,551.5 510.6,549.8z"/>
<path class="r" d="M506.1,336.2 518.6,339.1 523,333.8 510.6,331z"/>
<path class="b" d="M518.6,555.9 531,557.6 535.4,553.2 523,551.5z"/>
<path class="r" d="M518.6,339.1 531,342.8 535.4,337.6 523,333.8z"/>
<path class="b" d="M531,557.6 543.4,559.3 547.9,554.9 535.4,553.2z"/>
<path class="r" d="M531,342.8 543.4,347.1 547.9,342.2 535.4,337.6z"/>
<path class="b" d="M543.4,559.3 555.8,561 560.3,556.6 547.9,554.9z"/>
<path class="r" d="M543.4,347.1 555.8,351.3 560.3,346.8 547.9,342.2z"/>
<path class="b" d="M555.8,561 568.2,562.7 572.7,558.3 560.3,556.6z"/>
<path class="r" d="M555.8,351.3 568.2,354.6 572.7,350.2 560.3,346.8z"/>
<path class="b" d="M568.2,562.7 580.7,564.4 585.1,560 572.7,558.3z"/>
<path class="r" d="M568.2,354.6 580.7,357.1 585.1,352.7 572.7,350.2z"/>
<path class="b" d="M580.7,564.4 593.1,566.1 597.5,561.7 585.1,560z"/>
<path class="r" d="M580.7,357.1 593.1,359.3 597.5,355 585.1,352.7z"/>
<path class="b" d="M593.1,566.1 605.5,567.8 610,563.4 597.5,561.7z"/>
<path class="r" d="M593.1,359.3 605.5,361.4 610,357.1 597.5,355z"/>
<path class="b" d="M605.5,567.8 617.9,569.5 622.4,565.1 610,563.4z"/>
<path class="r" d="M605.5,361.4 617.9,363.4 622.4,359 610,357.1z"/>
<path class="b" d="M617.9,569.5 630.3,571.2 634.8,566.7 622.4,565.1z"/>
<path class="r" d="M617.9,363.4 630.3,365.2 634.8,360.8 622.4,359z"/>
<path class="b" d="M630.3,571.2 642.8,572.8 647.2,568.4 634.8,566.7z"/>
<path class="r" d="M630.3,365.2 642.8,367 647.2,362.6 634.8,360.8z"/>
<path class="b" d="M642.8,572.8 655.2,574.5 659.6,570.1 647.2,568.4z"/>
<path class="r" d="M642.8,367 655.2,368.7 659.6,364.4 647.2,362.6z"/>
<path class="b" d="M655.2,574.5 667.6,576.2 672.1,571.8 659.6,570.1z"/>
<path class="r" d="M655.2,368.7 667.6,370.4 672.1,366 659.6,364.4z"/>
<path class="b" d="M667.6,576.2 680,577.9 684.5,573.5 672.1,571.8z"/>
<path class="r" d="M667.6,370.4 680,371.9 684.5,367.6 672.1,366z"/>
<path class="b" d="M680,577.9 692.4,579.6 696.9,575.2 684.5,573.5z"/>
<path class="r" d="M680,371.9 692.4,373.3 696.9,369 684.5,367.6z"/>
<path class="b" d="M692.4,579.6 704.9,581.3 709.3,576.9 696.9,575.2z"/>
<path class="r" d="M692.4,373.3 704.9,374.7 709.3,370.3 696.9,369z"/>
<path class="b" d="M216,519.6 228.4,521.3 232.9,517 220.5,515.3z"/>
<path class="r" d="M216,312.7 228.4,313.1 232.9,309.5 220.5,309.2z"/>
<path class="b" d="M228.4,521.3 240.8,523 245.3,518.7 232.9,517z"/>
<path class="r" d="M228.4,313.1 240.8,313.6 245.3,310.1 232.9,309.5z"/>
<path class="b" d="M240.8,523 253.3,524.7 257.7,520.4 245.3,518.7z"/>
<path class="r" d="M240.8,313.6 253.3,314.4 257.7,310.8 245.3,310.1z"/>
<path class="b" d="M253.3,524.7 265.7,526.4 270.2,522 257.7,520.4z"/>
<path class="r" d="M253.3,314.4 265.7,315.3 270.2,311.7 257.7,310.8z"/>
<path class="b" d="M265.7,526.4 278.1,528.1 282.6,523.7 270.2,522z"/>
<path class="r" d="M265.7,315.3 278.1,316.1 282.6,312.6 270.2,311.7z"/>
<path class="b" d="M278.1,528.1 290.5,529.8 295,525.4 282.6,523.7z"/>
<path class="r" d="M278.1,316.1 290.5,317 295,313.4 282.6,312.6z"/>
<path class="b" d="M290.5,529.8 302.9,531.5 307.4,527.1 295,525.4z"/>
<path class="r" d="M290.5,317 302.9,317.9 307.4,314.1 295,313.4z"/>
<path class="b" d="M302.9,531.5 315.4,533.2 319.8,528.8 307.4,527.1z"/>
<path class="r" d="M302.9,317.9 315.4,318.7 319.8,314.7 307.4,314.1z"/>
<path class="b" d="M315.4,533.2 327.8,534.9 332.3,530.5 319.8,528.8z"/>
<path class="r" d="M315.4,318.7 327.8,318.8 332.3,314.8 319.8,314.7z"/>
<path class="b" d="M327.8,534.9 340.2,536.6 344.7,532.2 332.3,530.5z"/>
<path class="r" d="M327.8,318.8 340.2,318.5 344.7,314.4 332.3,314.8z"/>
<path class="b" d="M340.2,536.6 352.6,538.3 357.1,533.9 344.7,532.2z"/>
<path class="r" d="M340.2,318.5 352.6,318.5 357.1,314.3 344.7,314.4z"/>
<path class="b" d="M352.6,538.3 365,540 369.5,535.6 357.1,533.9z"/>
<path class="r" d="M352.6,318.5 365,319.4 369.5,315 357.1,314.3z"/>
<path class="b" d="M365,540 377.5,541.7 381.9,537.3 369.5,535.6z"/>
<path class="r" d="M365,319.4 377.5,321 381.9,316.4 369.5,315z"/>
<path class="b" d="M377.5,541.7 389.9,543.4 394.4,539 381.9,537.3z"/>
<path class="r" d="M377.5,321 389.9,322.6 394.4,317.9 381.9,316.4z"/>
<path class="b" d="M389.9,543.4 402.3,545.1 406.8,540.7 394.4,539z"/>
<path class="r" d="M389.9,322.6 402.3,324.2 406.8,319.4 394.4,317.9z"/>
<path class="b" d="M402.3,545.1 414.7,546.8 419.2,542.4 406.8,540.7z"/>
<path class="r" d="M402.3,324.2 414.7,325.8 419.2,320.9 406.8,319.4z"/>
<path class="b" d="M414.7,546.8 427.1,548.5 431.6,544.1 419.2,542.4z"/>
<path class="r" d="M414.7,325.8 427.1,327.5 431.6,322.7 419.2,320.9z"/>
<path class="b" d="M427.1,548.5 439.6,550.1 444,545.8 431.6,544.1z"/>
<path class="r" d="M427.1,327.5 439.6,329.4 444,324.5 431.6,322.7z"/>
<path class="b" d="M439.6,550.1 452,551.8 456.5,547.4 444,545.8z"/>
<path class="r" d="M439.6,329.4 452,331.4 456.5,326.5 444,324.5z"/>
<path class="b" d="M452,551.8 464.4,553.5 468.9,549.1 456.5,547.4z"/>
<path class="r" d="M452,331.4 464.4,333.4 468.9,328.5 456.5,326.5z"/>
<path class="b" d="M464.4,553.5 476.8,555.2 481.3,550.8 468.9,549.1z"/>
<path class="r" d="M464.4,333.4 476.8,335.7 481.3,330.8 468.9,328.5z"/>
<path class="b" d="M476.8,555.2 489.2,556.9 493.7,552.5 481.3,550.8z"/>
<path class="r" d="M476.8,335.7 489.2,338.4 493.7,333.4 481.3,330.8z"/>
<path class="b" d="M489.2,556.9 501.7,558.6 506.1,554.2 493.7,552.5z"/>
<path class="r" d="M489.2,338.4 501.7,341.4 506.1,336.2 493.7,333.4z"/>
<path class="b" d="M501.7,558.6 514.1,560.3 518.6,555.9 506.1,554.2z"/>
<path class="r" d="M501.7,341.4 514.1,344.5 518.6,339.1 506.1,336.2z"/>
<path class="b" d="M514.1,560.3 526.5,562 531,557.6 518.6,555.9z"/>
<path class="r" d="M514.1,344.5 526.5,348 531,342.8 518.6,339.1z"/>
<path class="b" d="M526.5,562 538.9,563.7 543.4,559.3 531,557.6z"/>
<path class="r" d="M526.5,348 538.9,352 543.4,347.1 531,342.8z"/>
<path class="b" d="M538.9,563.7 551.4,565.4 555.8,561 543.4,559.3z"/>
<path class="r" d="M538.9,352 551.4,355.9 555.8,351.3 543.4,347.1z"/>
<path class="m" d="M551.4,565.4 563.8,370.5 568.2,562.7 555.8,561z"/>
<path class="r" d="M551.4,355.9 563.8,359 568.2,354.6 555.8,351.3z"/>
<path class="m" d="M563.8,370.5 576.2,568.8 580.7,564.4 568.2,562.7z"/>
<path class="r" d="M563.8,359 576.2,361.4 580.7,357.1 568.2,354.6z"/>
<path class="m" d="M576.2,568.8 588.6,553.4 593.1,566.1 580.7,564.4z"/>
<path class="r" d="M576.2,361.4 588.6,363.7 593.1,359.3 580.7,357.1z"/>
<path class="m" d="M588.6,553.4 601,572.2 605.5,567.8 593.1,566.1z"/>
<path class="r" d="M588.6,363.7 601,365.8 605.5,361.4 593.1,359.3z"/>
<path class="b" d="M601,572.2 613.5,573.9 617.9,569.5 605.5,567.8z"/>
<path class="r" d="M601,365.8 613.5,367.7 617.9,363.4 605.5,361.4z"/>
<path class="b" d="M613.5,573.9 625.9,575.6 630.3,571.2 617.9,569.5z"/>
<path class="r" d="M613.5,367.7 625.9,369.6 630.3,365.2 617.9,363.4z"/>
<path class="b" d="M625.9,575.6 638.3,577.3 642.8,572.8 630.3,571.2z"/>
<path class="r" d="M625.9,369.6 638.3,371.4 642.8,367 630.3,365.2z"/>
<path class="b" d="M638.3,577.3 650.7,579 655.2,574.5 642.8,572.8z"/>
<path class="r" d="M638.3,371.4 650.7,373.1 655.2,368.7 642.8,367z"/>
<path class="b" d="M650.7,579 663.1,580.6 667.6,576.2 655.2,574.5z"/>
<path class="r" d="M650.7,373.1 663.1,374.8 667.6,370.4 655.2,368.7z"/>
<path class="b" d="M663.1,580.6 675.5,582.3 680,577.9 667.6,576.2z"/>
<path class="r" d="M663.1,374.8 675.5,376.3 680,371.9 667.6,370.4z"/>
<path class="b" d="M675.5,582.3 688,584 692.4,579.6 680,577.9z"/>
<path class="r" d="M675.5,376.3 688,377.7 692.4,373.3 680,371.9z"/>
<path class="b" d="M688,584 700.4,585.7 704.9,581.3 692.4,579.6z"/>
<path class="r" d="M688,377.7 700.4,379 704.9,374.7 692.4,373.3z"/>
<path class="b" d="M211.5,524 224,525.7 228.4,521.3 216,519.6z"/>
<path class="r" d="M211.5,315.2 224,315.4 228.4,313.1 216,312.7z"/>
<path class="b" d="M224,525.7 236.4,527.4 240.8,523 228.4,521.3z"/>
<path class="r" d="M224,315.4 236.4,315.9 240.8,313.6 228.4,313.1z"/>
<path class="b" d="M236.4,527.4 248.8,529.1 253.3,524.7 240.8,523z"/>
<path class="r" d="M236.4,315.9 248.8,316.7 253.3,314.4 240.8,313.6z"/>
<path class="b" d="M248.8,529.1 261.2,530.8 265.7,526.4 253.3,524.7z"/>
<path class="r" d="M248.8,316.7 261.2,317.6 265.7,315.3 253.3,314.4z"/>
<path class="b" d="M261.2,530.8 273.6,532.5 278.1,528.1 265.7,526.4z"/>
<path class="r" d="M261.2,317.6 273.6,318.5 278.1,316.1 265.7,315.3z"/>
<path class="b" d="M273.6,532.5 286.1,534.2 290.5,529.8 278.1,528.1z"/>
<path class="r" d="M273.6,318.5 286.1,319.4 290.5,317 278.1,316.1z"/>
<path class="b" d="M286.1,534.2 298.5,535.9 302.9,531.5 290.5,529.8z"/>
<path class="r" d="M286.1,319.4 298.5,320.3 302.9,317.9 290.5,317z"/>
<path class="b" d="M298.5,535.9 310.9,537.6 315.4,533.2 302.9,531.5z"/>
<path class="r" d="M298.5,320.3 310.9,321.1 315.4,318.7 302.9,317.9z"/>
<path class="b" d="M310.9,537.6 323.3,539.3 327.8,534.9 315.4,533.2z"/>
<path class="r" d="M310.9,321.1 323.3,321.7 327.8,318.8 315.4,318.7z"/>
<path class="b" d="M323.3,539.3 335.7,541 340.2,536.6 327.8,534.9z"/>
<path class="r" d="M323.3,321.7 335.7,322.1 340.2,318.5 327.8,318.8z"/>
<path class="b" d="M335.7,541 348.2,542.7 352.6,538.3 340.2,536.6z"/>
<path class="r" d="M335.7,322.1 348.2,322.7 352.6,318.5 340.2,318.5z"/>
<path class="b" d="M348.2,542.7 360.6,544.4 365,540 352.6,538.3z"/>
<path class="r" d="M348.2,322.7 360.6,323.8 365,319.4 352.6,318.5z"/>
<path class="b" d="M360.6,544.4 373,546.1 377.5,541.7 365,540z"/>
<path class="r" d="M360.6,323.8 373,325.5 377.5,321 365,319.4z"/>
<path class="b" d="M373,546.1 385.4,547.8 389.9,543.4 377.5,541.7z"/>
<path class="r" d="M373,325.5 385.4,327.2 389.9,322.6 377.5,321z"/>
<path class="b" d="M385.4,547.8 397.8,549.5 402.3,545.1 389.9,543.4z"/>
<path class="r" d="M385.4,327.2 397.8,328.9 402.3,324.2 389.9,322.6z"/>
<path class="b" d="M397.8,549.5 410.3,551.1 414.7,546.8 402.3,545.1z"/>
<path class="r" d="M397.8,328.9 410.3,330.7 414.7,325.8 402.3,324.2z"/>
<path class="b" d="M410.3,551.1 422.7,552.8 427.1,548.5 414.7,546.8z"/>
<path class="r" d="M410.3,330.7 422.7,332.5 427.1,327.5 414.7,325.8z"/>
<path class="b" d="M422.7,552.8 435.1,554.5 439.6,550.1 427.1,548.5z"/>
<path class="r" d="M422.7,332.5 435.1,334.3 439.6,329.4 427.1,327.5z"/>
<path class="b" d="M435.1,554.5 447.5,556.2 452,551.8 439.6,550.1z"/>
<path class="r" d="M435.1,334.3 447.5,336.3 452,331.4 439.6,329.4z"/>
<path class="b" d="M447.5,556.2 459.9,557.9 464.4,553.5 452,551.8z"/>
<path class="r" d="M447.5,336.3 459.9,338.3 464.4,333.4 452,331.4z"/>
<path class="b" d="M459.9,557.9 472.4,559.6 476.8,555.2 464.4,553.5z"/>
<path class="r" d="M459.9,338.3 472.4,340.7 476.8,335.7 464.4,333.4z"/>
<path class="b" d="M472.4,559.6 484.8,561.3 489.2,556.9 476.8,555.2z"/>
<path class="r" d="M472.4,340.7 484.8,343.5 489.2,338.4 476.8,335.7z"/>
<path class="b" d="M484.8,561.3 497.2,563 501.7,558.6 489.2,556.9z"/>
<path class="r" d="M484.8,343.5 497.2,346.6 501.7,341.4 489.2,338.4z"/>
<path class="b" d="M497.2,563 509.6,564.7 514.1,560.3 501.7,558.6z"/>
<path class="r" d="M497.2,346.6 509.6,349.7 514.1,344.5 501.7,341.4z"/>
<path class="b" d="M509.6,564.7 522,566.4 526.5,562 514.1,560.3z"/>
<path class="r" d="M509.6,349.7 522,353.1 526.5,348 514.1,344.5z"/>
<path class="b" d="M522,566.4 534.5,568.1 538.9,563.7 526.5,562z"/>
<path class="r" d="M522,353.1 534.5,356.8 538.9,352 526.5,348z"/>
<path class="b" d="M534.5,568.1 546.9,569.8 551.4,565.4 538.9,563.7z"/>
<path class="r" d="M534.5,356.8 546.9,360.4 551.4,355.9 538.9,352z"/>
<path class="b" d="M546.9,569.8 559.3,571.5 563.8,370.5 551.4,565.4z"/>
<path class="r" d="M546.9,360.4 559.3,363.4 563.8,359 551.4,355.9z"/>
<path class="b" d="M559.3,571.5 571.7,565.4 576.2,568.8 563.8,370.5z"/>
<path class="r" d="M559.3,363.4 571.7,365.8 576.2,361.4 563.8,359z"/>
<path class="b" d="M571.7,565.4 584.1,574.9 588.6,553.4 576.2,568.8z"/>
<path class="r" d="M571.7,365.8 584.1,368.1 588.6,363.7 576.2,361.4z"/>
<path class="b" d="M584.1,574.9 596.6,576.6 601,572.2 588.6,553.4z"/>
<path class="r" d="M584.1,368.1 596.6,370.2 601,365.8 588.6,363.7z"/>
<path class="b" d="M596.6,576.6 609,578.3 613.5,573.9 601,572.2z"/>
<path class="r" d="M596.6,370.2 609,372.1 613.5,367.7 601,365.8z"/>
<path class="b" d="M609,578.3 621.4,580 625.9,575.6 613.5,573.9z"/>
<path class="r" d="M609,372.1 621.4,373.9 625.9,369.6 613.5,367.7z"/>
<path class="b" d="M621.4,580 633.8,581.7 638.3,577.3 625.9,575.6z"/>
<path class="r" d="M621.4,373.9 633.8,375.7 638.3,371.4 625.9,369.6z"/>
<path class="b" d="M633.8,581.7 646.2,583.4 650.7,579 638.3,577.3z"/>
<path class="r" d="M633.8,375.7 646.2,377.5 650.7,373.1 638.3,371.4z"/>
<path class="b" d="M646.2,583.4 658.7,585.1 663.1,580.6 650.7,579z"/>
<path class="r" d="M646.2,377.5 658.7,379.1 663.1,374.8 650.7,373.1z"/>
<path class="b" d="M658.7,585.1 671.1,586.8 675.5,582.3 663.1,580.6z"/>
<path class="r" d="M658.7,379.1 671.1,380.7 675.5,376.3 663.1,374.8z"/>
<path class="b" d="M671.1,586.8 683.5,588.5 688,584 675.5,582.3z"/>
<path class="r" d="M671.1,380.7 683.5,382.1 688,377.7 675.5,376.3z"/>
<path class="b" d="M683.5,588.5 695.9,590.1 700.4,585.7 688,584z"/>
<path class="r" d="M683.5,382.1 695.9,383.4 700.4,379 688,377.7z"/>
<path class="b" d="M207.1,528.4 219.5,530.1 224,525.7 211.5,524z"/>
<path class="r" d="M207.1,317.4 219.5,317.8 224,315.4 211.5,315.2z"/>
<path class="b" d="M219.5,530.1 231.9,531.8 236.4,527.4 224,525.7z"/>
<path class="r" d="M219.5,317.8 231.9,318.3 236.4,315.9 224,315.4z"/>
<path class="b" d="M231.9,531.8 244.3,533.5 248.8,529.1 236.4,527.4z"/>
<path class="r" d="M231.9,318.3 244.3,319.1 248.8,316.7 236.4,315.9z"/>
<path class="b" d="M244.3,533.5 256.8,535.2 261.2,530.8 248.8,529.1z"/>
<path class="r" d="M244.3,319.1 256.8,320 261.2,317.6 248.8,316.7z"/>
<path class="b" d="M256.8,535.2 269.2,536.9 273.6,532.5 261.2,530.8z"/>
<path class="r" d="M256.8,320 269.2,320.9 273.6,318.5 261.2,317.6z"/>
<path class="b" d="M269.2,536.9 281.6,538.6 286.1,534.2 273.6,532.5z"/>
<path class="r" d="M269.2,320.9 281.6,321.6 286.1,319.4 273.6,318.5z"/>
<path class="b" d="M281.6,538.6 294,540.3 298.5,535.9 286.1,534.2z"/>
<path class="r" d="M281.6,321.6 294,322.4 298.5,320.3 286.1,319.4z"/>
<path class="b" d="M294,540.3 306.4,542 310.9,537.6 298.5,535.9z"/>
<path class="r" d="M294,322.4 306.4,323.4 310.9,321.1 298.5,320.3z"/>
<path class="b" d="M306.4,542 318.9,543.7 323.3,539.3 310.9,537.6z"/>
<path class="r" d="M306.4,323.4 318.9,324.5 323.3,321.7 310.9,321.1z"/>
<path class="b" d="M318.9,543.7 331.3,545.4 335.7,541 323.3,539.3z"/>
<path class="r" d="M318.9,324.5 331.3,325.7 335.7,322.1 323.3,321.7z"/>
<path class="b" d="M331.3,545.4 343.7,547.1 348.2,542.7 335.7,541z"/>
<path class="r" d="M331.3,325.7 343.7,327 348.2,322.7 335.7,322.1z"/>
<path class="b" d="M343.7,547.1 356.1,548.7 360.6,544.4 348.2,542.7z"/>
<path class="r" d="M343.7,327 356.1,328.5 360.6,323.8 348.2,322.7z"/>
<path class="b" d="M356.1,548.7 368.5,550.4 373,546.1 360.6,544.4z"/>
<path class="r" d="M356.1,328.5 368.5,330.2 373,325.5 360.6,323.8z"/>
<path class="b" d="M368.5,550.4 381,552.1 385.4,547.8 373,546.1z"/>
<path class="r" d="M368.5,330.2 381,332 385.4,327.2 373,325.5z"/>
<path class="b" d="M381,552.1 393.4,553.8 397.8,549.5 385.4,547.8z"/>
<path class="r" d="M381,332 393.4,333.8 397.8,328.9 385.4,327.2z"/>
<path class="b" d="M393.4,553.8 405.8,555.5 410.3,551.1 397.8,549.5z"/>
<path class="r" d="M393.4,333.8 405.8,335.7 410.3,330.7 397.8,328.9z"/>
<path class="b" d="M405.8,555.5 418.2,557.2 422.7,552.8 410.3,551.1z"/>
<path class="r" d="M405.8,335.7 418.2,337.5 422.7,332.5 410.3,330.7z"/>
<path class="b" d="M418.2,557.2 430.6,558.9 435.1,554.5 422.7,552.8z"/>
<path class="r" d="M418.2,337.5 430.6,339.3 435.1,334.3 422.7,332.5z"/>
<path class="b" d="M430.6,558.9 443.1,560.6 447.5,556.2 435.1,554.5z"/>
<path class="r" d="M430.6,339.3 443.1,341.2 447.5,336.3 435.1,334.3z"/>
<path class="b" d="M443.1,560.6 455.5,562.3 459.9,557.9 447.5,556.2z"/>
<path class="r" d="M443.1,341.2 455.5,343.3 459.9,338.3 447.5,336.3z"/>
<path class="b" d="M455.5,562.3 467.9,564 472.4,559.6 459.9,557.9z"/>
<path class="r" d="M455.5,343.3 467.9,345.7 472.4,340.7 459.9,338.3z"/>
<path class="b" d="M467.9,564 480.3,565.7 484.8,561.3 472.4,559.6z"/>
<path class="r" d="M467.9,345.7 480.3,348.6 484.8,343.5 472.4,340.7z"/>
<path class="b" d="M480.3,565.7 492.7,567.4 497.2,563 484.8,561.3z"/>
<path class="r" d="M480.3,348.6 492.7,351.8 497.2,346.6 484.8,343.5z"/>
<path class="b" d="M492.7,567.4 505.2,569.1 509.6,564.7 497.2,563z"/>
<path class="r" d="M492.7,351.8 505.2,355 509.6,349.7 497.2,346.6z"/>
<path class="b" d="M505.2,569.1 517.6,570.8 522,566.4 509.6,564.7z"/>
<path class="r" d="M505.2,355 517.6,358.3 522,353.1 509.6,349.7z"/>
<path class="b" d="M517.6,570.8 530,572.5 534.5,568.1 522,566.4z"/>
<path class="r" d="M517.6,358.3 530,361.7 534.5,356.8 522,353.1z"/>
<path class="b" d="M530,572.5 542.4,574.2 546.9,569.8 534.5,568.1z"/>
<path class="r" d="M530,361.7 542.4,364.9 546.9,360.4 534.5,356.8z"/>
<path class="b" d="M542.4,574.2 554.8,575.9 559.3,571.5 546.9,569.8z"/>
<path class="r" d="M542.4,364.9 554.8,367.7 559.3,363.4 546.9,360.4z"/>
<path class="b" d="M554.8,575.9 567.3,577.6 571.7,565.4 559.3,571.5z"/>
<path class="r" d="M554.8,367.7 567.3,370.1 571.7,365.8 559.3,363.4z"/>
<path class="b" d="M567.3,577.6 579.7,579.3 584.1,574.9 571.7,565.4z"/>
<path class="r" d="M567.3,370.1 579.7,372.4 584.1,368.1 571.7,365.8z"/>
<path class="b" d="M579.7,579.3 592.1,581 596.6,576.6 584.1,574.9z"/>
<path class="r" d="M579.7,372.4 592.1,374.5 596.6,370.2 584.1,368.1z"/>
<path class="b" d="M592.1,581 604.5,582.7 609,578.3 596.6,576.6z"/>
<path class="r" d="M592.1,374.5 604.5,376.5 609,372.1 596.6,370.2z"/>
<path class="b" d="M604.5,582.7 616.9,584.4 621.4,580 609,578.3z"/>
<path class="r" d="M604.5,376.5 616.9,378.3 621.4,373.9 609,372.1z"/>
<path class="b" d="M616.9,584.4 629.4,586.1 633.8,581.7 621.4,580z"/>
<path class="r" d="M616.9,378.3 629.4,380.1 633.8,375.7 621.4,373.9z"/>
<path class="b" d="M629.4,586.1 641.8,587.8 646.2,583.4 633.8,581.7z"/>
<path class="r" d="M629.4,380.1 641.8,381.9 646.2,377.5 633.8,375.7z"/>
<path class="b" d="M641.8,587.8 654.2,589.5 658.7,585.1 646.2,583.4z"/>
<path class="r" d="M641.8,381.9 654.2,383.5 658.7,379.1 646.2,377.5z"/>
<path class="b" d="M654.2,589.5 666.6,591.2 671.1,586.8 658.7,585.1z"/>
<path class="r" d="M654.2,383.5 666.6,385 671.1,380.7 658.7,379.1z"/>
<path class="b" d="M666.6,591.2 679,592.9 683.5,588.5 671.1,586.8z"/>
<path class="r" d="M666.6,385 679,386.5 683.5,382.1 671.1,380.7z"/>
<path class="b" d="M679,592.9 691.5,594.6 695.9,590.1 683.5,588.5z"/>
<path class="r" d="M679,386.5 691.5,387.8 695.9,383.4 683.5,382.1z"/>
<path class="b" d="M202.6,532.8 215,534.5 219.5,530.1 207.1,528.4z"/>
<path class="r" d="M202.6,320.6 215,321.3 219.5,317.8 207.1,317.4z"/>
<path class="b" d="M215,534.5 227.5,536.2 231.9,531.8 219.5,530.1z"/>
<path class="r" d="M215,321.3 227.5,322.1 231.9,318.3 219.5,317.8z"/>
<path class="b" d="M227.5,536.2 239.9,537.9 244.3,533.5 231.9,531.8z"/>
<path class="r" d="M227.5,322.1 239.9,322.9 244.3,319.1 231.9,318.3z"/>
<path class="b" d="M239.9,537.9 252.3,539.6 256.8,535.2 244.3,533.5z"/>
<path class="r" d="M239.9,322.9 252.3,323.8 256.8,320 244.3,319.1z"/>
<path class="b" d="M252.3,539.6 264.7,541.2 269.2,536.9 256.8,535.2z"/>
<path class="r" d="M252.3,323.8 264.7,324.6 269.2,320.9 256.8,320z"/>
<path class="b" d="M264.7,541.2 277.1,542.9 281.6,538.6 269.2,536.9z"/>
<path class="r" d="M264.7,324.6 277.1,325.4 281.6,321.6 269.2,320.9z"/>
<path class="b" d="M277.1,542.9 289.6,544.6 294,540.3 281.6,538.6z"/>
<path class="r" d="M277.1,325.4 289.6,326.1 294,322.4 281.6,321.6z"/>
<path class="b" d="M289.6,544.6 302,546.3 306.4,542 294,540.3z"/>
<path class="r" d="M289.6,326.1 302,327.2 306.4,323.4 294,322.4z"/>
<path class="b" d="M302,546.3 314.4,548 318.9,543.7 306.4,542z"/>
<path class="r" d="M302,327.2 314.4,328.6 318.9,324.5 306.4,323.4z"/>
<path class="b" d="M314.4,548 326.8,549.7 331.3,545.4 318.9,543.7z"/>
<path class="r" d="M314.4,328.6 326.8,330.1 331.3,325.7 318.9,324.5z"/>
<path class="b" d="M326.8,549.7 339.2,551.4 343.7,547.1 331.3,545.4z"/>
<path class="r" d="M326.8,330.1 339.2,331.7 343.7,327 331.3,325.7z"/>
<path class="b" d="M339.2,551.4 351.7,553.1 356.1,548.7 343.7,547.1z"/>
<path class="r" d="M339.2,331.7 351.7,333.2 356.1,328.5 343.7,327z"/>
<path class="b" d="M351.7,553.1 364.1,554.8 368.5,550.4 356.1,548.7z"/>
<path class="r" d="M351.7,333.2 364.1,334.9 368.5,330.2 356.1,328.5z"/>
<path class="b" d="M364.1,554.8 376.5,556.5 381,552.1 368.5,550.4z"/>
<path class="r" d="M364.1,334.9 376.5,336.8 381,332 368.5,330.2z"/>
<path class="b" d="M376.5,556.5 388.9,558.2 393.4,553.8 381,552.1z"/>
<path class="r" d="M376.5,336.8 388.9,338.7 393.4,333.8 381,332z"/>
<path class="b" d="M388.9,558.2 401.3,559.9 405.8,555.5 393.4,553.8z"/>
<path class="r" d="M388.9,338.7 401.3,340.6 405.8,335.7 393.4,333.8z"/>
<path class="b" d="M401.3,559.9 413.8,561.6 418.2,557.2 405.8,555.5z"/>
<path class="r" d="M401.3,340.6 413.8,342.5 418.2,337.5 405.8,335.7z"/>
<path class="b" d="M413.8,561.6 426.2,563.3 430.6,558.9 418.2,557.2z"/>
<path class="r" d="M413.8,342.5 426.2,344.3 430.6,339.3 418.2,337.5z"/>
<path class="b" d="M426.2,563.3 438.6,565 443.1,560.6 430.6,558.9z"/>
<path class="r" d="M426.2,344.3 438.6,346.2 443.1,341.2 430.6,339.3z"/>
<path class="b" d="M438.6,565 451,566.7 455.5,562.3 443.1,560.6z"/>
<path class="r" d="M438.6,346.2 451,348.2 455.5,343.3 443.1,341.2z"/>
<path class="b" d="M451,566.7 463.4,568.4 467.9,564 455.5,562.3z"/>
<path class="r" d="M451,348.2 463.4,350.7 467.9,345.7 455.5,343.3z"/>
<path class="b" d="M463.4,568.4 475.9,570.1 480.3,565.7 467.9,564z"/>
<path class="r" d="M463.4,350.7 475.9,353.8 480.3,348.6 467.9,345.7z"/>
<path class="b" d="M475.9,570.1 488.3,571.8 492.7,567.4 480.3,565.7z"/>
<path class="r" d="M475.9,353.8 488.3,357.1 492.7,351.8 480.3,348.6z"/>
<path class="b" d="M488.3,571.8 500.7,573.5 505.2,569.1 492.7,567.4z"/>
<path class="r" d="M488.3,357.1 500.7,360.3 505.2,355 492.7,351.8z"/>
<path class="b" d="M500.7,573.5 513.1,575.2 517.6,570.8 505.2,569.1z"/>
<path class="r" d="M500.7,360.3 513.1,363.3 517.6,358.3 505.2,355z"/>
<path class="b" d="M513.1,575.2 525.5,576.9 530,572.5 517.6,570.8z"/>
<path class="r" d="M513.1,363.3 525.5,366.5 530,361.7 517.6,358.3z"/>
<path class="b" d="M525.5,576.9 538,578.6 542.4,574.2 530,572.5z"/>
<path class="r" d="M525.5,366.5 538,369.5 542.4,364.9 530,361.7z"/>
<path class="b" d="M538,578.6 550.4,580.3 554.8,575.9 542.4,574.2z"/>
<path class="r" d="M538,369.5 550.4,372.1 554.8,367.7 542.4,364.9z"/>
<path class="b" d="M550.4,580.3 562.8,582 567.3,577.6 554.8,575.9z"/>
<path class="r" d="M550.4,372.1 562.8,374.5 567.3,370.1 554.8,367.7z"/>
<path class="b" d="M562.8,582 575.2,583.7 579.7,579.3 567.3,577.6z"/>
<path class="r" d="M562.8,374.5 575.2,376.7 579.7,372.4 567.3,370.1z"/>
<path class="b" d="M575.2,583.7 587.6,585.4 592.1,581 579.7,579.3z"/>
<path class="r" d="M575.2,376.7 587.6,378.9 592.1,374.5 579.7,372.4z"/>
<path class="b" d="M587.6,585.4 600.1,587.1 604.5,582.7 592.1,581z"/>
<path class="r" d="M587.6,378.9 600.1,380.8 604.5,376.5 592.1,374.5z"/>
<path class="b" d="M600.1,587.1 612.5,588.8 616.9,584.4 604.5,582.7z"/>
<path class="r" d="M600.1,380.8 612.5,382.7 616.9,378.3 604.5,376.5z"/>
<path class="b" d="M612.5,588.8 624.9,590.5 629.4,586.1 616.9,584.4z"/>
<path class="r" d="M612.5,382.7 624.9,384.5 629.4,380.1 616.9,378.3z"/>
<path class="b" d="M624.9,590.5 637.3,592.2 641.8,587.8 629.4,586.1z"/>
<path class="r" d="M624.9,384.5 637.3,386.2 641.8,381.9 629.4,380.1z"/>
<path class="b" d="M637.3,592.2 649.7,593.9 654.2,589.5 641.8,587.8z"/>
<path class="r" d="M637.3,386.2 649.7,387.9 654.2,383.5 641.8,381.9z"/>
<path class="b" d="M649.7,593.9 662.2,595.6 666.6,591.2 654.2,589.5z"/>
<path class="r" d="M649.7,387.9 662.2,389.4 666.6,385 654.2,383.5z"/>
<path class="b" d="M662.2,595.6 674.6,597.3 679,592.9 666.6,591.2z"/>
<path class="r" d="M662.2,389.4 674.6,390.8 679,386.5 666.6,385z"/>
<path class="b" d="M674.6,597.3 687,599 691.5,594.6 679,592.9z"/>
<path class="r" d="M674.6,390.8 687,392.1 691.5,387.8 679,386.5z"/>
<path class="b" d="M198.2,537.1 210.6,538.8 215,534.5 202.6,532.8z"/>
<path class="r" d="M198.2,324.8 210.6,325.6 215,321.3 202.6,320.6z"/>
<path class="b" d="M210.6,538.8 223,540.5 227.5,536.2 215,534.5z"/>
<path class="r" d="M210.6,325.6 223,326.5 227.5,322.1 215,321.3z"/>
<path class="b" d="M223,540.5 235.4,542.2 239.9,537.9 227.5,536.2z"/>
<path class="r" d="M223,326.5 235.4,327.4 239.9,322.9 227.5,322.1z"/>
<path class="b" d="M235.4,542.2 247.8,543.9 252.3,539.6 239.9,537.9z"/>
<path class="r" d="M235.4,327.4 247.8,328.3 252.3,323.8 239.9,322.9z"/>
<path class="b" d="M247.8,543.9 260.2,545.6 264.7,541.2 252.3,539.6z"/>
<path class="r" d="M247.8,328.3 260.2,329.1 264.7,324.6 252.3,323.8z"/>
<path class="b" d="M260.2,545.6 272.7,547.3 277.1,542.9 264.7,541.2z"/>
<path class="r" d="M260.2,329.1 272.7,329.9 277.1,325.4 264.7,324.6z"/>
<path class="b" d="M272.7,547.3 285.1,549 289.6,544.6 277.1,542.9z"/>
<path class="r" d="M272.7,329.9 285.1,330.6 289.6,326.1 277.1,325.4z"/>
<path class="b" d="M285.1,549 297.5,550.7 302,546.3 289.6,544.6z"/>
<path class="r" d="M285.1,330.6 297.5,331.8 302,327.2 289.6,326.1z"/>
<path class="b" d="M297.5,550.7 309.9,552.4 314.4,548 302,546.3z"/>
<path class="r" d="M297.5,331.8 309.9,333.3 314.4,328.6 302,327.2z"/>
<path class="b" d="M309.9,552.4 322.3,554.1 326.8,549.7 314.4,548z"/>
<path class="r" d="M309.9,333.3 322.3,334.8 326.8,330.1 314.4,328.6z"/>
<path class="b" d="M322.3,554.1 334.8,555.8 339.2,551.4 326.8,549.7z"/>
<path class="r" d="M322.3,334.8 334.8,336.4 339.2,331.7 326.8,330.1z"/>
<path class="b" d="M334.8,555.8 347.2,557.5 351.7,553.1 339.2,551.4z"/>
<path class="r" d="M334.8,336.4 347.2,338 351.7,333.2 339.2,331.7z"/>
<path class="b" d="M347.2,557.5 359.6,559.2 364.1,554.8 351.7,553.1z"/>
<path class="r" d="M347.2,338 359.6,339.7 364.1,334.9 351.7,333.2z"/>
<path class="b" d="M359.6,559.2 372,560.9 376.5,556.5 364.1,554.8z"/>
<path class="r" d="M359.6,339.7 372,341.7 376.5,336.8 364.1,334.9z"/>
<path class="b" d="M372,560.9 384.4,562.6 388.9,558.2 376.5,556.5z"/>
<path class="r" d="M372,341.7 384.4,343.7 388.9,338.7 376.5,336.8z"/>
<path class="b" d="M384.4,562.6 396.9,564.3 401.3,559.9 388.9,558.2z"/>
<path class="r" d="M384.4,343.7 396.9,345.6 401.3,340.6 388.9,338.7z"/>
<path class="b" d="M396.9,564.3 409.3,566 413.8,561.6 401.3,559.9z"/>
<path class="r" d="M396.9,345.6 409.3,347.5 413.8,342.5 401.3,340.6z"/>
<path class="b" d="M409.3,566 421.7,567.7 426.2,563.3 413.8,561.6z"/>
<path class="r" d="M409.3,347.5 421.7,349.3 426.2,344.3 413.8,342.5z"/>
<path class="b" d="M421.7,567.7 434.1,569.4 438.6,565 426.2,563.3z"/>
<path class="r" d="M421.7,349.3 434.1,351.2 438.6,346.2 426.2,344.3z"/>
<path class="b" d="M434.1,569.4 446.5,571.1 451,566.7 438.6,565z"/>
<path class="r" d="M434.1,351.2 446.5,353.2 451,348.2 438.6,346.2z"/>
<path class="b" d="M446.5,571.1 459,572.8 463.4,568.4 451,566.7z"/>
<path class="r" d="M446.5,353.2 459,355.8 463.4,350.7 451,348.2z"/>
<path class="b" d="M459,572.8 471.4,574.5 475.9,570.1 463.4,568.4z"/>
<path class="r" d="M459,355.8 471.4,358.9 475.9,353.8 463.4,350.7z"/>
<path class="b" d="M471.4,574.5 483.8,576.2 488.3,571.8 475.9,570.1z"/>
<path class="r" d="M471.4,358.9 483.8,362.3 488.3,357.1 475.9,353.8z"/>
<path class="b" d="M483.8,576.2 496.2,577.9 500.7,573.5 488.3,571.8z"/>
<path class="r" d="M483.8,362.3 496.2,365.4 500.7,360.3 488.3,357.1z"/>
<path class="b" d="M496.2,577.9 508.6,579.6 513.1,575.2 500.7,573.5z"/>
<path class="r" d="M496.2,365.4 508.6,368.3 513.1,363.3 500.7,360.3z"/>
<path class="b" d="M508.6,579.6 521.1,581.3 525.5,576.9 513.1,575.2z"/>
<path class="r" d="M508.6,368.3 521.1,371.2 525.5,366.5 513.1,363.3z"/>
<path class="b" d="M521.1,581.3 533.5,583 538,578.6 525.5,576.9z"/>
<path class="r" d="M521.1,371.2 533.5,374 538,369.5 525.5,366.5z"/>
<path class="b" d="M533.5,583 545.9,584.7 550.4,580.3 538,578.6z"/>
<path class="r" d="M533.5,374 545.9,376.5 550.4,372.1 538,369.5z"/>
<path class="b" d="M545.9,584.7 558.3,586.4 562.8,582 550.4,580.3z"/>
<path class="r" d="M545.9,376.5 558.3,378.8 562.8,374.5 550.4,372.1z"/>
<path class="b" d="M558.3,586.4 570.8,588.1 575.2,583.7 562.8,582z"/>
<path class="r" d="M558.3,378.8 570.8,381 575.2,376.7 562.8,374.5z"/>
<path class="b" d="M570.8,588.1 583.2,589.8 587.6,585.4 575.2,583.7z"/>
<path class="r" d="M570.8,381 583.2,383.2 587.6,378.9 575.2,376.7z"/>
<path class="b" d="M583.2,589.8 595.6,591.5 600.1,587.1 587.6,585.4z"/>
<path class="r" d="M583.2,383.2 595.6,385.1 600.1,380.8 587.6,378.9z"/>
<path class="b" d="M595.6,591.5 608,593.2 612.5,588.8 600.1,587.1z"/>
<path class="r" d="M595.6,385.1 608,387 612.5,382.7 600.1,380.8z"/>
<path class="b" d="M608,593.2 620.4,594.9 624.9,590.5 612.5,588.8z"/>
<path class="r" d="M608,387 620.4,388.8 624.9,384.5 612.5,382.7z"/>
<path class="b" d="M620.4,594.9 632.9,596.6 637.3,592.2 624.9,590.5z"/>
<path class="r" d="M620.4,388.8 632.9,390.5 637.3,386.2 624.9,384.5z"/>
<path class="b" d="M632.9,596.6 645.3,598.3 649.7,593.9 637.3,592.2z"/>
<path class="r" d="M632.9,390.5 645.3,392.2 649.7,387.9 637.3,386.2z"/>
<path class="b" d="M645.3,598.3 657.7,600 662.2,595.6 649.7,593.9z"/>
<path class="r" d="M645.3,392.2 657.7,393.7 662.2,389.4 649.7,387.9z"/>
<path class="b" d="M657.7,600 670.1,601.7 674.6,597.3 662.2,595.6z"/>
<path class="r" d="M657.7,393.7 670.1,395.2 674.6,390.8 662.2,389.4z"/>
<path class="b" d="M670.1,601.7 682.5,603.4 687,599 674.6,597.3z"/>
<path class="r" d="M670.1,395.2 682.5,396.5 687,392.1 674.6,390.8z"/>
<path class="b" d="M193.7,541.5 206.1,543.2 210.6,538.8 198.2,537.1z"/>
<path class="r" d="M193.7,329.1 206.1,329.9 210.6,325.6 198.2,324.8z"/>
<path class="b" d="M206.1,543.2 218.5,544.9 223,540.5 210.6,538.8z"/>
<path class="r" d="M206.1,329.9 218.5,330.9 223,326.5 210.6,325.6z"/>
<path class="b" d="M218.5,544.9 230.9,546.6 235.4,542.2 223,540.5z"/>
<path class="r" d="M218.5,330.9 230.9,331.8 235.4,327.4 223,326.5z"/>
<path class="b" d="M230.9,546.6 243.4,548.3 247.8,543.9 235.4,542.2z"/>
<path class="r" d="M230.9,331.8 243.4,332.8 247.8,328.3 235.4,327.4z"/>
<path class="b" d="M243.4,548.3 255.8,550 260.2,545.6 247.8,543.9z"/>
<path class="r" d="M243.4,332.8 255.8,333.8 260.2,329.1 247.8,328.3z"/>
<path class="b" d="M255.8,550 268.2,551.7 272.7,547.3 260.2,545.6z"/>
<path class="r" d="M255.8,333.8 268.2,334.7 272.7,329.9 260.2,329.1z"/>
<path class="b" d="M268.2,551.7 280.6,553.4 285.1,549 272.7,547.3z"/>
<path class="r" d="M268.2,334.7 280.6,335.5 285.1,330.6 272.7,329.9z"/>
<path class="b" d="M280.6,553.4 293,555.1 297.5,550.7 285.1,549z"/>
<path class="r" d="M280.6,335.5 293,336.7 297.5,331.8 285.1,330.6z"/>
<path class="b" d="M293,555.1 305.5,556.8 309.9,552.4 297.5,550.7z"/>
<path class="r" d="M293,336.7 305.5,338.3 309.9,333.3 297.5,331.8z"/>
<path class="b" d="M305.5,556.8 317.9,558.5 322.3,554.1 309.9,552.4z"/>
<path class="r" d="M305.5,338.3 317.9,339.8 322.3,334.8 309.9,333.3z"/>
<path class="b" d="M317.9,558.5 330.3,560.2 334.8,555.8 322.3,554.1z"/>
<path class="r" d="M317.9,339.8 330.3,341.4 334.8,336.4 322.3,334.8z"/>
<path class="b" d="M330.3,560.2 342.7,561.9 347.2,557.5 334.8,555.8z"/>
<path class="r" d="M330.3,341.4 342.7,343 347.2,338 334.8,336.4z"/>
<path class="b" d="M342.7,561.9 355.1,563.6 359.6,559.2 347.2,557.5z"/>
<path class="r" d="M342.7,343 355.1,344.7 359.6,339.7 347.2,338z"/>
<path class="b" d="M355.1,563.6 367.6,565.3 372,560.9 359.6,559.2z"/>
<path class="r" d="M355.1,344.7 367.6,346.7 372,341.7 359.6,339.7z"/>
<path class="b" d="M367.6,565.3 380,567 384.4,562.6 372,560.9z"/>
<path class="r" d="M367.6,346.7 380,348.7 384.4,343.7 372,341.7z"/>
<path class="b" d="M380,567 392.4,568.7 396.9,564.3 384.4,562.6z"/>
<path class="r" d="M380,348.7 392.4,350.7 396.9,345.6 384.4,343.7z"/>
<path class="b" d="M392.4,568.7 404.8,570.4 409.3,566 396.9,564.3z"/>
<path class="r" d="M392.4,350.7 404.8,352.5 409.3,347.5 396.9,345.6z"/>
<path class="b" d="M404.8,570.4 417.2,572.1 421.7,567.7 409.3,566z"/>
<path class="r" d="M404.8,352.5 417.2,354.4 421.7,349.3 409.3,347.5z"/>
<path class="b" d="M417.2,572.1 429.7,573.8 434.1,569.4 421.7,567.7z"/>
<path class="r" d="M417.2,354.4 429.7,356.3 434.1,351.2 421.7,349.3z"/>
<path class="b" d="M429.7,573.8 442.1,575.5 446.5,571.1 434.1,569.4z"/>
<path class="r" d="M429.7,356.3 442.1,358.3 446.5,353.2 434.1,351.2z"/>
<path class="b" d="M442.1,575.5 454.5,577.2 459,572.8 446.5,571.1z"/>
<path class="r" d="M442.1,358.3 454.5,360.8 459,355.8 446.5,353.2z"/>
<path class="b" d="M454.5,577.2 466.9,578.9 471.4,574.5 459,572.8z"/>
<path class="r" d="M454.5,360.8 466.9,364.1 471.4,358.9 459,355.8z"/>
<path class="m" d="M466.9,578.9 479.3,552.5 483.8,576.2 471.4,574.5z"/>
<path class="r" d="M466.9,364.1 479.3,367.5 483.8,362.3 471.4,358.9z"/>
<path class="m" d="M479.3,552.5 491.8,582.3 496.2,577.9 483.8,576.2z"/>
<path class="r" d="M479.3,367.5 491.8,370.5 496.2,365.4 483.8,362.3z"/>
<path class="b" d="M491.8,582.3 504.2,577.6 508.6,579.6 496.2,577.9z"/>
<path class="r" d="M491.8,370.5 504.2,373.3 508.6,368.3 496.2,365.4z"/>
<path class="b" d="M504.2,577.6 516.6,585.7 521.1,581.3 508.6,579.6z"/>
<path class="r" d="M504.2,373.3 516.6,375.9 521.1,371.2 508.6,368.3z"/>
<path class="b" d="M516.6,585.7 529,587.4 533.5,583 521.1,581.3z"/>
<path class="r" d="M516.6,375.9 529,378.5 533.5,374 521.1,371.2z"/>
<path class="b" d="M529,587.4 541.4,589.1 545.9,584.7 533.5,583z"/>
<path class="r" d="M529,378.5 541.4,380.8 545.9,376.5 533.5,374z"/>
<path class="b" d="M541.4,589.1 553.9,590.8 558.3,586.4 545.9,584.7z"/>
<path class="r" d="M541.4,380.8 553.9,383.1 558.3,378.8 545.9,376.5z"/>
<path class="b" d="M553.9,590.8 566.3,592.5 570.8,588.1 558.3,586.4z"/>
<path class="r" d="M553.9,383.1 566.3,385.3 570.8,381 558.3,378.8z"/>
<path class="b" d="M566.3,592.5 578.7,594.2 583.2,589.8 570.8,588.1z"/>
<path class="r" d="M566.3,385.3 578.7,387.4 583.2,383.2 570.8,381z"/>
<path class="b" d="M578.7,594.2 591.1,595.9 595.6,591.5 583.2,589.8z"/>
<path class="r" d="M578.7,387.4 591.1,389.3 595.6,385.1 583.2,383.2z"/>
<path class="b" d="M591.1,595.9 603.5,597.6 608,593.2 595.6,591.5z"/>
<path class="r" d="M591.1,389.3 603.5,391.2 608,387 595.6,385.1z"/>
<path class="b" d="M603.5,597.6 616,599.3 620.4,594.9 608,593.2z"/>
<path class="r" d="M603.5,391.2 616,393 620.4,388.8 608,387z"/>
<path class="b" d="M616,599.3 628.4,601 632.9,596.6 620.4,594.9z"/>
<path class="r" d="M616,393 628.4,394.8 632.9,390.5 620.4,388.8z"/>
<path class="b" d="M628.4,601 640.8,602.7 645.3,598.3 632.9,596.6z"/>
<path class="r" d="M628.4,394.8 640.8,396.5 645.3,392.2 632.9,390.5z"/>
<path class="b" d="M640.8,602.7 653.2,604.4 657.7,600 645.3,598.3z"/>
<path class="r" d="M640.8,396.5 653.2,398.1 657.7,393.7 645.3,392.2z"/>
<path class="b" d="M653.2,604.4 665.6,606.1 670.1,601.7 657.7,600z"/>
<path class="r" d="M653.2,398.1 665.6,399.5 670.1,395.2 657.7,393.7z"/>
<path class="b" d="M665.6,606.1 678.1,607.8 682.5,603.4 670.1,601.7z"/>
<path class="r" d="M665.6,399.5 678.1,400.9 682.5,396.5 670.1,395.2z"/>
<path class="b" d="M189.2,545.9 201.6,547.6 206.1,543.2 193.7,541.5z"/>
<path class="r" d="M189.2,333.4 201.6,334.3 206.1,329.9 193.7,329.1z"/>
<path class="b" d="M201.6,547.6 214.1,549.3 218.5,544.9 206.1,543.2z"/>
<path class="r" d="M201.6,334.3 214.1,335.2 218.5,330.9 206.1,329.9z"/>
<path class="b" d="M214.1,549.3 226.5,551 230.9,546.6 218.5,544.9z"/>
<path class="r" d="M214.1,335.2 226.5,336.3 230.9,331.8 218.5,330.9z"/>
<path class="b" d="M226.5,551 238.9,552.7 243.4,548.3 230.9,546.6z"/>
<path class="r" d="M226.5,336.3 238.9,337.4 243.4,332.8 230.9,331.8z"/>
<path class="b" d="M238.9,552.7 251.3,554.4 255.8,550 243.4,548.3z"/>
<path class="r" d="M238.9,337.4 251.3,338.5 255.8,333.8 243.4,332.8z"/>
<path class="b" d="M251.3,554.4 263.7,556.1 268.2,551.7 255.8,550z"/>
<path class="r" d="M251.3,338.5 263.7,339.5 268.2,334.7 255.8,333.8z"/>
<path class="b" d="M263.7,556.1 276.2,557.8 280.6,553.4 268.2,551.7z"/>
<path class="r" d="M263.7,339.5 276.2,340.5 280.6,335.5 268.2,334.7z"/>
<path class="b" d="M276.2,557.8 288.6,559.5 293,555.1 280.6,553.4z"/>
<path class="r" d="M276.2,340.5 288.6,341.8 293,336.7 280.6,335.5z"/>
<path class="b" d="M288.6,559.5 301,561.2 305.5,556.8 293,555.1z"/>
<path class="r" d="M288.6,341.8 301,343.3 305.5,338.3 293,336.7z"/>
<path class="b" d="M301,561.2 313.4,562.9 317.9,558.5 305.5,556.8z"/>
<path class="r" d="M301,343.3 313.4,344.9 317.9,339.8 305.5,338.3z"/>
<path class="b" d="M313.4,562.9 325.8,564.6 330.3,560.2 317.9,558.5z"/>
<path class="r" d="M313.4,344.9 325.8,346.5 330.3,341.4 317.9,339.8z"/>
<path class="b" d="M325.8,564.6 338.3,566.3 342.7,561.9 330.3,560.2z"/>
<path class="r" d="M325.8,346.5 338.3,348.1 342.7,343 330.3,341.4z"/>
<path class="b" d="M338.3,566.3 350.7,568 355.1,563.6 342.7,561.9z"/>
<path class="r" d="M338.3,348.1 350.7,349.8 355.1,344.7 342.7,343z"/>
<path class="b" d="M350.7,568 363.1,569.7 367.6,565.3 355.1,563.6z"/>
<path class="r" d="M350.7,349.8 363.1,351.8 367.6,346.7 355.1,344.7z"/>
<path class="b" d="M363.1,569.7 375.5,571.4 380,567 367.6,565.3z"/>
<path class="r" d="M363.1,351.8 375.5,353.8 380,348.7 367.6,346.7z"/>
<path class="b" d="M375.5,571.4 387.9,573.1 392.4,568.7 380,567z"/>
<path class="r" d="M375.5,353.8 387.9,355.8 392.4,350.7 380,348.7z"/>
<path class="b" d="M387.9,573.1 400.4,574.8 404.8,570.4 392.4,568.7z"/>
<path class="r" d="M387.9,355.8 400.4,357.7 404.8,352.5 392.4,350.7z"/>
<path class="b" d="M400.4,574.8 412.8,576.5 417.2,572.1 404.8,570.4z"/>
<path class="r" d="M400.4,357.7 412.8,359.5 417.2,354.4 404.8,352.5z"/>
<path class="b" d="M412.8,576.5 425.2,578.2 429.7,573.8 417.2,572.1z"/>
<path class="r" d="M412.8,359.5 425.2,361.4 429.7,356.3 417.2,354.4z"/>
<path class="b" d="M425.2,578.2 437.6,579.9 442.1,575.5 429.7,573.8z"/>
<path class="r" d="M425.2,361.4 437.6,363.4 442.1,358.3 429.7,356.3z"/>
<path class="b" d="M437.6,579.9 450,581.6 454.5,577.2 442.1,575.5z"/>
<path class="r" d="M437.6,363.4 450,366 454.5,360.8 442.1,358.3z"/>
<path class="b" d="M450,581.6 462.5,583.3 466.9,578.9 454.5,577.2z"/>
<path class="r" d="M450,366 462.5,369.3 466.9,364.1 454.5,360.8z"/>
<path class="b" d="M462.5,583.3 474.9,585 479.3,552.5 466.9,578.9z"/>
<path class="r" d="M462.5,369.3 474.9,372.7 479.3,367.5 466.9,364.1z"/>
<path class="b" d="M474.9,585 487.3,586.7 491.8,582.3 479.3,552.5z"/>
<path class="r" d="M474.9,372.7 487.3,375.7 491.8,370.5 479.3,367.5z"/>
<path class="b" d="M487.3,586.7 499.7,588.4 504.2,577.6 491.8,582.3z"/>
<path class="r" d="M487.3,375.7 499.7,378.2 504.2,373.3 491.8,370.5z"/>
<path class="b" d="M499.7,588.4 512.1,590.1 516.6,585.7 504.2,577.6z"/>
<path class="r" d="M499.7,378.2 512.1,380.7 516.6,375.9 504.2,373.3z"/>
<path class="b" d="M512.1,590.1 524.6,591.8 529,587.4 516.6,585.7z"/>
<path class="r" d="M512.1,380.7 524.6,383 529,378.5 516.6,375.9z"/>
<path class="b" d="M524.6,591.8 537,593.5 541.4,589.1 529,587.4z"/>
<path class="r" d="M524.6,383 537,385.2 541.4,380.8 529,378.5z"/>
<path class="b" d="M537,593.5 549.4,595.2 553.9,590.8 541.4,589.1z"/>
<path class="r" d="M537,385.2 549.4,387.4 553.9,383.1 541.4,380.8z"/>
<path class="b" d="M549.4,595.2 561.8,596.9 566.3,592.5 553.9,590.8z"/>
<path class="r" d="M549.4,387.4 561.8,389.5 566.3,385.3 553.9,383.1z"/>
<path class="b" d="M561.8,596.9 574.2,598.6 578.7,594.2 566.3,592.5z"/>
<path class="r" d="M561.8,389.5 574.2,391.5 578.7,387.4 566.3,385.3z"/>
<path class="b" d="M574.2,598.6 586.7,600.3 591.1,595.9 578.7,594.2z"/>
<path class="r" d="M574.2,391.5 586.7,393.5 591.1,389.3 578.7,387.4z"/>
<path class="b" d="M586.7,600.3 599.1,602 603.5,597.6 591.1,595.9z"/>
<path class="r" d="M586.7,393.5 599.1,395.4 603.5,391.2 591.1,389.3z"/>
<path class="b" d="M599.1,602 611.5,603.7 616,599.3 603.5,597.6z"/>
<path class="r" d="M599.1,395.4 611.5,397.3 616,393 603.5,391.2z"/>
<path class="b" d="M611.5,603.7 623.9,605.4 628.4,601 616,599.3z"/>
<path class="r" d="M611.5,397.3 623.9,399.1 628.4,394.8 616,393z"/>
<path class="b" d="M623.9,605.4 636.3,607.1 640.8,602.7 628.4,601z"/>
<path class="r" d="M623.9,399.1 636.3,400.8 640.8,396.5 628.4,394.8z"/>
<path class="b" d="M636.3,607.1 648.8,608.8 653.2,604.4 640.8,602.7z"/>
<path class="r" d="M636.3,400.8 648.8,402.3 653.2,398.1 640.8,396.5z"/>
<path class="b" d="M648.8,608.8 661.2,610.5 665.6,606.1 653.2,604.4z"/>
<path class="r" d="M648.8,402.3 661.2,403.8 665.6,399.5 653.2,398.1z"/>
<path class="b" d="M661.2,610.5 673.6,612.2 678.1,607.8 665.6,606.1z"/>
<path class="r" d="M661.2,403.8 673.6,405.3 678.1,400.9 665.6,399.5z"/>
<path class="b" d="M184.8,550.2 197.2,552 201.6,547.6 189.2,545.9z"/>
<path class="r" d="M184.8,337.7 197.2,338.6 201.6,334.3 189.2,333.4z"/>
<path class="b" d="M197.2,552 209.6,553.7 214.1,549.3 201.6,547.6z"/>
<path class="r" d="M197.2,338.6 209.6,339.6 214.1,335.2 201.6,334.3z"/>
<path class="b" d="M209.6,553.7 222,555.4 226.5,551 214.1,549.3z"/>
<path class="r" d="M209.6,339.6 222,340.7 226.5,336.3 214.1,335.2z"/>
<path class="b" d="M222,555.4 234.4,557.1 238.9,552.7 226.5,551z"/>
<path class="r" d="M222,340.7 234.4,342 238.9,337.4 226.5,336.3z"/>
<path class="b" d="M234.4,557.1 246.9,558.8 251.3,554.4 238.9,552.7z"/>
<path class="r" d="M234.4,342 246.9,343.2 251.3,338.5 238.9,337.4z"/>
<path class="b" d="M246.9,558.8 259.3,560.5 263.7,556.1 251.3,554.4z"/>
<path class="r" d="M246.9,343.2 259.3,344.3 263.7,339.5 251.3,338.5z"/>
<path class="b" d="M259.3,560.5 271.7,562.2 276.2,557.8 263.7,556.1z"/>
<path class="r" d="M259.3,344.3 271.7,345.4 276.2,340.5 263.7,339.5z"/>
<path class="b" d="M271.7,562.2 284.1,563.9 288.6,559.5 276.2,557.8z"/>
<path class="r" d="M271.7,345.4 284.1,346.7 288.6,341.8 276.2,340.5z"/>
<path class="b" d="M284.1,563.9 296.5,565.6 301,561.2 288.6,559.5z"/>
<path class="r" d="M284.1,346.7 296.5,348.3 301,343.3 288.6,341.8z"/>
<path class="b" d="M296.5,565.6 309,567.3 313.4,562.9 301,561.2z"/>
<path class="r" d="M296.5,348.3 309,349.9 313.4,344.9 301,343.3z"/>
<path class="b" d="M309,567.3 321.4,569 325.8,564.6 313.4,562.9z"/>
<path class="r" d="M309,349.9 321.4,351.5 325.8,346.5 313.4,344.9z"/>
<path class="b" d="M321.4,569 333.8,570.7 338.3,566.3 325.8,564.6z"/>
<path class="r" d="M321.4,351.5 333.8,353.1 338.3,348.1 325.8,346.5z"/>
<path class="b" d="M333.8,570.7 346.2,572.4 350.7,568 338.3,566.3z"/>
<path class="r" d="M333.8,353.1 346.2,354.9 350.7,349.8 338.3,348.1z"/>
<path class="b" d="M346.2,572.4 358.6,574.1 363.1,569.7 350.7,568z"/>
<path class="r" d="M346.2,354.9 358.6,356.8 363.1,351.8 350.7,349.8z"/>
<path class="b" d="M358.6,574.1 371.1,575.8 375.5,571.4 363.1,569.7z"/>
<path class="r" d="M358.6,356.8 371.1,358.8 375.5,353.8 363.1,351.8z"/>
<path class="b" d="M371.1,575.8 383.5,577.5 387.9,573.1 375.5,571.4z"/>
<path class="r" d="M371.1,358.8 383.5,360.8 387.9,355.8 375.5,353.8z"/>
<path class="b" d="M383.5,577.5 395.9,579.2 400.4,574.8 387.9,573.1z"/>
<path class="r" d="M383.5,360.8 395.9,362.6 400.4,357.7 387.9,355.8z"/>
<path class="b" d="M395.9,579.2 408.3,580.9 412.8,576.5 400.4,574.8z"/>
<path class="r" d="M395.9,362.6 408.3,364.5 412.8,359.5 400.4,357.7z"/>
<path class="b" d="M408.3,580.9 420.7,582.6 425.2,578.2 412.8,576.5z"/>
<path class="r" d="M408.3,364.5 420.7,366.4 425.2,361.4 412.8,359.5z"/>
<path class="b" d="M420.7,582.6 433.2,584.3 437.6,579.9 425.2,578.2z"/>
<path class="r" d="M420.7,366.4 433.2,368.4 437.6,363.4 425.2,361.4z"/>
<path class="b" d="M433.2,584.3 445.6,586 450,581.6 437.6,579.9z"/>
<path class="r" d="M433.2,368.4 445.6,371 450,366 437.6,363.4z"/>
<path class="b" d="M445.6,586 458,587.7 462.5,583.3 450,581.6z"/>
<path class="r" d="M445.6,371 458,373.9 462.5,369.3 450,366z"/>
<path class="b" d="M458,587.7 470.4,589.4 474.9,585 462.5,583.3z"/>
<path class="r" d="M458,373.9 470.4,377.6 474.9,372.7 462.5,369.3z"/>
<path class="b" d="M470.4,589.4 482.8,591.1 487.3,586.7 474.9,585z"/>
<path class="r" d="M470.4,377.6 482.8,380.6 487.3,375.7 474.9,372.7z"/>
<path class="b" d="M482.8,591.1 495.3,592.8 499.7,588.4 487.3,586.7z"/>
<path class="r" d="M482.8,380.6 495.3,383 499.7,378.2 487.3,375.7z"/>
<path class="b" d="M495.3,592.8 507.7,594.5 512.1,590.1 499.7,588.4z"/>
<path class="r" d="M495.3,383 507.7,385.3 512.1,380.7 499.7,378.2z"/>
<path class="b" d="M507.7,594.5 520.1,596.2 524.6,591.8 512.1,590.1z"/>
<path class="r" d="M507.7,385.3 520.1,387.5 524.6,383 512.1,380.7z"/>
<path class="b" d="M520.1,596.2 532.5,597.9 537,593.5 524.6,591.8z"/>
<path class="r" d="M520.1,387.5 532.5,389.6 537,385.2 524.6,383z"/>
<path class="b" d="M532.5,597.9 544.9,599.6 549.4,595.2 537,593.5z"/>
<path class="r" d="M532.5,389.6 544.9,391.7 549.4,387.4 537,385.2z"/>
<path class="b" d="M544.9,599.6 557.4,601.3 561.8,596.9 549.4,595.2z"/>
<path class="r" d="M544.9,391.7 557.4,393.7 561.8,389.5 549.4,387.4z"/>
<path class="b" d="M557.4,601.3 569.8,603 574.2,598.6 561.8,596.9z"/>
<path class="r" d="M557.4,393.7 569.8,395.6 574.2,391.5 561.8,389.5z"/>
<path class="b" d="M569.8,603 582.2,604.7 586.7,600.3 574.2,598.6z"/>
<path class="r" d="M569.8,395.6 582.2,397.6 586.7,393.5 574.2,391.5z"/>
<path class="b" d="M582.2,604.7 594.6,606.4 599.1,602 586.7,600.3z"/>
<path class="r" d="M582.2,397.6 594.6,399.5 599.1,395.4 586.7,393.5z"/>
<path class="b" d="M594.6,606.4 607,608.1 611.5,603.7 599.1,602z"/>
<path class="r" d="M594.6,399.5 607,401.4 611.5,397.3 599.1,395.4z"/>
<path class="b" d="M607,608.1 619.5,609.8 623.9,605.4 611.5,603.7z"/>
<path class="r" d="M607,401.4 619.5,403.3 623.9,399.1 611.5,397.3z"/>
<path class="b" d="M619.5,609.8 631.9,611.5 636.3,607.1 623.9,605.4z"/>
<path class="r" d="M619.5,403.3 631.9,405 636.3,400.8 623.9,399.1z"/>
<path class="b" d="M631.9,611.5 644.3,613.2 648.8,608.8 636.3,607.1z"/>
<path class="r" d="M631.9,405 644.3,406.6 648.8,402.3 636.3,400.8z"/>
<path class="b" d="M644.3,613.2 656.7,614.9 661.2,610.5 648.8,608.8z"/>
<path class="r" d="M644.3,406.6 656.7,408.1 661.2,403.8 648.8,402.3z"/>
<path class="b" d="M656.7,614.9 669.1,616.6 673.6,612.2 661.2,610.5z"/>
<path class="r" d="M656.7,408.1 669.1,409.6 673.6,405.3 661.2,403.8z"/>
<path class="b" d="M180.3,554.6 192.7,556.3 197.2,552 184.8,550.2z"/>
<path class="r" d="M180.3,341.9 192.7,342.9 197.2,338.6 184.8,337.7z"/>
<path class="b" d="M192.7,556.3 205.1,558 209.6,553.7 197.2,552z"/>
<path class="r" d="M192.7,342.9 205.1,344 209.6,339.6 197.2,338.6z"/>
<path class="b" d="M205.1,558 217.5,559.7 222,555.4 209.6,553.7z"/>
<path class="r" d="M205.1,344 217.5,345.2 222,340.7 209.6,339.6z"/>
<path class="b" d="M217.5,559.7 230,561.4 234.4,557.1 222,555.4z"/>
<path class="r" d="M217.5,345.2 230,346.4 234.4,342 222,340.7z"/>
<path class="b" d="M230,561.4 242.4,563.1 246.9,558.8 234.4,557.1z"/>
<path class="r" d="M230,346.4 242.4,347.7 246.9,343.2 234.4,342z"/>
<path class="b" d="M242.4,563.1 254.8,564.8 259.3,560.5 246.9,558.8z"/>
<path class="r" d="M242.4,347.7 254.8,348.8 259.3,344.3 246.9,343.2z"/>
<path class="b" d="M254.8,564.8 267.2,566.5 271.7,562.2 259.3,560.5z"/>
<path class="r" d="M254.8,348.8 267.2,349.9 271.7,345.4 259.3,344.3z"/>
<path class="b" d="M267.2,566.5 279.7,568.2 284.1,563.9 271.7,562.2z"/>
<path class="r" d="M267.2,349.9 279.7,351.3 284.1,346.7 271.7,345.4z"/>
<path class="b" d="M279.7,568.2 292.1,570 296.5,565.6 284.1,563.9z"/>
<path class="r" d="M279.7,351.3 292.1,353 296.5,348.3 284.1,346.7z"/>
<path class="b" d="M292.1,570 304.5,571.7 309,567.3 296.5,565.6z"/>
<path class="r" d="M292.1,353 304.5,354.6 309,349.9 296.5,348.3z"/>
<path class="b" d="M304.5,571.7 316.9,573.4 321.4,569 309,567.3z"/>
<path class="r" d="M304.5,354.6 316.9,356.2 321.4,351.5 309,349.9z"/>
<path class="b" d="M316.9,573.4 329.3,575.1 333.8,570.7 321.4,569z"/>
<path class="r" d="M316.9,356.2 329.3,357.8 333.8,353.1 321.4,351.5z"/>
<path class="b" d="M329.3,575.1 341.8,576.8 346.2,572.4 333.8,570.7z"/>
<path class="r" d="M329.3,357.8 341.8,359.5 346.2,354.9 333.8,353.1z"/>
<path class="b" d="M341.8,576.8 354.2,578.5 358.6,574.1 346.2,572.4z"/>
<path class="r" d="M341.8,359.5 354.2,361.5 358.6,356.8 346.2,354.9z"/>
<path class="b" d="M354.2,578.5 366.6,580.2 371.1,575.8 358.6,574.1z"/>
<path class="r" d="M354.2,361.5 366.6,363.4 371.1,358.8 358.6,356.8z"/>
<path class="b" d="M366.6,580.2 379,581.9 383.5,577.5 371.1,575.8z"/>
<path class="r" d="M366.6,363.4 379,365.4 383.5,360.8 371.1,358.8z"/>
<path class="b" d="M379,581.9 391.4,583.6 395.9,579.2 383.5,577.5z"/>
<path class="r" d="M379,365.4 391.4,367.3 395.9,362.6 383.5,360.8z"/>
<path class="b" d="M391.4,583.6 403.9,585.3 408.3,580.9 395.9,579.2z"/>
<path class="r" d="M391.4,367.3 403.9,369.1 408.3,364.5 395.9,362.6z"/>
<path class="b" d="M403.9,585.3 416.3,587 420.7,582.6 408.3,580.9z"/>
<path class="r" d="M403.9,369.1 416.3,371 420.7,366.4 408.3,364.5z"/>
<path class="b" d="M416.3,587 428.7,588.7 433.2,584.3 420.7,582.6z"/>
<path class="r" d="M416.3,371 428.7,373 433.2,368.4 420.7,366.4z"/>
<path class="b" d="M428.7,588.7 441.1,590.4 445.6,586 433.2,584.3z"/>
<path class="r" d="M428.7,373 441.1,375.6 445.6,371 433.2,368.4z"/>
<path class="b" d="M441.1,590.4 453.5,592.1 458,587.7 445.6,586z"/>
<path class="r" d="M441.1,375.6 453.5,370.5 458,373.9 445.6,371z"/>
<path class="b" d="M453.5,592.1 466,593.8 470.4,589.4 458,587.7z"/>
<path class="r" d="M453.5,370.5 466,380.3 470.4,377.6 458,373.9z"/>
<path class="b" d="M466,593.8 478.4,595.5 482.8,591.1 470.4,589.4z"/>
<path class="r" d="M466,380.3 478.4,384.3 482.8,380.6 470.4,377.6z"/>
<path class="b" d="M478.4,595.5 490.8,597.2 495.3,592.8 482.8,591.1z"/>
<path class="r" d="M478.4,384.3 490.8,387.4 495.3,383 482.8,380.6z"/>
<path class="b" d="M490.8,597.2 503.2,598.9 507.7,594.5 495.3,592.8z"/>
<path class="r" d="M490.8,387.4 503.2,389.8 507.7,385.3 495.3,383z"/>
<path class="b" d="M503.2,598.9 515.6,600.6 520.1,596.2 507.7,594.5z"/>
<path class="r" d="M503.2,389.8 515.6,391.9 520.1,387.5 507.7,385.3z"/>
<path class="b" d="M515.6,600.6 528,602.3 532.5,597.9 520.1,596.2z"/>
<path class="r" d="M515.6,391.9 528,394 532.5,389.6 520.1,387.5z"/>
<path class="b" d="M528,602.3 540.5,604 544.9,599.6 532.5,597.9z"/>
<path class="r" d="M528,394 540.5,395.9 544.9,391.7 532.5,389.6z"/>
<path class="b" d="M540.5,604 552.9,605.7 557.4,601.3 544.9,599.6z"/>
<path class="r" d="M540.5,395.9 552.9,397.8 557.4,393.7 544.9,391.7z"/>
<path class="b" d="M552.9,605.7 565.3,607.4 569.8,603 557.4,601.3z"/>
<path class="r" d="M552.9,397.8 565.3,399.7 569.8,395.6 557.4,393.7z"/>
<path class="b" d="M565.3,607.4 577.7,609.1 582.2,604.7 569.8,603z"/>
<path class="r" d="M565.3,399.7 577.7,401.6 582.2,397.6 569.8,395.6z"/>
<path class="b" d="M577.7,609.1 590.1,610.8 594.6,606.4 582.2,604.7z"/>
<path class="r" d="M577.7,401.6 590.1,403.5 594.6,399.5 582.2,397.6z"/>
<path class="b" d="M590.1,610.8 602.6,612.5 607,608.1 594.6,606.4z"/>
<path class="r" d="M590.1,403.5 602.6,405.5 607,401.4 594.6,399.5z"/>
<path class="b" d="M602.6,612.5 615,614.2 619.5,609.8 607,608.1z"/>
<path class="r" d="M602.6,405.5 615,407.4 619.5,403.3 607,401.4z"/>
<path class="b" d="M615,614.2 627.4,615.9 631.9,611.5 619.5,609.8z"/>
<path class="r" d="M615,407.4 627.4,409.2 631.9,405 619.5,403.3z"/>
<path class="b" d="M627.4,615.9 639.8,617.6 644.3,613.2 631.9,611.5z"/>
<path class="r" d="M627.4,409.2 639.8,410.8 644.3,406.6 631.9,405z"/>
<path class="b" d="M639.8,617.6 652.2,619.3 656.7,614.9 644.3,613.2z"/>
<path class="r" d="M639.8,410.8 652.2,412.4 656.7,408.1 644.3,406.6z"/>
<path class="b" d="M652.2,619.3 664.7,621.1 669.1,616.6 656.7,614.9z"/>
<path class="r" d="M652.2,412.4 664.7,414 669.1,409.6 656.7,408.1z"/>
<path class="b" d="M175.8,559 188.2,560.7 192.7,556.3 180.3,554.6z"/>
<path class="r" d="M175.8,346 188.2,347.1 192.7,342.9 180.3,341.9z"/>
<path class="b" d="M188.2,560.7 200.7,562.4 205.1,558 192.7,556.3z"/>
<path class="r" d="M188.2,347.1 200.7,348.3 205.1,344 192.7,342.9z"/>
<path class="b" d="M200.7,562.4 213.1,564.1 217.5,559.7 205.1,558z"/>
<path class="r" d="M200.7,348.3 213.1,349.5 217.5,345.2 205.1,344z"/>
<path class="b" d="M213.1,564.1 225.5,565.8 230,561.4 217.5,559.7z"/>
<path class="r" d="M213.1,349.5 225.5,350.7 230,346.4 217.5,345.2z"/>
<path class="b" d="M225.5,565.8 237.9,567.5 242.4,563.1 230,561.4z"/>
<path class="r" d="M225.5,350.7 237.9,352 242.4,347.7 230,346.4z"/>
<path class="b" d="M237.9,567.5 250.3,569.2 254.8,564.8 242.4,563.1z"/>
<path class="r" d="M237.9,352 250.3,353.2 254.8,348.8 242.4,347.7z"/>
<path class="b" d="M250.3,569.2 262.8,570.9 267.2,566.5 254.8,564.8z"/>
<path class="r" d="M250.3,353.2 262.8,354.3 267.2,349.9 254.8,348.8z"/>
<path class="b" d="M262.8,570.9 275.2,572.6 279.7,568.2 267.2,566.5z"/>
<path class="r" d="M262.8,354.3 275.2,355.7 279.7,351.3 267.2,349.9z"/>
<path class="b" d="M275.2,572.6 287.6,574.3 292.1,570 279.7,568.2z"/>
<path class="r" d="M275.2,355.7 287.6,357.3 292.1,353 279.7,351.3z"/>
<path class="b" d="M287.6,574.3 300,576 304.5,571.7 292.1,570z"/>
<path class="r" d="M287.6,357.3 300,358.9 304.5,354.6 292.1,353z"/>
<path class="b" d="M300,576 312.4,577.7 316.9,573.4 304.5,571.7z"/>
<path class="r" d="M300,358.9 312.4,360.6 316.9,356.2 304.5,354.6z"/>
<path class="b" d="M312.4,577.7 324.9,579.4 329.3,575.1 316.9,573.4z"/>
<path class="r" d="M312.4,360.6 324.9,362.2 329.3,357.8 316.9,356.2z"/>
<path class="b" d="M324.9,579.4 337.3,581.2 341.8,576.8 329.3,575.1z"/>
<path class="r" d="M324.9,362.2 337.3,363.8 341.8,359.5 329.3,357.8z"/>
<path class="b" d="M337.3,581.2 349.7,582.9 354.2,578.5 341.8,576.8z"/>
<path class="r" d="M337.3,363.8 349.7,365.5 354.2,361.5 341.8,359.5z"/>
<path class="b" d="M349.7,582.9 362.1,584.6 366.6,580.2 354.2,578.5z"/>
<path class="r" d="M349.7,365.5 362.1,367.3 366.6,363.4 354.2,361.5z"/>
<path class="b" d="M362.1,584.6 374.5,586.3 379,581.9 366.6,580.2z"/>
<path class="r" d="M362.1,367.3 374.5,369 379,365.4 366.6,363.4z"/>
<path class="b" d="M374.5,586.3 387,588 391.4,583.6 379,581.9z"/>
<path class="r" d="M374.5,369 387,370.9 391.4,367.3 379,365.4z"/>
<path class="b" d="M387,588 399.4,589.7 403.9,585.3 391.4,583.6z"/>
<path class="r" d="M387,370.9 399.4,372.9 403.9,369.1 391.4,367.3z"/>
<path class="b" d="M399.4,589.7 411.8,591.4 416.3,587 403.9,585.3z"/>
<path class="r" d="M399.4,372.9 411.8,375.1 416.3,371 403.9,369.1z"/>
<path class="b" d="M411.8,591.4 424.2,593.1 428.7,588.7 416.3,587z"/>
<path class="r" d="M411.8,375.1 424.2,377.3 428.7,373 416.3,371z"/>
<path class="m" d="M424.2,593.1 436.6,585.1 441.1,590.4 428.7,588.7z"/>
<path class="g" d="M424.2,377.3 436.6,365.5 441.1,375.6 428.7,373z"/>
<path class="b" d="M436.6,585.1 449.1,596.5 453.5,592.1 441.1,590.4z"/>
<path class="r" d="M436.6,365.5 449.1,379.3 453.5,370.5 441.1,375.6z"/>
<path class="b" d="M449.1,596.5 461.5,598.2 466,593.8 453.5,592.1z"/>
<path class="r" d="M449.1,379.3 461.5,380.8 466,380.3 453.5,370.5z"/>
<path class="b" d="M461.5,598.2 473.9,599.9 478.4,595.5 466,593.8z"/>
<path class="r" d="M461.5,380.8 473.9,385.5 478.4,384.3 466,380.3z"/>
<path class="b" d="M473.9,599.9 486.3,601.6 490.8,597.2 478.4,595.5z"/>
<path class="r" d="M473.9,385.5 486.3,389.5 490.8,387.4 478.4,384.3z"/>
<path class="b" d="M486.3,601.6 498.7,603.3 503.2,598.9 490.8,597.2z"/>
<path class="r" d="M486.3,389.5 498.7,392.8 503.2,389.8 490.8,387.4z"/>
<path class="b" d="M498.7,603.3 511.2,605 515.6,600.6 503.2,598.9z"/>
<path class="r" d="M498.7,392.8 511.2,395.4 515.6,391.9 503.2,389.8z"/>
<path class="b" d="M511.2,605 523.6,606.7 528,602.3 515.6,600.6z"/>
<path class="r" d="M511.2,395.4 523.6,397.2 528,394 515.6,391.9z"/>
<path class="b" d="M523.6,606.7 536,608.4 540.5,604 528,602.3z"/>
<path class="r" d="M523.6,397.2 536,399.1 540.5,395.9 528,394z"/>
<path class="b" d="M536,608.4 548.4,610.1 552.9,605.7 540.5,604z"/>
<path class="r" d="M536,399.1 548.4,401 552.9,397.8 540.5,395.9z"/>
<path class="b" d="M548.4,610.1 560.8,611.8 565.3,607.4 552.9,605.7z"/>
<path class="r" d="M548.4,401 560.8,402.9 565.3,399.7 552.9,397.8z"/>
<path class="b" d="M560.8,611.8 573.3,613.5 577.7,609.1 565.3,607.4z"/>
<path class="r" d="M560.8,402.9 573.3,404.8 577.7,401.6 565.3,399.7z"/>
<path class="b" d="M573.3,613.5 585.7,615.2 590.1,610.8 577.7,609.1z"/>
<path class="r" d="M573.3,404.8 585.7,406.7 590.1,403.5 577.7,401.6z"/>
<path class="b" d="M585.7,615.2 598.1,616.9 602.6,612.5 590.1,610.8z"/>
<path class="r" d="M585.7,406.7 598.1,408.7 602.6,405.5 590.1,403.5z"/>
<path class="b" d="M598.1,616.9 610.5,618.6 615,614.2 602.6,612.5z"/>
<path class="r" d="M598.1,408.7 610.5,410.7 615,407.4 602.6,405.5z"/>
<path class="b" d="M610.5,618.6 622.9,620.4 627.4,615.9 615,614.2z"/>
<path class="r" d="M610.5,410.7 622.9,412.6 627.4,409.2 615,407.4z"/>
<path class="b" d="M622.9,620.4 635.4,622.1 639.8,617.6 627.4,615.9z"/>
<path class="r" d="M622.9,412.6 635.4,414.6 639.8,410.8 627.4,409.2z"/>
<path class="b" d="M635.4,622.1 647.8,623.8 652.2,619.3 639.8,617.6z"/>
<path class="r" d="M635.4,414.6 647.8,416.5 652.2,412.4 639.8,410.8z"/>
<path class="b" d="M647.8,623.8 660.2,625.5 664.7,621.1 652.2,619.3z"/>
<path class="r" d="M647.8,416.5 660.2,418.4 664.7,414 652.2,412.4z"/>
<path class="b" d="M171.4,563.4 183.8,565.1 188.2,560.7 175.8,559z"/>
<path class="r" d="M171.4,350 183.8,351.2 188.2,347.1 175.8,346z"/>
<path class="b" d="M183.8,565.1 196.2,566.8 200.7,562.4 188.2,560.7z"/>
<path class="r" d="M183.8,351.2 196.2,352.4 200.7,348.3 188.2,347.1z"/>
<path class="b" d="M196.2,566.8 208.6,568.5 213.1,564.1 200.7,562.4z"/>
<path class="r" d="M196.2,352.4 208.6,353.7 213.1,349.5 200.7,348.3z"/>
<path class="b" d="M208.6,568.5 221,570.2 225.5,565.8 213.1,564.1z"/>
<path class="r" d="M208.6,353.7 221,355 225.5,350.7 213.1,349.5z"/>
<path class="b" d="M221,570.2 233.5,571.9 237.9,567.5 225.5,565.8z"/>
<path class="r" d="M221,355 233.5,356.3 237.9,352 225.5,350.7z"/>
<path class="b" d="M233.5,571.9 245.9,573.6 250.3,569.2 237.9,567.5z"/>
<path class="r" d="M233.5,356.3 245.9,357.5 250.3,353.2 237.9,352z"/>
<path class="b" d="M245.9,573.6 258.3,575.3 262.8,570.9 250.3,569.2z"/>
<path class="r" d="M245.9,357.5 258.3,358.7 262.8,354.3 250.3,353.2z"/>
<path class="b" d="M258.3,575.3 270.7,577 275.2,572.6 262.8,570.9z"/>
<path class="r" d="M258.3,358.7 270.7,360.1 275.2,355.7 262.8,354.3z"/>
<path class="b" d="M270.7,577 283.1,578.7 287.6,574.3 275.2,572.6z"/>
<path class="r" d="M270.7,360.1 283.1,361.7 287.6,357.3 275.2,355.7z"/>
<path class="b" d="M283.1,578.7 295.6,580.4 300,576 287.6,574.3z"/>
<path class="r" d="M283.1,361.7 295.6,363.3 300,358.9 287.6,357.3z"/>
<path class="b" d="M295.6,580.4 308,582.1 312.4,577.7 300,576z"/>
<path class="r" d="M295.6,363.3 308,364.9 312.4,360.6 300,358.9z"/>
<path class="b" d="M308,582.1 320.4,583.8 324.9,579.4 312.4,577.7z"/>
<path class="r" d="M308,364.9 320.4,366.5 324.9,362.2 312.4,360.6z"/>
<path class="b" d="M320.4,583.8 332.8,585.5 337.3,581.2 324.9,579.4z"/>
<path class="r" d="M320.4,366.5 332.8,367.9 337.3,363.8 324.9,362.2z"/>
<path class="b" d="M332.8,585.5 345.2,587.2 349.7,582.9 337.3,581.2z"/>
<path class="r" d="M332.8,367.9 345.2,368.9 349.7,365.5 337.3,363.8z"/>
<path class="b" d="M345.2,587.2 357.7,588.9 362.1,584.6 349.7,582.9z"/>
<path class="r" d="M345.2,368.9 357.7,369.9 362.1,367.3 349.7,365.5z"/>
<path class="b" d="M357.7,588.9 370.1,590.7 374.5,586.3 362.1,584.6z"/>
<path class="r" d="M357.7,369.9 370.1,371.8 374.5,369 362.1,367.3z"/>
<path class="b" d="M370.1,590.7 382.5,592.4 387,588 374.5,586.3z"/>
<path class="r" d="M370.1,371.8 382.5,370 387,370.9 374.5,369z"/>
<path class="b" d="M382.5,592.4 394.9,594.1 399.4,589.7 387,588z"/>
<path class="g" d="M382.5,370 394.9,371.6 399.4,372.9 387,370.9z"/>
<path class="b" d="M394.9,594.1 407.3,595.8 411.8,591.4 399.4,589.7z"/>
<path class="g" d="M394.9,371.6 407.3,373.2 411.8,375.1 399.4,372.9z"/>
<path class="b" d="M407.3,595.8 419.8,597.5 424.2,593.1 411.8,591.4z"/>
<path class="g" d="M407.3,373.2 419.8,376 424.2,377.3 411.8,375.1z"/>
<path class="b" d="M419.8,597.5 432.2,599.2 436.6,585.1 424.2,593.1z"/>
<path class="r" d="M419.8,376 432.2,381.1 436.6,365.5 424.2,377.3z"/>
<path class="b" d="M432.2,599.2 444.6,600.9 449.1,596.5 436.6,585.1z"/>
<path class="r" d="M432.2,381.1 444.6,388.4 449.1,379.3 436.6,365.5z"/>
<path class="b" d="M444.6,600.9 457,602.6 461.5,598.2 449.1,596.5z"/>
<path class="r" d="M444.6,388.4 457,387.8 461.5,380.8 449.1,379.3z"/>
<path class="b" d="M457,602.6 469.4,604.3 473.9,599.9 461.5,598.2z"/>
<path class="r" d="M457,387.8 469.4,389.2 473.9,385.5 461.5,380.8z"/>
<path class="b" d="M469.4,604.3 481.9,606 486.3,601.6 473.9,599.9z"/>
<path class="r" d="M469.4,389.2 481.9,390.5 486.3,389.5 473.9,385.5z"/>
<path class="b" d="M481.9,606 494.3,607.7 498.7,603.3 486.3,601.6z"/>
<path class="r" d="M481.9,390.5 494.3,394.4 498.7,392.8 486.3,389.5z"/>
<path class="b" d="M494.3,607.7 506.7,609.4 511.2,605 498.7,603.3z"/>
<path class="r" d="M494.3,394.4 506.7,397.6 511.2,395.4 498.7,392.8z"/>
<path class="b" d="M506.7,609.4 519.1,611.1 523.6,606.7 511.2,605z"/>
<path class="r" d="M506.7,397.6 519.1,400.1 523.6,397.2 511.2,395.4z"/>
<path class="b" d="M519.1,611.1 531.5,612.8 536,608.4 523.6,606.7z"/>
<path class="r" d="M519.1,400.1 531.5,401.8 536,399.1 523.6,397.2z"/>
<path class="b" d="M531.5,612.8 544,614.5 548.4,610.1 536,608.4z"/>
<path class="r" d="M531.5,401.8 544,402.7 548.4,401 536,399.1z"/>
<path class="b" d="M544,614.5 556.4,616.2 560.8,611.8 548.4,610.1z"/>
<path class="r" d="M544,402.7 556.4,404.8 560.8,402.9 548.4,401z"/>
<path class="b" d="M556.4,616.2 568.8,617.9 573.3,613.5 560.8,611.8z"/>
<path class="r" d="M556.4,404.8 568.8,406.9 573.3,404.8 560.8,402.9z"/>
<path class="b" d="M568.8,617.9 581.2,619.6 585.7,615.2 573.3,613.5z"/>
<path class="r" d="M568.8,406.9 581.2,409.1 585.7,406.7 573.3,404.8z"/>
<path class="b" d="M581.2,619.6 593.6,621.4 598.1,616.9 585.7,615.2z"/>
<path class="r" d="M581.2,409.1 593.6,411.5 598.1,408.7 585.7,406.7z"/>
<path class="b" d="M593.6,621.4 606.1,623.1 610.5,618.6 598.1,616.9z"/>
<path class="r" d="M593.6,411.5 606.1,413.8 610.5,410.7 598.1,408.7z"/>
<path class="b" d="M606.1,623.1 618.5,624.8 622.9,620.4 610.5,618.6z"/>
<path class="r" d="M606.1,413.8 618.5,416.2 622.9,412.6 610.5,410.7z"/>
<path class="b" d="M618.5,624.8 630.9,626.5 635.4,622.1 622.9,620.4z"/>
<path class="r" d="M618.5,416.2 630.9,418.4 635.4,414.6 622.9,412.6z"/>
<path class="b" d="M630.9,626.5 643.3,628.2 647.8,623.8 635.4,622.1z"/>
<path class="r" d="M630.9,418.4 643.3,420.7 647.8,416.5 635.4,414.6z"/>
<path class="b" d="M643.3,628.2 655.7,629.9 660.2,625.5 647.8,623.8z"/>
<path class="r" d="M643.3,420.7 655.7,422.9 660.2,418.4 647.8,416.5z"/>
<path class="b" d="M166.9,567.7 179.3,569.4 183.8,565.1 171.4,563.4z"/>
<path class="r" d="M166.9,353.9 179.3,355.1 183.8,351.2 171.4,350z"/>
<path class="b" d="M179.3,569.4 191.7,571.1 196.2,566.8 183.8,565.1z"/>
<path class="r" d="M179.3,355.1 191.7,356.4 196.2,352.4 183.8,351.2z"/>
<path class="b" d="M191.7,571.1 204.2,572.9 208.6,568.5 196.2,566.8z"/>
<path class="r" d="M191.7,356.4 204.2,357.7 208.6,353.7 196.2,352.4z"/>
<path class="b" d="M204.2,572.9 216.6,574.6 221,570.2 208.6,568.5z"/>
<path class="r" d="M204.2,357.7 216.6,359.1 221,355 208.6,353.7z"/>
<path class="b" d="M216.6,574.6 229,576.3 233.5,571.9 221,570.2z"/>
<path class="r" d="M216.6,359.1 229,360.5 233.5,356.3 221,355z"/>
<path class="b" d="M229,576.3 241.4,578 245.9,573.6 233.5,571.9z"/>
<path class="r" d="M229,360.5 241.4,361.8 245.9,357.5 233.5,356.3z"/>
<path class="b" d="M241.4,578 253.8,579.7 258.3,575.3 245.9,573.6z"/>
<path class="r" d="M241.4,361.8 253.8,363 258.3,358.7 245.9,357.5z"/>
<path class="b" d="M253.8,579.7 266.3,581.4 270.7,577 258.3,575.3z"/>
<path class="r" d="M253.8,363 266.3,364.4 270.7,360.1 258.3,358.7z"/>
<path class="b" d="M266.3,581.4 278.7,583.1 283.1,578.7 270.7,577z"/>
<path class="r" d="M266.3,364.4 278.7,366 283.1,361.7 270.7,360.1z"/>
<path class="b" d="M278.7,583.1 291.1,584.8 295.6,580.4 283.1,578.7z"/>
<path class="r" d="M278.7,366 291.1,367.7 295.6,363.3 283.1,361.7z"/>
<path class="b" d="M291.1,584.8 303.5,586.5 308,582.1 295.6,580.4z"/>
<path class="r" d="M291.1,367.7 303.5,369.3 308,364.9 295.6,363.3z"/>
<path class="b" d="M303.5,586.5 315.9,588.2 320.4,583.8 308,582.1z"/>
<path class="r" d="M303.5,369.3 315.9,370.9 320.4,366.5 308,364.9z"/>
<path class="b" d="M315.9,588.2 328.4,589.9 332.8,585.5 320.4,583.8z"/>
<path class="r" d="M315.9,370.9 328.4,371.7 332.8,367.9 320.4,366.5z"/>
<path class="b" d="M328.4,589.9 340.8,591.6 345.2,587.2 332.8,585.5z"/>
<path class="r" d="M328.4,371.7 340.8,374.1 345.2,368.9 332.8,367.9z"/>
<path class="b" d="M340.8,591.6 353.2,593.3 357.7,588.9 345.2,587.2z"/>
<path class="r" d="M340.8,374.1 353.2,374.6 357.7,369.9 345.2,368.9z"/>
<path class="b" d="M353.2,593.3 365.6,595 370.1,590.7 357.7,588.9z"/>
<path class="r" d="M353.2,374.6 365.6,371.6 370.1,371.8 357.7,369.9z"/>
<path class="b" d="M365.6,595 378,596.8 382.5,592.4 370.1,590.7z"/>
<path class="g" d="M365.6,371.6 378,366.3 382.5,370 370.1,371.8z"/>
<path class="b" d="M378,596.8 390.5,598.5 394.9,594.1 382.5,592.4z"/>
<path class="g" d="M378,366.3 390.5,367.9 394.9,371.6 382.5,370z"/>
<path class="b" d="M390.5,598.5 402.9,600.2 407.3,595.8 394.9,594.1z"/>
<path class="g" d="M390.5,367.9 402.9,367.2 407.3,373.2 394.9,371.6z"/>
<path class="b" d="M402.9,600.2 415.3,601.9 419.8,597.5 407.3,595.8z"/>
<path class="g" d="M402.9,367.2 415.3,373.4 419.8,376 407.3,373.2z"/>
<path class="b" d="M415.3,601.9 427.7,603.6 432.2,599.2 419.8,597.5z"/>
<path class="r" d="M415.3,373.4 427.7,382 432.2,381.1 419.8,376z"/>
<path class="b" d="M427.7,603.6 440.1,605.3 444.6,600.9 432.2,599.2z"/>
<path class="r" d="M427.7,382 440.1,392.8 444.6,388.4 432.2,381.1z"/>
<path class="b" d="M440.1,605.3 452.6,607 457,602.6 444.6,600.9z"/>
<path class="r" d="M440.1,392.8 452.6,399 457,387.8 444.6,388.4z"/>
<path class="b" d="M452.6,607 465,608.7 469.4,604.3 457,602.6z"/>
<path class="r" d="M452.6,399 465,396.4 469.4,389.2 457,387.8z"/>
<path class="b" d="M465,608.7 477.4,610.4 481.9,606 469.4,604.3z"/>
<path class="r" d="M465,396.4 477.4,397.9 481.9,390.5 469.4,389.2z"/>
<path class="b" d="M477.4,610.4 489.8,612.1 494.3,607.7 481.9,606z"/>
<path class="r" d="M477.4,397.9 489.8,399.1 494.3,394.4 481.9,390.5z"/>
<path class="b" d="M489.8,612.1 502.2,613.8 506.7,609.4 494.3,607.7z"/>
<path class="r" d="M489.8,399.1 502.2,400.2 506.7,397.6 494.3,394.4z"/>
<path class="b" d="M502.2,613.8 514.7,615.5 519.1,611.1 506.7,609.4z"/>
<path class="r" d="M502.2,400.2 514.7,404.2 519.1,400.1 506.7,397.6z"/>
<path class="b" d="M514.7,615.5 527.1,617.2 531.5,612.8 519.1,611.1z"/>
<path class="r" d="M514.7,404.2 527.1,407.5 531.5,401.8 519.1,400.1z"/>
<path class="b" d="M527.1,617.2 539.5,618.9 544,614.5 531.5,612.8z"/>
<path class="r" d="M527.1,407.5 539.5,409.9 544,402.7 531.5,401.8z"/>
<path class="b" d="M539.5,618.9 551.9,620.6 556.4,616.2 544,614.5z"/>
<path class="r" d="M539.5,409.9 551.9,411.5 556.4,404.8 544,402.7z"/>
<path class="b" d="M551.9,620.6 564.3,622.4 568.8,617.9 556.4,616.2z"/>
<path class="r" d="M551.9,411.5 564.3,412.4 568.8,406.9 556.4,404.8z"/>
<path class="b" d="M564.3,622.4 576.8,624.1 581.2,619.6 568.8,617.9z"/>
<path class="r" d="M564.3,412.4 576.8,414.5 581.2,409.1 568.8,406.9z"/>
<path class="b" d="M576.8,624.1 589.2,625.8 593.6,621.4 581.2,619.6z"/>
<path class="r" d="M576.8,414.5 589.2,416.7 593.6,411.5 581.2,409.1z"/>
<path class="b" d="M589.2,625.8 601.6,627.5 606.1,623.1 593.6,621.4z"/>
<path class="r" d="M589.2,416.7 601.6,419 606.1,413.8 593.6,411.5z"/>
<path class="b" d="M601.6,627.5 614,629.2 618.5,624.8 606.1,623.1z"/>
<path class="r" d="M601.6,419 614,421.2 618.5,416.2 606.1,413.8z"/>
<path class="b" d="M614,629.2 626.4,630.9 630.9,626.5 618.5,624.8z"/>
<path class="r" d="M614,421.2 626.4,423.3 630.9,418.4 618.5,416.2z"/>
<path class="b" d="M626.4,630.9 638.9,632.6 643.3,628.2 630.9,626.5z"/>
<path class="r" d="M626.4,423.3 638.9,425.4 643.3,420.7 630.9,418.4z"/>
<path class="b" d="M638.9,632.6 651.3,634.3 655.7,629.9 643.3,628.2z"/>
<path class="r" d="M638.9,425.4 651.3,427.4 655.7,422.9 643.3,420.7z"/>
<path class="b" d="M162.4,572.1 174.8,573.8 179.3,569.4 166.9,567.7z"/>
<path class="r" d="M162.4,357.8 174.8,359 179.3,355.1 166.9,353.9z"/>
<path class="b" d="M174.8,573.8 187.3,575.5 191.7,571.1 179.3,569.4z"/>
<path class="r" d="M174.8,359 187.3,360.3 191.7,356.4 179.3,355.1z"/>
<path class="b" d="M187.3,575.5 199.7,577.2 204.2,572.9 191.7,571.1z"/>
<path class="r" d="M187.3,360.3 199.7,361.7 204.2,357.7 191.7,356.4z"/>
<path class="b" d="M199.7,577.2 212.1,578.9 216.6,574.6 204.2,572.9z"/>
<path class="r" d="M199.7,361.7 212.1,363.2 216.6,359.1 204.2,357.7z"/>
<path class="b" d="M212.1,578.9 224.5,580.6 229,576.3 216.6,574.6z"/>
<path class="r" d="M212.1,363.2 224.5,364.7 229,360.5 216.6,359.1z"/>
<path class="b" d="M224.5,580.6 236.9,582.4 241.4,578 229,576.3z"/>
<path class="r" d="M224.5,364.7 236.9,366 241.4,361.8 229,360.5z"/>
<path class="b" d="M236.9,582.4 249.4,584.1 253.8,579.7 241.4,578z"/>
<path class="r" d="M236.9,366 249.4,367.3 253.8,363 241.4,361.8z"/>
<path class="b" d="M249.4,584.1 261.8,585.8 266.3,581.4 253.8,579.7z"/>
<path class="r" d="M249.4,367.3 261.8,368.7 266.3,364.4 253.8,363z"/>
<path class="b" d="M261.8,585.8 274.2,587.5 278.7,583.1 266.3,581.4z"/>
<path class="r" d="M261.8,368.7 274.2,370.4 278.7,366 266.3,364.4z"/>
<path class="b" d="M274.2,587.5 286.6,589.2 291.1,584.8 278.7,583.1z"/>
<path class="r" d="M274.2,370.4 286.6,372 291.1,367.7 278.7,366z"/>
<path class="b" d="M286.6,589.2 299.1,590.9 303.5,586.5 291.1,584.8z"/>
<path class="r" d="M286.6,372 299.1,373.7 303.5,369.3 291.1,367.7z"/>
<path class="b" d="M299.1,590.9 311.5,592.6 315.9,588.2 303.5,586.5z"/>
<path class="r" d="M299.1,373.7 311.5,373.6 315.9,370.9 303.5,369.3z"/>
<path class="b" d="M311.5,592.6 323.9,594.3 328.4,589.9 315.9,588.2z"/>
<path class="r" d="M311.5,373.6 323.9,374 328.4,371.7 315.9,370.9z"/>
<path class="b" d="M323.9,594.3 336.3,596 340.8,591.6 328.4,589.9z"/>
<path class="r" d="M323.9,374 336.3,373.3 340.8,374.1 328.4,371.7z"/>
<path class="b" d="M336.3,596 348.7,597.7 353.2,593.3 340.8,591.6z"/>
<path class="g" d="M336.3,373.3 348.7,370.9 353.2,374.6 340.8,374.1z"/>
<path class="b" d="M348.7,597.7 361.2,599.4 365.6,595 353.2,593.3z"/>
<path class="g" d="M348.7,370.9 361.2,366.8 365.6,371.6 353.2,374.6z"/>
<path class="b" d="M361.2,599.4 373.6,601.1 378,596.8 365.6,595z"/>
<path class="g" d="M361.2,366.8 373.6,359.2 378,366.3 365.6,371.6z"/>
<path class="b" d="M373.6,601.1 386,602.8 390.5,598.5 378,596.8z"/>
<path class="g" d="M373.6,359.2 386,364.2 390.5,367.9 378,366.3z"/>
<path class="b" d="M386,602.8 398.4,604.6 402.9,600.2 390.5,598.5z"/>
<path class="g" d="M386,364.2 398.4,340.5 402.9,367.2 390.5,367.9z"/>
<path class="b" d="M398.4,604.6 410.8,606.3 415.3,601.9 402.9,600.2z"/>
<path class="g" d="M398.4,340.5 410.8,367.8 415.3,373.4 402.9,367.2z"/>
<path class="b" d="M410.8,606.3 423.2,608 427.7,603.6 415.3,601.9z"/>
<path class="g" d="M410.8,367.8 423.2,378.5 427.7,382 415.3,373.4z"/>
<path class="b" d="M423.2,608 435.7,609.7 440.1,605.3 427.7,603.6z"/>
<path class="r" d="M423.2,378.5 435.7,398.3 440.1,392.8 427.7,382z"/>
<path class="b" d="M435.7,609.7 448.1,611.4 452.6,607 440.1,605.3z"/>
<path class="r" d="M435.7,398.3 448.1,404.5 452.6,399 440.1,392.8z"/>
<path class="b" d="M448.1,611.4 460.5,613.1 465,608.7 452.6,607z"/>
<path class="r" d="M448.1,404.5 460.5,403.5 465,396.4 452.6,399z"/>
<path class="b" d="M460.5,613.1 472.9,614.8 477.4,610.4 465,608.7z"/>
<path class="r" d="M460.5,403.5 472.9,405.2 477.4,397.9 465,396.4z"/>
<path class="b" d="M472.9,614.8 485.4,616.5 489.8,612.1 477.4,610.4z"/>
<path class="r" d="M472.9,405.2 485.4,406.8 489.8,399.1 477.4,397.9z"/>
<path class="b" d="M485.4,616.5 497.8,618.2 502.2,613.8 489.8,612.1z"/>
<path class="r" d="M485.4,406.8 497.8,408.1 502.2,400.2 489.8,399.1z"/>
<path class="b" d="M497.8,618.2 510.2,619.9 514.7,615.5 502.2,613.8z"/>
<path class="r" d="M497.8,408.1 510.2,409.2 514.7,404.2 502.2,400.2z"/>
<path class="b" d="M510.2,619.9 522.6,621.6 527.1,617.2 514.7,615.5z"/>
<path class="r" d="M510.2,409.2 522.6,409.8 527.1,407.5 514.7,404.2z"/>
<path class="b" d="M522.6,621.6 535,623.3 539.5,618.9 527.1,617.2z"/>
<path class="r" d="M522.6,409.8 535,414.1 539.5,409.9 527.1,407.5z"/>
<path class="b" d="M535,623.3 547.4,625.1 551.9,620.6 539.5,618.9z"/>
<path class="r" d="M535,414.1 547.4,417.5 551.9,411.5 539.5,409.9z"/>
<path class="b" d="M547.4,625.1 559.9,626.8 564.3,622.4 551.9,620.6z"/>
<path class="r" d="M547.4,417.5 559.9,420.1 564.3,412.4 551.9,411.5z"/>
<path class="b" d="M559.9,626.8 572.3,628.5 576.8,624.1 564.3,622.4z"/>
<path class="r" d="M559.9,420.1 572.3,421.8 576.8,414.5 564.3,412.4z"/>
<path class="b" d="M572.3,628.5 584.7,630.2 589.2,625.8 576.8,624.1z"/>
<path class="r" d="M572.3,421.8 584.7,422.9 589.2,416.7 576.8,414.5z"/>
<path class="b" d="M584.7,630.2 597.1,631.9 601.6,627.5 589.2,625.8z"/>
<path class="r" d="M584.7,422.9 597.1,424.8 601.6,419 589.2,416.7z"/>
<path class="b" d="M597.1,631.9 609.5,633.6 614,629.2 601.6,627.5z"/>
<path class="r" d="M597.1,424.8 609.5,426.7 614,421.2 601.6,419z"/>
<path class="b" d="M609.5,633.6 622,635.3 626.4,630.9 614,629.2z"/>
<path class="r" d="M609.5,426.7 622,428.5 626.4,423.3 614,421.2z"/>
<path class="b" d="M622,635.3 634.4,637 638.9,632.6 626.4,630.9z"/>
<path class="r" d="M622,428.5 634.4,430.2 638.9,425.4 626.4,423.3z"/>
<path class="b" d="M634.4,637 646.8,638.7 651.3,634.3 638.9,632.6z"/>
<path class="r" d="M634.4,430.2 646.8,432 651.3,427.4 638.9,425.4z"/>
<path class="b" d="M158,576.5 170.4,578.2 174.8,573.8 162.4,572.1z"/>
<path class="r" d="M158,361.5 170.4,362.7 174.8,359 162.4,357.8z"/>
<path class="b" d="M170.4,578.2 182.8,579.9 187.3,575.5 174.8,573.8z"/>
<path class="r" d="M170.4,362.7 182.8,364.1 187.3,360.3 174.8,359z"/>
<path class="b" d="M182.8,579.9 195.2,581.6 199.7,577.2 187.3,575.5z"/>
<path class="r" d="M182.8,364.1 195.2,365.6 199.7,361.7 187.3,360.3z"/>
<path class="b" d="M195.2,581.6 207.6,583.3 212.1,578.9 199.7,577.2z"/>
<path class="r" d="M195.2,365.6 207.6,367.2 212.1,363.2 199.7,361.7z"/>
<path class="b" d="M207.6,583.3 220.1,585 224.5,580.6 212.1,578.9z"/>
<path class="r" d="M207.6,367.2 220.1,368.7 224.5,364.7 212.1,363.2z"/>
<path class="b" d="M220.1,585 232.5,586.7 236.9,582.4 224.5,580.6z"/>
<path class="r" d="M220.1,368.7 232.5,370.2 236.9,366 224.5,364.7z"/>
<path class="b" d="M232.5,586.7 244.9,588.4 249.4,584.1 236.9,582.4z"/>
<path class="r" d="M232.5,370.2 244.9,371.6 249.4,367.3 236.9,366z"/>
<path class="b" d="M244.9,588.4 257.3,590.2 261.8,585.8 249.4,584.1z"/>
<path class="r" d="M244.9,371.6 257.3,373 261.8,368.7 249.4,367.3z"/>
<path class="b" d="M257.3,590.2 269.7,591.9 274.2,587.5 261.8,585.8z"/>
<path class="r" d="M257.3,373 269.7,374.4 274.2,370.4 261.8,368.7z"/>
<path class="b" d="M269.7,591.9 282.2,593.6 286.6,589.2 274.2,587.5z"/>
<path class="r" d="M269.7,374.4 282.2,375.8 286.6,372 274.2,370.4z"/>
<path class="b" d="M282.2,593.6 294.6,595.3 299.1,590.9 286.6,589.2z"/>
<path class="r" d="M282.2,375.8 294.6,377.1 299.1,373.7 286.6,372z"/>
<path class="b" d="M294.6,595.3 307,597 311.5,592.6 299.1,590.9z"/>
<path class="r" d="M294.6,377.1 307,376.8 311.5,373.6 299.1,373.7z"/>
<path class="b" d="M307,597 319.4,598.7 323.9,594.3 311.5,592.6z"/>
<path class="r" d="M307,376.8 319.4,376.7 323.9,374 311.5,373.6z"/>
<path class="b" d="M319.4,598.7 331.8,600.4 336.3,596 323.9,594.3z"/>
<path class="r" d="M319.4,376.7 331.8,375.4 336.3,373.3 323.9,374z"/>
<path class="b" d="M331.8,600.4 344.3,602.1 348.7,597.7 336.3,596z"/>
<path class="r" d="M331.8,375.4 344.3,371.8 348.7,370.9 336.3,373.3z"/>
<path class="b" d="M344.3,602.1 356.7,603.8 361.2,599.4 348.7,597.7z"/>
<path class="g" d="M344.3,371.8 356.7,366.5 361.2,366.8 348.7,370.9z"/>
<path class="b" d="M356.7,603.8 369.1,605.5 373.6,601.1 361.2,599.4z"/>
<path class="g" d="M356.7,366.5 369.1,362.4 373.6,359.2 361.2,366.8z"/>
<path class="b" d="M369.1,605.5 381.5,607.2 386,602.8 373.6,601.1z"/>
<path class="r" d="M369.1,362.4 381.5,365.1 386,364.2 373.6,359.2z"/>
<path class="b" d="M381.5,607.2 393.9,608.9 398.4,604.6 386,602.8z"/>
<path class="r" d="M381.5,365.1 393.9,366.8 398.4,340.5 386,364.2z"/>
<path class="b" d="M393.9,608.9 406.4,610.7 410.8,606.3 398.4,604.6z"/>
<path class="r" d="M393.9,366.8 406.4,375.3 410.8,367.8 398.4,340.5z"/>
<path class="b" d="M406.4,610.7 418.8,612.4 423.2,608 410.8,606.3z"/>
<path class="r" d="M406.4,375.3 418.8,386.1 423.2,378.5 410.8,367.8z"/>
<path class="b" d="M418.8,612.4 431.2,614.1 435.7,609.7 423.2,608z"/>
<path class="r" d="M418.8,386.1 431.2,403.8 435.7,398.3 423.2,378.5z"/>
<path class="b" d="M431.2,614.1 443.6,615.8 448.1,611.4 435.7,609.7z"/>
<path class="r" d="M431.2,403.8 443.6,410.1 448.1,404.5 435.7,398.3z"/>
<path class="b" d="M443.6,615.8 456,617.5 460.5,613.1 448.1,611.4z"/>
<path class="r" d="M443.6,410.1 456,410.7 460.5,403.5 448.1,404.5z"/>
<path class="b" d="M456,617.5 468.5,619.2 472.9,614.8 460.5,613.1z"/>
<path class="r" d="M456,410.7 468.5,412.6 472.9,405.2 460.5,403.5z"/>
<path class="b" d="M468.5,619.2 480.9,620.9 485.4,616.5 472.9,614.8z"/>
<path class="r" d="M468.5,412.6 480.9,414.4 485.4,406.8 472.9,405.2z"/>
<path class="b" d="M480.9,620.9 493.3,622.6 497.8,618.2 485.4,616.5z"/>
<path class="r" d="M480.9,414.4 493.3,416 497.8,408.1 485.4,406.8z"/>
<path class="b" d="M493.3,622.6 505.7,624.3 510.2,619.9 497.8,618.2z"/>
<path class="r" d="M493.3,416 505.7,417.5 510.2,409.2 497.8,408.1z"/>
<path class="b" d="M505.7,624.3 518.1,626 522.6,621.6 510.2,619.9z"/>
<path class="r" d="M505.7,417.5 518.1,418.7 522.6,409.8 510.2,409.2z"/>
<path class="m" d="M518.1,626 530.6,583.7 535,623.3 522.6,621.6z"/>
<path class="r" d="M518.1,418.7 530.6,419.5 535,414.1 522.6,409.8z"/>
<path class="m" d="M530.6,583.7 543,629.5 547.4,625.1 535,623.3z"/>
<path class="r" d="M530.6,419.5 543,419.5 547.4,417.5 535,414.1z"/>
<path class="b" d="M543,629.5 555.4,631.2 559.9,626.8 547.4,625.1z"/>
<path class="r" d="M543,419.5 555.4,423.8 559.9,420.1 547.4,417.5z"/>
<path class="b" d="M555.4,631.2 567.8,632.9 572.3,628.5 559.9,626.8z"/>
<path class="r" d="M555.4,423.8 567.8,427.2 572.3,421.8 559.9,420.1z"/>
<path class="b" d="M567.8,632.9 580.2,634.6 584.7,630.2 572.3,628.5z"/>
<path class="r" d="M567.8,427.2 580.2,428.6 584.7,422.9 572.3,421.8z"/>
<path class="b" d="M580.2,634.6 592.7,636.3 597.1,631.9 584.7,630.2z"/>
<path class="r" d="M580.2,428.6 592.7,430.3 597.1,424.8 584.7,422.9z"/>
<path class="b" d="M592.7,636.3 605.1,638 609.5,633.6 597.1,631.9z"/>
<path class="r" d="M592.7,430.3 605.1,431.9 609.5,426.7 597.1,424.8z"/>
<path class="b" d="M605.1,638 617.5,639.7 622,635.3 609.5,633.6z"/>
<path class="r" d="M605.1,431.9 617.5,433.5 622,428.5 609.5,426.7z"/>
<path class="b" d="M617.5,639.7 629.9,641.4 634.4,637 622,635.3z"/>
<path class="r" d="M617.5,433.5 629.9,435 634.4,430.2 622,428.5z"/>
<path class="b" d="M629.9,641.4 642.3,643.1 646.8,638.7 634.4,637z"/>
<path class="r" d="M629.9,435 642.3,436.6 646.8,432 634.4,430.2z"/>
<path class="b" d="M153.5,580.9 165.9,582.6 170.4,578.2 158,576.5z"/>
<path class="r" d="M153.5,365.3 165.9,366.7 170.4,362.7 158,361.5z"/>
<path class="b" d="M165.9,582.6 178.3,584.3 182.8,579.9 170.4,578.2z"/>
<path class="r" d="M165.9,366.7 178.3,368.1 182.8,364.1 170.4,362.7z"/>
<path class="b" d="M178.3,584.3 190.8,586 195.2,581.6 182.8,579.9z"/>
<path class="r" d="M178.3,368.1 190.8,369.6 195.2,365.6 182.8,364.1z"/>
<path class="b" d="M190.8,586 203.2,587.7 207.6,583.3 195.2,581.6z"/>
<path class="r" d="M190.8,369.6 203.2,371.1 207.6,367.2 195.2,365.6z"/>
<path class="b" d="M203.2,587.7 215.6,589.4 220.1,585 207.6,583.3z"/>
<path class="r" d="M203.2,371.1 215.6,372.7 220.1,368.7 207.6,367.2z"/>
<path class="b" d="M215.6,589.4 228,591.1 232.5,586.7 220.1,585z"/>
<path class="r" d="M215.6,372.7 228,374.4 232.5,370.2 220.1,368.7z"/>
<path class="b" d="M228,591.1 240.4,592.8 244.9,588.4 232.5,586.7z"/>
<path class="r" d="M228,374.4 240.4,375.9 244.9,371.6 232.5,370.2z"/>
<path class="b" d="M240.4,592.8 252.9,594.5 257.3,590.2 244.9,588.4z"/>
<path class="r" d="M240.4,375.9 252.9,377.2 257.3,373 244.9,371.6z"/>
<path class="b" d="M252.9,594.5 265.3,596.2 269.7,591.9 257.3,590.2z"/>
<path class="r" d="M252.9,377.2 265.3,378.4 269.7,374.4 257.3,373z"/>
<path class="b" d="M265.3,596.2 277.7,598 282.2,593.6 269.7,591.9z"/>
<path class="r" d="M265.3,378.4 277.7,379.3 282.2,375.8 269.7,374.4z"/>
<path class="b" d="M277.7,598 290.1,599.7 294.6,595.3 282.2,593.6z"/>
<path class="r" d="M277.7,379.3 290.1,379.8 294.6,377.1 282.2,375.8z"/>
<path class="b" d="M290.1,599.7 302.5,601.4 307,597 294.6,595.3z"/>
<path class="r" d="M290.1,379.8 302.5,379.8 307,376.8 294.6,377.1z"/>
<path class="b" d="M302.5,601.4 315,603.1 319.4,598.7 307,597z"/>
<path class="r" d="M302.5,379.8 315,378.5 319.4,376.7 307,376.8z"/>
<path class="b" d="M315,603.1 327.4,604.8 331.8,600.4 319.4,598.7z"/>
<path class="r" d="M315,378.5 327.4,376 331.8,375.4 319.4,376.7z"/>
<path class="b" d="M327.4,604.8 339.8,606.5 344.3,602.1 331.8,600.4z"/>
<path class="g" d="M327.4,376 339.8,372.7 344.3,371.8 331.8,375.4z"/>
<path class="b" d="M339.8,606.5 352.2,608.2 356.7,603.8 344.3,602.1z"/>
<path class="r" d="M339.8,372.7 352.2,370.2 356.7,366.5 344.3,371.8z"/>
<path class="b" d="M352.2,608.2 364.6,609.9 369.1,605.5 356.7,603.8z"/>
<path class="r" d="M352.2,370.2 364.6,376.1 369.1,362.4 356.7,366.5z"/>
<path class="b" d="M364.6,609.9 377.1,611.6 381.5,607.2 369.1,605.5z"/>
<path class="r" d="M364.6,376.1 377.1,382.3 381.5,365.1 369.1,362.4z"/>
<path class="b" d="M377.1,611.6 389.5,613.3 393.9,608.9 381.5,607.2z"/>
<path class="r" d="M377.1,382.3 389.5,388 393.9,366.8 381.5,365.1z"/>
<path class="b" d="M389.5,613.3 401.9,615.1 406.4,610.7 393.9,608.9z"/>
<path class="r" d="M389.5,388 401.9,395.9 406.4,375.3 393.9,366.8z"/>
<path class="b" d="M401.9,615.1 414.3,616.8 418.8,612.4 406.4,610.7z"/>
<path class="r" d="M401.9,395.9 414.3,403.6 418.8,386.1 406.4,375.3z"/>
<path class="b" d="M414.3,616.8 426.7,618.5 431.2,614.1 418.8,612.4z"/>
<path class="r" d="M414.3,403.6 426.7,412.3 431.2,403.8 418.8,386.1z"/>
<path class="b" d="M426.7,618.5 439.2,620.2 443.6,615.8 431.2,614.1z"/>
<path class="r" d="M426.7,412.3 439.2,415.6 443.6,410.1 431.2,403.8z"/>
<path class="b" d="M439.2,620.2 451.6,621.9 456,617.5 443.6,615.8z"/>
<path class="r" d="M439.2,415.6 451.6,417.8 456,410.7 443.6,410.1z"/>
<path class="b" d="M451.6,621.9 464,623.6 468.5,619.2 456,617.5z"/>
<path class="r" d="M451.6,417.8 464,419.9 468.5,412.6 456,410.7z"/>
<path class="b" d="M464,623.6 476.4,625.3 480.9,620.9 468.5,619.2z"/>
<path class="r" d="M464,419.9 476.4,422 480.9,414.4 468.5,412.6z"/>
<path class="b" d="M476.4,625.3 488.8,627 493.3,622.6 480.9,620.9z"/>
<path class="r" d="M476.4,422 488.8,423.9 493.3,416 480.9,414.4z"/>
<path class="b" d="M488.8,627 501.3,628.7 505.7,624.3 493.3,622.6z"/>
<path class="r" d="M488.8,423.9 501.3,425.8 505.7,417.5 493.3,416z"/>
<path class="b" d="M501.3,628.7 513.7,630.4 518.1,626 505.7,624.3z"/>
<path class="r" d="M501.3,425.8 513.7,427.5 518.1,418.7 505.7,417.5z"/>
<path class="m" d="M513.7,630.4 526.1,555.9 530.6,583.7 518.1,626z"/>
<path class="r" d="M513.7,427.5 526.1,429.2 530.6,419.5 518.1,418.7z"/>
<path class="m" d="M526.1,555.9 538.5,486.1 543,629.5 530.6,583.7z"/>
<path class="r" d="M526.1,429.2 538.5,430.7 543,419.5 530.6,419.5z"/>
<path class="m" d="M538.5,486.1 550.9,635.6 555.4,631.2 543,629.5z"/>
<path class="r" d="M538.5,430.7 550.9,432.3 555.4,423.8 543,419.5z"/>
<path class="b" d="M550.9,635.6 563.4,637.3 567.8,632.9 555.4,631.2z"/>
<path class="r" d="M550.9,432.3 563.4,429.2 567.8,427.2 555.4,423.8z"/>
<path class="b" d="M563.4,637.3 575.8,639 580.2,634.6 567.8,632.9z"/>
<path class="r" d="M563.4,429.2 575.8,435.2 580.2,428.6 567.8,427.2z"/>
<path class="b" d="M575.8,639 588.2,640.7 592.7,636.3 580.2,634.6z"/>
<path class="r" d="M575.8,435.2 588.2,436.5 592.7,430.3 580.2,428.6z"/>
<path class="b" d="M588.2,640.7 600.6,642.4 605.1,638 592.7,636.3z"/>
<path class="r" d="M588.2,436.5 600.6,437.8 605.1,431.9 592.7,430.3z"/>
<path class="b" d="M600.6,642.4 613,644.1 617.5,639.7 605.1,638z"/>
<path class="r" d="M600.6,437.8 613,439 617.5,433.5 605.1,431.9z"/>
<path class="b" d="M613,644.1 625.5,645.8 629.9,641.4 617.5,639.7z"/>
<path class="r" d="M613,439 625.5,440.1 629.9,435 617.5,433.5z"/>
<path class="b" d="M625.5,645.8 637.9,647.5 642.3,643.1 629.9,641.4z"/>
<path class="r" d="M625.5,440.1 637.9,441.2 642.3,436.6 629.9,435z"/>
</g>
<path class="ax" d="M153.5,271.4 L153.5,616.9"/>
<path class="ax" d="M153.5,616.9 L161,616.9"/>

<path class="ax" d="M153.5,559.3 L161,559.3"/>

<path class="ax" d="M153.5,501.7 L161,501.7"/>

<path class="ax" d="M153.5,444.1 L161,444.1"/>

<path class="ax" d="M153.5,386.6 L161,386.6"/>

<path class="ax" d="M153.5,329 L161,329"/>

<path class="ax" d="M153.5,271.4 L161,271.4"/>

<path class="ax" d="M153.5,616.9 L679.7,685.2"/>

<path class="ax" d="M241.2,628.3 L244.4,625.2"/>

<path class="ax" d="M328.9,639.7 L332.1,636.6"/>

<path class="ax" d="M416.6,651 L419.8,647.9"/>

<path class="ax" d="M504.3,662.4 L507.5,659.3"/>

<path class="ax" d="M592,673.8 L595.2,670.7"/>


<path class="ax" d="M679.7,685.2 L871.5,497.4"/>

<path class="ax" d="M701,664.3 L694.8,663.5"/>

<path class="ax" d="M722.3,643.5 L716.1,642.7"/>

<path class="ax" d="M743.6,622.6 L737.4,621.8"/>

<path class="ax" d="M764.9,601.7 L758.7,600.9"/>

<path class="ax" d="M786.3,580.9 L780.1,580.1"/>

<path class="ax" d="M807.6,560 L801.4,559.2"/>

<path class="ax" d="M828.9,539.1 L822.7,538.3"/>

<path class="ax" d="M850.2,518.3 L844,517.5"/>





<path d="M961,59.5 H997" stroke="#ff0000" fill="none"/>
<path d="M961,72.5 H997" stroke="#0080ff" fill="none"/>


<path class="ax" d="M200.5,576 L202.5,576.2"/>
<path class="ax" d="M222.5,555 L224.5,555.2"/>
<path class="ax" d="M265,513.3 L267,513.5"/>
<path class="ax" d="M281.3,491.6 L284.5,491.6"/>
<path class="ax" d="M284.5,492.5 L287.8,492.5"/>
<path class="ax" d="M308,471.4 L310,471.6"/>

</svg>
<svg class="tx" width="1024" height="768" viewBox="0 0 1024 768" style="will-change:transform">
<text x="138.5" y="620.9" text-anchor="end">0</text>
<text x="138.5" y="563.3" text-anchor="end">50</text>
<text x="138.5" y="505.7" text-anchor="end">100</text>
<text x="138.5" y="448.1" text-anchor="end">150</text>
<text x="138.5" y="390.6" text-anchor="end">200</text>
<text x="138.5" y="333" text-anchor="end">250</text>
<text x="138.5" y="275.4" text-anchor="end">300</text>
<text x="153" y="627.9" text-anchor="middle">0</text>
<text x="240.7" y="639.3" text-anchor="middle">100</text>
<text x="328.4" y="650.7" text-anchor="middle">200</text>
<text x="416.1" y="662" text-anchor="middle">300</text>
<text x="503.8" y="673.4" text-anchor="middle">400</text>
<text x="591.5" y="684.8" text-anchor="middle">500</text>
<text x="679.2" y="696.2" text-anchor="middle">600</text>
<text x="696" y="690.2" text-anchor="middle">0</text>
<text x="724.3" y="670" text-anchor="middle">100</text>
<text x="745.6" y="649.2" text-anchor="middle">200</text>
<text x="766.9" y="628.3" text-anchor="middle">300</text>
<text x="788.2" y="607.4" text-anchor="middle">400</text>
<text x="809.6" y="586.6" text-anchor="middle">500</text>
<text x="830.9" y="565.7" text-anchor="middle">600</text>
<text x="852.2" y="544.8" text-anchor="middle">700</text>
<text x="873.5" y="524" text-anchor="middle">800</text>
<text x="894.8" y="503.1" text-anchor="middle">900</text>
<text x="511.5" y="31" text-anchor="middle">albrechtshof 7 July 2011</text>
<text x="953.5" y="64" text-anchor="end">high frequency</text>
<text x="953.5" y="77" text-anchor="end">low frequency</text>
<text x="98.7" y="615.5" text-anchor="start">signal intensity</text>
<text x="369" y="703" text-anchor="middle">metres EW</text>
<text x="907" y="612.6" text-anchor="middle">metres SN</text>
</svg>
</body></html>
